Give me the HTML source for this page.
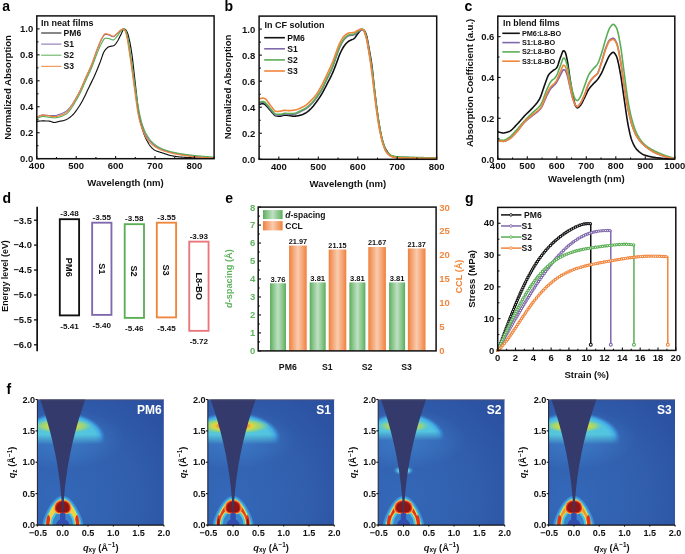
<!DOCTYPE html><html><head><meta charset="utf-8"><style>html,body{margin:0;padding:0;background:#fff;}svg{display:block;filter:blur(0.3px);}text{font-family:'Liberation Sans',sans-serif}</style></head><body>
<svg width="685" height="554" viewBox="0 0 685 554">
<rect width="685" height="554" fill="#fff"/>
<text x="2.2" y="10.8" text-anchor="start" style="font-size:14px;font-weight:bold;fill:#000;">a</text>
<text x="224.5" y="10.8" text-anchor="start" style="font-size:14px;font-weight:bold;fill:#000;">b</text>
<text x="464.6" y="10.6" text-anchor="start" style="font-size:14px;font-weight:bold;fill:#000;">c</text>
<text x="2.6" y="202.7" text-anchor="start" style="font-size:14px;font-weight:bold;fill:#000;">d</text>
<text x="225.2" y="203.3" text-anchor="start" style="font-size:14px;font-weight:bold;fill:#000;">e</text>
<text x="465" y="203.3" text-anchor="start" style="font-size:14px;font-weight:bold;fill:#000;">g</text>
<text x="6.6" y="394.3" text-anchor="start" style="font-size:14px;font-weight:bold;fill:#000;">f</text>
<path d="M36.8,121.7 L37.3,121.54 L37.8,121.39 L38.3,121.26 L38.8,121.15 L39.3,121.08 L39.81,121.04 L40.31,121 L40.81,120.98 L41.31,120.95 L41.81,120.94 L42.31,120.93 L42.81,120.92 L43.31,120.92 L43.81,120.93 L44.31,120.93 L44.81,120.94 L45.31,120.95 L45.82,120.96 L46.32,120.97 L46.82,120.99 L47.32,121 L47.82,121.02 L48.32,121.04 L48.82,121.07 L49.32,121.13 L49.82,121.24 L50.32,121.37 L50.82,121.54 L51.32,121.71 L51.83,121.88 L52.33,122.05 L52.83,122.21 L53.33,122.34 L53.83,122.43 L54.33,122.48 L54.83,122.47 L55.33,122.41 L55.83,122.31 L56.33,122.18 L56.83,122.03 L57.33,121.88 L57.84,121.72 L58.34,121.57 L58.84,121.45 L59.34,121.35 L59.84,121.25 L60.34,121.17 L60.84,121.08 L61.34,121 L61.84,120.91 L62.34,120.82 L62.84,120.72 L63.34,120.6 L63.85,120.46 L64.35,120.3 L64.85,120.12 L65.35,119.92 L65.85,119.69 L66.35,119.46 L66.85,119.21 L67.35,118.94 L67.85,118.67 L68.35,118.37 L68.85,118.05 L69.36,117.71 L69.86,117.34 L70.36,116.96 L70.86,116.55 L71.36,116.13 L71.86,115.69 L72.36,115.23 L72.86,114.75 L73.36,114.23 L73.86,113.67 L74.36,113.08 L74.86,112.46 L75.37,111.8 L75.87,111.13 L76.37,110.43 L76.87,109.72 L77.37,109 L77.87,108.28 L78.37,107.54 L78.87,106.79 L79.37,106.01 L79.87,105.21 L80.37,104.39 L80.87,103.56 L81.38,102.7 L81.88,101.82 L82.38,100.92 L82.88,100.01 L83.38,99.08 L83.88,98.11 L84.38,97.11 L84.88,96.07 L85.38,95 L85.88,93.91 L86.38,92.81 L86.88,91.71 L87.39,90.61 L87.89,89.53 L88.39,88.45 L88.89,87.41 L89.39,86.38 L89.89,85.37 L90.39,84.37 L90.89,83.37 L91.39,82.37 L91.89,81.37 L92.39,80.36 L92.89,79.33 L93.4,78.28 L93.9,77.2 L94.4,76.1 L94.9,74.97 L95.4,73.81 L95.9,72.62 L96.4,71.42 L96.9,70.19 L97.4,68.96 L97.9,67.71 L98.4,66.46 L98.91,65.2 L99.41,63.94 L99.91,62.68 L100.41,61.41 L100.91,60.05 L101.41,58.6 L101.91,57.12 L102.41,55.67 L102.91,54.28 L103.41,53.01 L103.91,51.92 L104.41,51.06 L104.92,50.38 L105.42,49.74 L105.92,49.15 L106.42,48.62 L106.92,48.13 L107.42,47.7 L107.92,47.33 L108.42,47.03 L108.92,46.79 L109.42,46.61 L109.92,46.46 L110.42,46.35 L110.93,46.25 L111.43,46.16 L111.93,46.07 L112.43,45.97 L112.93,45.84 L113.43,45.69 L113.93,45.49 L114.43,45.18 L114.93,44.73 L115.43,44.16 L115.93,43.51 L116.43,42.8 L116.94,42.05 L117.44,41.3 L117.94,40.49 L118.44,39.57 L118.94,38.56 L119.44,37.5 L119.94,36.42 L120.44,35.38 L120.94,34.39 L121.44,33.44 L121.94,32.36 L122.44,31.25 L122.95,30.26 L123.45,29.52 L123.95,29.16 L124.45,29.18 L124.95,29.32 L125.45,29.53 L125.95,29.97 L126.45,30.74 L126.95,31.73 L127.45,32.85 L127.95,34.25 L128.46,36.04 L128.96,38.1 L129.46,40.35 L129.96,42.69 L130.46,45.28 L130.96,48.15 L131.46,51.27 L131.96,54.64 L132.46,58.41 L132.96,62.65 L133.46,67.14 L133.96,71.66 L134.47,76.09 L134.97,80.59 L135.47,85.13 L135.97,89.66 L136.47,94.15 L136.97,98.8 L137.47,103.36 L137.97,107.44 L138.47,110.9 L138.97,114.03 L139.47,116.89 L139.97,119.49 L140.48,121.9 L140.98,124.14 L141.48,126.18 L141.98,128 L142.48,129.63 L142.98,131.18 L143.48,132.63 L143.98,134 L144.48,135.29 L144.98,136.49 L145.48,137.62 L145.98,138.67 L146.49,139.68 L146.99,140.66 L147.49,141.6 L147.99,142.51 L148.49,143.38 L148.99,144.2 L149.49,144.97 L149.99,145.69 L150.49,146.35 L150.99,146.94 L151.49,147.48 L151.99,147.98 L152.5,148.45 L153,148.89 L153.5,149.3 L154,149.67 L154.5,150 L155,150.29 L155.5,150.54 L156,150.77 L156.5,150.99 L157,151.19 L157.5,151.38 L158.01,151.56 L158.51,151.73 L159.01,151.89 L159.51,152.04 L160.01,152.19 L160.51,152.34 L161.01,152.49 L161.51,152.63 L162.01,152.78 L162.51,152.94 L163.01,153.1 L163.51,153.26 L164.02,153.43 L164.52,153.6 L165.02,153.78 L165.52,153.95 L166.02,154.12 L166.52,154.29 L167.02,154.46 L167.52,154.63 L168.02,154.79 L168.52,154.94 L169.02,155.09 L169.52,155.23 L170.03,155.36 L170.53,155.48 L171.03,155.59 L171.53,155.69 L172.03,155.79 L172.53,155.89 L173.03,155.99 L173.53,156.08 L174.03,156.17 L174.53,156.26 L175.03,156.34 L175.53,156.42 L176.04,156.5 L176.54,156.58 L177.04,156.65 L177.54,156.72 L178.04,156.78 L178.54,156.84 L179.04,156.9 L179.54,156.95 L180.04,157 L180.54,157.04 L181.04,157.08 L181.54,157.12 L182.05,157.16 L182.55,157.2 L183.05,157.23 L183.55,157.27 L184.05,157.3 L184.55,157.33 L185.05,157.36 L185.55,157.39 L186.05,157.42 L186.55,157.45 L187.05,157.47 L187.56,157.5 L188.06,157.53 L188.56,157.55 L189.06,157.58 L189.56,157.6 L190.06,157.63 L190.56,157.65 L191.06,157.68 L191.56,157.71 L192.06,157.73 L192.56,157.76 L193.06,157.78 L193.57,157.81 L194.07,157.84 L194.57,157.86 L195.07,157.89 L195.57,157.91 L196.07,157.93 L196.57,157.96 L197.07,157.98 L197.57,158 L198.07,158.03 L198.57,158.05 L199.07,158.07 L199.58,158.09 L200.08,158.11 L200.58,158.12 L201.08,158.14 L201.58,158.16 L202.08,158.17 L202.58,158.19 L203.08,158.2 L203.58,158.22 L204.08,158.23 L204.58,158.25 L205.08,158.26 L205.59,158.27 L206.09,158.29 L206.59,158.3 L207.09,158.31 L207.59,158.32 L208.09,158.34 L208.59,158.35 L209.09,158.36 L209.59,158.37 L210.09,158.38 L210.59,158.39 L211.09,158.4 L211.6,158.41 L212.1,158.41 L212.6,158.42 L213.1,158.43 L213.6,158.43 L214.1,158.44" fill="none" stroke="#111" stroke-width="1.15" stroke-linejoin="round"/>
<path d="M36.8,117.68 L37.3,117.26 L37.8,116.87 L38.3,116.52 L38.8,116.21 L39.3,115.96 L39.81,115.77 L40.31,115.59 L40.81,115.42 L41.31,115.28 L41.81,115.17 L42.31,115.1 L42.81,115.08 L43.31,115.09 L43.81,115.11 L44.31,115.14 L44.81,115.18 L45.31,115.22 L45.82,115.27 L46.32,115.31 L46.82,115.36 L47.32,115.4 L47.82,115.43 L48.32,115.46 L48.82,115.48 L49.32,115.49 L49.82,115.51 L50.32,115.53 L50.82,115.54 L51.32,115.55 L51.83,115.57 L52.33,115.58 L52.83,115.59 L53.33,115.59 L53.83,115.6 L54.33,115.6 L54.83,115.59 L55.33,115.55 L55.83,115.47 L56.33,115.37 L56.83,115.24 L57.33,115.09 L57.84,114.92 L58.34,114.75 L58.84,114.58 L59.34,114.41 L59.84,114.24 L60.34,114.07 L60.84,113.89 L61.34,113.69 L61.84,113.49 L62.34,113.28 L62.84,113.05 L63.34,112.81 L63.85,112.56 L64.35,112.29 L64.85,112 L65.35,111.71 L65.85,111.39 L66.35,111.06 L66.85,110.69 L67.35,110.26 L67.85,109.79 L68.35,109.28 L68.85,108.73 L69.36,108.14 L69.86,107.54 L70.36,106.91 L70.86,106.27 L71.36,105.62 L71.86,104.95 L72.36,104.24 L72.86,103.48 L73.36,102.68 L73.86,101.86 L74.36,101.02 L74.86,100.17 L75.37,99.32 L75.87,98.47 L76.37,97.61 L76.87,96.74 L77.37,95.86 L77.87,94.96 L78.37,94.04 L78.87,93.1 L79.37,92.14 L79.87,91.15 L80.37,90.14 L80.87,89.09 L81.38,88 L81.88,86.89 L82.38,85.75 L82.88,84.6 L83.38,83.44 L83.88,82.28 L84.38,81.12 L84.88,79.97 L85.38,78.83 L85.88,77.71 L86.38,76.61 L86.88,75.52 L87.39,74.44 L87.89,73.36 L88.39,72.28 L88.89,71.19 L89.39,70.09 L89.89,68.98 L90.39,67.84 L90.89,66.67 L91.39,65.46 L91.89,64.21 L92.39,62.9 L92.89,61.55 L93.4,60.16 L93.9,58.74 L94.4,57.31 L94.9,55.88 L95.4,54.46 L95.9,53.05 L96.4,51.68 L96.9,50.36 L97.4,49.08 L97.9,47.81 L98.4,46.52 L98.91,45.24 L99.41,43.99 L99.91,42.78 L100.41,41.64 L100.91,40.58 L101.41,39.62 L101.91,38.75 L102.41,37.84 L102.91,36.93 L103.41,36.08 L103.91,35.34 L104.41,34.76 L104.92,34.41 L105.42,34.34 L105.92,34.37 L106.42,34.43 L106.92,34.51 L107.42,34.62 L107.92,34.74 L108.42,34.86 L108.92,34.99 L109.42,35.15 L109.92,35.37 L110.42,35.62 L110.93,35.88 L111.43,36.14 L111.93,36.37 L112.43,36.55 L112.93,36.65 L113.43,36.66 L113.93,36.5 L114.43,36.21 L114.93,35.81 L115.43,35.35 L115.93,34.86 L116.43,34.38 L116.94,33.94 L117.44,33.46 L117.94,32.93 L118.44,32.37 L118.94,31.81 L119.44,31.28 L119.94,30.79 L120.44,30.37 L120.94,30.04 L121.44,29.71 L121.94,29.4 L122.44,29.14 L122.95,28.96 L123.45,28.88 L123.95,29.03 L124.45,29.45 L124.95,30.08 L125.45,30.83 L125.95,31.98 L126.45,33.74 L126.95,35.86 L127.45,38.12 L127.95,40.68 L128.46,43.65 L128.96,46.84 L129.46,50.08 L129.96,53.42 L130.46,56.91 L130.96,60.5 L131.46,64.14 L131.96,67.78 L132.46,71.4 L132.96,75.11 L133.46,78.85 L133.96,82.56 L134.47,86.18 L134.97,89.66 L135.47,93.04 L135.97,96.37 L136.47,99.62 L136.97,102.73 L137.47,105.68 L137.97,108.46 L138.47,111.16 L138.97,113.72 L139.47,116.1 L139.97,118.24 L140.48,120.15 L140.98,121.89 L141.48,123.51 L141.98,125.03 L142.48,126.5 L142.98,127.96 L143.48,129.39 L143.98,130.79 L144.48,132.11 L144.98,133.34 L145.48,134.45 L145.98,135.42 L146.49,136.28 L146.99,137.1 L147.49,137.87 L147.99,138.59 L148.49,139.28 L148.99,139.92 L149.49,140.53 L149.99,141.11 L150.49,141.65 L150.99,142.17 L151.49,142.66 L151.99,143.14 L152.5,143.6 L153,144.03 L153.5,144.46 L154,144.86 L154.5,145.25 L155,145.62 L155.5,145.98 L156,146.32 L156.5,146.65 L157,146.96 L157.5,147.26 L158.01,147.54 L158.51,147.82 L159.01,148.09 L159.51,148.34 L160.01,148.59 L160.51,148.83 L161.01,149.06 L161.51,149.29 L162.01,149.5 L162.51,149.71 L163.01,149.9 L163.51,150.09 L164.02,150.27 L164.52,150.44 L165.02,150.6 L165.52,150.77 L166.02,150.92 L166.52,151.08 L167.02,151.23 L167.52,151.38 L168.02,151.52 L168.52,151.66 L169.02,151.8 L169.52,151.93 L170.03,152.06 L170.53,152.19 L171.03,152.32 L171.53,152.44 L172.03,152.56 L172.53,152.68 L173.03,152.8 L173.53,152.91 L174.03,153.02 L174.53,153.13 L175.03,153.24 L175.53,153.35 L176.04,153.45 L176.54,153.55 L177.04,153.65 L177.54,153.75 L178.04,153.85 L178.54,153.95 L179.04,154.04 L179.54,154.13 L180.04,154.23 L180.54,154.32 L181.04,154.4 L181.54,154.49 L182.05,154.58 L182.55,154.66 L183.05,154.75 L183.55,154.83 L184.05,154.91 L184.55,154.99 L185.05,155.07 L185.55,155.14 L186.05,155.22 L186.55,155.29 L187.05,155.36 L187.56,155.43 L188.06,155.5 L188.56,155.57 L189.06,155.64 L189.56,155.7 L190.06,155.77 L190.56,155.83 L191.06,155.89 L191.56,155.95 L192.06,156.01 L192.56,156.07 L193.06,156.13 L193.57,156.18 L194.07,156.24 L194.57,156.3 L195.07,156.35 L195.57,156.41 L196.07,156.46 L196.57,156.51 L197.07,156.56 L197.57,156.61 L198.07,156.66 L198.57,156.71 L199.07,156.76 L199.58,156.81 L200.08,156.85 L200.58,156.89 L201.08,156.94 L201.58,156.98 L202.08,157.02 L202.58,157.05 L203.08,157.09 L203.58,157.12 L204.08,157.16 L204.58,157.19 L205.08,157.22 L205.59,157.25 L206.09,157.28 L206.59,157.31 L207.09,157.34 L207.59,157.37 L208.09,157.4 L208.59,157.43 L209.09,157.45 L209.59,157.48 L210.09,157.5 L210.59,157.53 L211.09,157.55 L211.6,157.57 L212.1,157.59 L212.6,157.61 L213.1,157.63 L213.6,157.65 L214.1,157.66" fill="none" stroke="#7f68ab" stroke-width="1.15" stroke-linejoin="round"/>
<path d="M36.8,118.59 L37.3,118.35 L37.8,118.12 L38.3,117.9 L38.8,117.7 L39.3,117.51 L39.81,117.33 L40.31,117.14 L40.81,116.95 L41.31,116.77 L41.81,116.63 L42.31,116.53 L42.81,116.51 L43.31,116.52 L43.81,116.55 L44.31,116.59 L44.81,116.64 L45.31,116.71 L45.82,116.77 L46.32,116.84 L46.82,116.92 L47.32,116.99 L47.82,117.06 L48.32,117.12 L48.82,117.18 L49.32,117.24 L49.82,117.31 L50.32,117.38 L50.82,117.46 L51.32,117.53 L51.83,117.6 L52.33,117.66 L52.83,117.72 L53.33,117.76 L53.83,117.79 L54.33,117.81 L54.83,117.8 L55.33,117.77 L55.83,117.72 L56.33,117.65 L56.83,117.56 L57.33,117.46 L57.84,117.35 L58.34,117.23 L58.84,117.1 L59.34,116.98 L59.84,116.85 L60.34,116.71 L60.84,116.56 L61.34,116.4 L61.84,116.22 L62.34,116.02 L62.84,115.81 L63.34,115.59 L63.85,115.35 L64.35,115.09 L64.85,114.82 L65.35,114.53 L65.85,114.23 L66.35,113.91 L66.85,113.55 L67.35,113.12 L67.85,112.63 L68.35,112.09 L68.85,111.51 L69.36,110.89 L69.86,110.25 L70.36,109.58 L70.86,108.91 L71.36,108.23 L71.86,107.53 L72.36,106.77 L72.86,105.97 L73.36,105.14 L73.86,104.28 L74.36,103.4 L74.86,102.53 L75.37,101.66 L75.87,100.8 L76.37,99.95 L76.87,99.09 L77.37,98.23 L77.87,97.36 L78.37,96.47 L78.87,95.56 L79.37,94.62 L79.87,93.67 L80.37,92.67 L80.87,91.64 L81.38,90.57 L81.88,89.46 L82.38,88.33 L82.88,87.19 L83.38,86.03 L83.88,84.86 L84.38,83.7 L84.88,82.55 L85.38,81.42 L85.88,80.31 L86.38,79.21 L86.88,78.13 L87.39,77.06 L87.89,75.99 L88.39,74.92 L88.89,73.85 L89.39,72.77 L89.89,71.67 L90.39,70.55 L90.89,69.41 L91.39,68.24 L91.89,67.03 L92.39,65.78 L92.89,64.48 L93.4,63.15 L93.9,61.81 L94.4,60.44 L94.9,59.08 L95.4,57.73 L95.9,56.4 L96.4,55.09 L96.9,53.82 L97.4,52.6 L97.9,51.38 L98.4,50.14 L98.91,48.92 L99.41,47.71 L99.91,46.56 L100.41,45.46 L100.91,44.43 L101.41,43.51 L101.91,42.66 L102.41,41.77 L102.91,40.88 L103.41,40.04 L103.91,39.3 L104.41,38.72 L104.92,38.34 L105.42,38.23 L105.92,38.24 L106.42,38.28 L106.92,38.33 L107.42,38.39 L107.92,38.46 L108.42,38.54 L108.92,38.62 L109.42,38.73 L109.92,38.9 L110.42,39.09 L110.93,39.29 L111.43,39.5 L111.93,39.68 L112.43,39.82 L112.93,39.9 L113.43,39.9 L113.93,39.71 L114.43,39.35 L114.93,38.86 L115.43,38.28 L115.93,37.67 L116.43,37.06 L116.94,36.5 L117.44,35.88 L117.94,35.18 L118.44,34.43 L118.94,33.67 L119.44,32.91 L119.94,32.2 L120.44,31.55 L120.94,30.99 L121.44,30.52 L121.94,30.04 L122.44,29.59 L122.95,29.21 L123.45,28.96 L123.95,28.89 L124.45,29.1 L124.95,29.57 L125.45,30.23 L125.95,31.01 L126.45,32.32 L126.95,34.17 L127.45,36.34 L127.95,38.62 L128.46,41.31 L128.96,44.37 L129.46,47.58 L129.96,50.74 L130.46,53.93 L130.96,57.19 L131.46,60.51 L131.96,63.88 L132.46,67.28 L132.96,70.74 L133.46,74.28 L133.96,77.88 L134.47,81.46 L134.97,85 L135.47,88.44 L135.97,91.88 L136.47,95.31 L136.97,98.67 L137.47,101.9 L137.97,104.97 L138.47,107.85 L138.97,110.61 L139.47,113.22 L139.97,115.62 L140.48,117.85 L140.98,119.95 L141.48,121.88 L141.98,123.59 L142.48,125.11 L142.98,126.55 L143.48,127.9 L143.98,129.17 L144.48,130.37 L144.98,131.48 L145.48,132.51 L145.98,133.47 L146.49,134.38 L146.99,135.25 L147.49,136.08 L147.99,136.87 L148.49,137.62 L148.99,138.34 L149.49,139.02 L149.99,139.67 L150.49,140.28 L150.99,140.85 L151.49,141.38 L151.99,141.9 L152.5,142.39 L153,142.86 L153.5,143.32 L154,143.75 L154.5,144.17 L155,144.57 L155.5,144.96 L156,145.33 L156.5,145.68 L157,146.02 L157.5,146.34 L158.01,146.65 L158.51,146.95 L159.01,147.24 L159.51,147.52 L160.01,147.8 L160.51,148.06 L161.01,148.31 L161.51,148.56 L162.01,148.79 L162.51,149.01 L163.01,149.22 L163.51,149.42 L164.02,149.61 L164.52,149.79 L165.02,149.96 L165.52,150.13 L166.02,150.29 L166.52,150.45 L167.02,150.6 L167.52,150.75 L168.02,150.9 L168.52,151.04 L169.02,151.18 L169.52,151.32 L170.03,151.45 L170.53,151.58 L171.03,151.7 L171.53,151.83 L172.03,151.94 L172.53,152.06 L173.03,152.18 L173.53,152.29 L174.03,152.4 L174.53,152.5 L175.03,152.61 L175.53,152.71 L176.04,152.81 L176.54,152.91 L177.04,153.01 L177.54,153.1 L178.04,153.2 L178.54,153.29 L179.04,153.38 L179.54,153.47 L180.04,153.55 L180.54,153.64 L181.04,153.72 L181.54,153.8 L182.05,153.88 L182.55,153.96 L183.05,154.04 L183.55,154.11 L184.05,154.19 L184.55,154.26 L185.05,154.33 L185.55,154.4 L186.05,154.47 L186.55,154.54 L187.05,154.61 L187.56,154.67 L188.06,154.74 L188.56,154.8 L189.06,154.87 L189.56,154.93 L190.06,154.99 L190.56,155.05 L191.06,155.11 L191.56,155.17 L192.06,155.22 L192.56,155.28 L193.06,155.34 L193.57,155.39 L194.07,155.44 L194.57,155.5 L195.07,155.55 L195.57,155.6 L196.07,155.65 L196.57,155.7 L197.07,155.75 L197.57,155.8 L198.07,155.85 L198.57,155.89 L199.07,155.94 L199.58,155.99 L200.08,156.03 L200.58,156.08 L201.08,156.12 L201.58,156.17 L202.08,156.21 L202.58,156.25 L203.08,156.3 L203.58,156.34 L204.08,156.38 L204.58,156.42 L205.08,156.47 L205.59,156.51 L206.09,156.55 L206.59,156.59 L207.09,156.63 L207.59,156.67 L208.09,156.71 L208.59,156.75 L209.09,156.79 L209.59,156.82 L210.09,156.86 L210.59,156.9 L211.09,156.93 L211.6,156.97 L212.1,157.01 L212.6,157.04 L213.1,157.07 L213.6,157.11 L214.1,157.14" fill="none" stroke="#5aae55" stroke-width="1.15" stroke-linejoin="round"/>
<path d="M36.8,117.81 L37.3,117.45 L37.8,117.11 L38.3,116.8 L38.8,116.51 L39.3,116.24 L39.81,116 L40.31,115.75 L40.81,115.5 L41.31,115.28 L41.81,115.1 L42.31,114.98 L42.81,114.95 L43.31,114.97 L43.81,115.01 L44.31,115.07 L44.81,115.15 L45.31,115.23 L45.82,115.33 L46.32,115.43 L46.82,115.53 L47.32,115.63 L47.82,115.73 L48.32,115.81 L48.82,115.89 L49.32,115.97 L49.82,116.05 L50.32,116.14 L50.82,116.23 L51.32,116.31 L51.83,116.39 L52.33,116.47 L52.83,116.53 L53.33,116.58 L53.83,116.62 L54.33,116.64 L54.83,116.63 L55.33,116.6 L55.83,116.54 L56.33,116.46 L56.83,116.36 L57.33,116.24 L57.84,116.11 L58.34,115.97 L58.84,115.83 L59.34,115.69 L59.84,115.55 L60.34,115.39 L60.84,115.23 L61.34,115.05 L61.84,114.85 L62.34,114.64 L62.84,114.42 L63.34,114.17 L63.85,113.91 L64.35,113.64 L64.85,113.34 L65.35,113.03 L65.85,112.7 L66.35,112.35 L66.85,111.95 L67.35,111.47 L67.85,110.92 L68.35,110.32 L68.85,109.66 L69.36,108.97 L69.86,108.25 L70.36,107.51 L70.86,106.77 L71.36,106.03 L71.86,105.29 L72.36,104.51 L72.86,103.69 L73.36,102.85 L73.86,101.98 L74.36,101.1 L74.86,100.21 L75.37,99.33 L75.87,98.44 L76.37,97.54 L76.87,96.64 L77.37,95.73 L77.87,94.8 L78.37,93.86 L78.87,92.89 L79.37,91.91 L79.87,90.9 L80.37,89.86 L80.87,88.78 L81.38,87.67 L81.88,86.53 L82.38,85.37 L82.88,84.19 L83.38,83.01 L83.88,81.82 L84.38,80.64 L84.88,79.47 L85.38,78.32 L85.88,77.18 L86.38,76.07 L86.88,74.98 L87.39,73.9 L87.89,72.82 L88.39,71.74 L88.89,70.66 L89.39,69.56 L89.89,68.45 L90.39,67.31 L90.89,66.15 L91.39,64.94 L91.89,63.69 L92.39,62.39 L92.89,61.03 L93.4,59.64 L93.9,58.22 L94.4,56.79 L94.9,55.36 L95.4,53.94 L95.9,52.54 L96.4,51.17 L96.9,49.84 L97.4,48.56 L97.9,47.29 L98.4,46.01 L98.91,44.73 L99.41,43.48 L99.91,42.28 L100.41,41.14 L100.91,40.07 L101.41,39.11 L101.91,38.22 L102.41,37.29 L102.91,36.36 L103.41,35.48 L103.91,34.72 L104.41,34.13 L104.92,33.77 L105.42,33.69 L105.92,33.72 L106.42,33.8 L106.92,33.91 L107.42,34.04 L107.92,34.18 L108.42,34.33 L108.92,34.47 L109.42,34.64 L109.92,34.87 L110.42,35.12 L110.93,35.38 L111.43,35.64 L111.93,35.86 L112.43,36.03 L112.93,36.13 L113.43,36.14 L113.93,35.99 L114.43,35.71 L114.93,35.33 L115.43,34.89 L115.93,34.42 L116.43,33.97 L116.94,33.56 L117.44,33.13 L117.94,32.66 L118.44,32.17 L118.94,31.68 L119.44,31.2 L119.94,30.76 L120.44,30.37 L120.94,30.04 L121.44,29.69 L121.94,29.36 L122.44,29.09 L122.95,28.92 L123.45,28.91 L123.95,29.24 L124.45,29.86 L124.95,30.65 L125.45,31.7 L125.95,33.34 L126.45,35.38 L126.95,37.63 L127.45,40.16 L127.95,43.21 L128.46,46.54 L128.96,49.91 L129.46,53.18 L129.96,56.48 L130.46,59.83 L130.96,63.24 L131.46,66.7 L131.96,70.22 L132.46,73.82 L132.96,77.51 L133.46,81.27 L133.96,85.04 L134.47,88.8 L134.97,92.52 L135.47,96.38 L135.97,100.27 L136.47,104.04 L136.97,107.5 L137.47,110.54 L137.97,113.34 L138.47,115.94 L138.97,118.32 L139.47,120.44 L139.97,122.28 L140.48,123.92 L140.98,125.41 L141.48,126.8 L141.98,128.14 L142.48,129.46 L142.98,130.77 L143.48,132.04 L143.98,133.27 L144.48,134.43 L144.98,135.51 L145.48,136.49 L145.98,137.36 L146.49,138.15 L146.99,138.9 L147.49,139.61 L147.99,140.29 L148.49,140.92 L148.99,141.52 L149.49,142.09 L149.99,142.63 L150.49,143.14 L150.99,143.62 L151.49,144.08 L151.99,144.52 L152.5,144.94 L153,145.34 L153.5,145.73 L154,146.1 L154.5,146.46 L155,146.81 L155.5,147.14 L156,147.45 L156.5,147.75 L157,148.04 L157.5,148.31 L158.01,148.57 L158.51,148.82 L159.01,149.07 L159.51,149.3 L160.01,149.53 L160.51,149.74 L161.01,149.95 L161.51,150.15 L162.01,150.35 L162.51,150.54 L163.01,150.72 L163.51,150.89 L164.02,151.05 L164.52,151.21 L165.02,151.37 L165.52,151.52 L166.02,151.67 L166.52,151.82 L167.02,151.96 L167.52,152.11 L168.02,152.24 L168.52,152.38 L169.02,152.51 L169.52,152.64 L170.03,152.77 L170.53,152.9 L171.03,153.02 L171.53,153.14 L172.03,153.26 L172.53,153.37 L173.03,153.48 L173.53,153.59 L174.03,153.7 L174.53,153.81 L175.03,153.91 L175.53,154.01 L176.04,154.11 L176.54,154.21 L177.04,154.31 L177.54,154.4 L178.04,154.49 L178.54,154.58 L179.04,154.67 L179.54,154.76 L180.04,154.85 L180.54,154.93 L181.04,155.02 L181.54,155.1 L182.05,155.18 L182.55,155.26 L183.05,155.34 L183.55,155.42 L184.05,155.49 L184.55,155.57 L185.05,155.64 L185.55,155.71 L186.05,155.78 L186.55,155.85 L187.05,155.92 L187.56,155.98 L188.06,156.05 L188.56,156.11 L189.06,156.17 L189.56,156.23 L190.06,156.29 L190.56,156.35 L191.06,156.4 L191.56,156.46 L192.06,156.51 L192.56,156.57 L193.06,156.62 L193.57,156.67 L194.07,156.72 L194.57,156.77 L195.07,156.82 L195.57,156.87 L196.07,156.92 L196.57,156.96 L197.07,157.01 L197.57,157.05 L198.07,157.1 L198.57,157.14 L199.07,157.18 L199.58,157.22 L200.08,157.26 L200.58,157.3 L201.08,157.34 L201.58,157.38 L202.08,157.41 L202.58,157.45 L203.08,157.48 L203.58,157.51 L204.08,157.55 L204.58,157.58 L205.08,157.61 L205.59,157.64 L206.09,157.67 L206.59,157.7 L207.09,157.73 L207.59,157.76 L208.09,157.78 L208.59,157.81 L209.09,157.84 L209.59,157.86 L210.09,157.89 L210.59,157.91 L211.09,157.93 L211.6,157.95 L212.1,157.98 L212.6,158 L213.1,158.01 L213.6,158.03 L214.1,158.05" fill="none" stroke="#f0853c" stroke-width="1.15" stroke-linejoin="round"/>
<rect x="36.8" y="15.9" width="177.3" height="142.8" fill="none" stroke="#111" stroke-width="1.5"/>
<line x1="36.8" y1="158.7" x2="36.8" y2="155.9" stroke="#111" stroke-width="1.1"/>
<line x1="76.2" y1="158.7" x2="76.2" y2="155.9" stroke="#111" stroke-width="1.1"/>
<line x1="115.6" y1="158.7" x2="115.6" y2="155.9" stroke="#111" stroke-width="1.1"/>
<line x1="155" y1="158.7" x2="155" y2="155.9" stroke="#111" stroke-width="1.1"/>
<line x1="194.4" y1="158.7" x2="194.4" y2="155.9" stroke="#111" stroke-width="1.1"/>
<line x1="56.5" y1="158.7" x2="56.5" y2="157" stroke="#111" stroke-width="1.1"/>
<line x1="95.9" y1="158.7" x2="95.9" y2="157" stroke="#111" stroke-width="1.1"/>
<line x1="135.3" y1="158.7" x2="135.3" y2="157" stroke="#111" stroke-width="1.1"/>
<line x1="174.7" y1="158.7" x2="174.7" y2="157" stroke="#111" stroke-width="1.1"/>
<line x1="214.1" y1="158.7" x2="214.1" y2="157" stroke="#111" stroke-width="1.1"/>
<line x1="36.8" y1="158.7" x2="39.6" y2="158.7" stroke="#111" stroke-width="1.1"/>
<line x1="36.8" y1="132.74" x2="39.6" y2="132.74" stroke="#111" stroke-width="1.1"/>
<line x1="36.8" y1="106.77" x2="39.6" y2="106.77" stroke="#111" stroke-width="1.1"/>
<line x1="36.8" y1="80.81" x2="39.6" y2="80.81" stroke="#111" stroke-width="1.1"/>
<line x1="36.8" y1="54.85" x2="39.6" y2="54.85" stroke="#111" stroke-width="1.1"/>
<line x1="36.8" y1="28.88" x2="39.6" y2="28.88" stroke="#111" stroke-width="1.1"/>
<line x1="36.8" y1="145.72" x2="38.5" y2="145.72" stroke="#111" stroke-width="1.1"/>
<line x1="36.8" y1="119.75" x2="38.5" y2="119.75" stroke="#111" stroke-width="1.1"/>
<line x1="36.8" y1="93.79" x2="38.5" y2="93.79" stroke="#111" stroke-width="1.1"/>
<line x1="36.8" y1="67.83" x2="38.5" y2="67.83" stroke="#111" stroke-width="1.1"/>
<line x1="36.8" y1="41.86" x2="38.5" y2="41.86" stroke="#111" stroke-width="1.1"/>
<text x="33.3" y="162.1" text-anchor="end" style="font-size:9.5px;font-weight:bold;fill:#111;">0.0</text>
<text x="33.3" y="136.14" text-anchor="end" style="font-size:9.5px;font-weight:bold;fill:#111;">0.2</text>
<text x="33.3" y="110.17" text-anchor="end" style="font-size:9.5px;font-weight:bold;fill:#111;">0.4</text>
<text x="33.3" y="84.21" text-anchor="end" style="font-size:9.5px;font-weight:bold;fill:#111;">0.6</text>
<text x="33.3" y="58.25" text-anchor="end" style="font-size:9.5px;font-weight:bold;fill:#111;">0.8</text>
<text x="33.3" y="32.28" text-anchor="end" style="font-size:9.5px;font-weight:bold;fill:#111;">1.0</text>
<text x="36.8" y="169.2" text-anchor="middle" style="font-size:9.5px;font-weight:bold;fill:#111;">400</text>
<text x="76.2" y="169.2" text-anchor="middle" style="font-size:9.5px;font-weight:bold;fill:#111;">500</text>
<text x="115.6" y="169.2" text-anchor="middle" style="font-size:9.5px;font-weight:bold;fill:#111;">600</text>
<text x="155" y="169.2" text-anchor="middle" style="font-size:9.5px;font-weight:bold;fill:#111;">700</text>
<text x="194.4" y="169.2" text-anchor="middle" style="font-size:9.5px;font-weight:bold;fill:#111;">800</text>
<text x="125.5" y="186" text-anchor="middle" style="font-size:9.55px;font-weight:bold;fill:#111;">Wavelength (nm)</text>
<text transform="translate(10.9,87.4) rotate(-90)" text-anchor="middle" style="font-size:9.55px;font-weight:bold;fill:#111;">Normalized Absorption</text>
<text x="41" y="25.8" text-anchor="start" style="font-size:9px;font-weight:bold;fill:#111;">In neat films</text>
<line x1="41.2" y1="33" x2="61.4" y2="33" stroke="#111" stroke-width="1"/>
<text x="63.5" y="36.1" text-anchor="start" style="font-size:8.6px;font-weight:bold;fill:#111;">PM6</text>
<line x1="41.2" y1="44.1" x2="61.4" y2="44.1" stroke="#7f68ab" stroke-width="1"/>
<text x="63.5" y="47.2" text-anchor="start" style="font-size:8.6px;font-weight:bold;fill:#111;">S1</text>
<line x1="41.2" y1="55.2" x2="61.4" y2="55.2" stroke="#5aae55" stroke-width="1"/>
<text x="63.5" y="58.3" text-anchor="start" style="font-size:8.6px;font-weight:bold;fill:#111;">S2</text>
<line x1="41.2" y1="66.3" x2="61.4" y2="66.3" stroke="#f0853c" stroke-width="1"/>
<text x="63.5" y="69.4" text-anchor="start" style="font-size:8.6px;font-weight:bold;fill:#111;">S3</text>
<path d="M259.1,104.62 L259.6,104.37 L260.1,104.15 L260.6,103.96 L261.1,103.84 L261.6,103.74 L262.1,103.66 L262.6,103.6 L263.1,103.58 L263.6,103.71 L264.1,103.98 L264.6,104.33 L265.1,104.68 L265.6,105.09 L266.1,105.56 L266.6,106.06 L267.1,106.59 L267.6,107.16 L268.11,107.76 L268.61,108.38 L269.11,109 L269.61,109.61 L270.11,110.21 L270.61,110.78 L271.11,111.31 L271.61,111.86 L272.11,112.43 L272.61,113.01 L273.11,113.58 L273.61,114.12 L274.11,114.62 L274.61,115.06 L275.11,115.42 L275.61,115.68 L276.11,115.83 L276.61,115.92 L277.11,116 L277.61,116.07 L278.11,116.13 L278.61,116.17 L279.11,116.2 L279.61,116.21 L280.11,116.18 L280.61,116.11 L281.11,116 L281.61,115.86 L282.11,115.71 L282.61,115.56 L283.11,115.42 L283.61,115.3 L284.11,115.21 L284.61,115.17 L285.11,115.17 L285.61,115.19 L286.12,115.22 L286.62,115.26 L287.12,115.31 L287.62,115.36 L288.12,115.41 L288.62,115.46 L289.12,115.53 L289.62,115.6 L290.12,115.69 L290.62,115.78 L291.12,115.87 L291.62,115.96 L292.12,116.04 L292.62,116.11 L293.12,116.16 L293.62,116.2 L294.12,116.21 L294.62,116.2 L295.12,116.17 L295.62,116.13 L296.12,116.06 L296.62,115.99 L297.12,115.91 L297.62,115.81 L298.12,115.71 L298.62,115.61 L299.12,115.49 L299.62,115.38 L300.12,115.27 L300.62,115.14 L301.12,114.99 L301.62,114.82 L302.12,114.63 L302.62,114.43 L303.12,114.22 L303.63,113.99 L304.13,113.74 L304.63,113.49 L305.13,113.23 L305.63,112.96 L306.13,112.66 L306.63,112.33 L307.13,111.97 L307.63,111.6 L308.13,111.19 L308.63,110.78 L309.13,110.34 L309.63,109.89 L310.13,109.43 L310.63,108.95 L311.13,108.47 L311.63,107.95 L312.13,107.41 L312.63,106.84 L313.13,106.25 L313.63,105.63 L314.13,105 L314.63,104.36 L315.13,103.71 L315.63,103.05 L316.13,102.38 L316.63,101.71 L317.13,101.02 L317.63,100.32 L318.13,99.61 L318.63,98.88 L319.13,98.13 L319.63,97.37 L320.13,96.6 L320.63,95.81 L321.13,95 L321.64,94.18 L322.14,93.33 L322.64,92.45 L323.14,91.55 L323.64,90.62 L324.14,89.68 L324.64,88.72 L325.14,87.75 L325.64,86.78 L326.14,85.8 L326.64,84.82 L327.14,83.85 L327.64,82.89 L328.14,81.93 L328.64,80.98 L329.14,80.01 L329.64,79.05 L330.14,78.07 L330.64,77.07 L331.14,76.05 L331.64,75 L332.14,73.93 L332.64,72.82 L333.14,71.66 L333.64,70.45 L334.14,69.2 L334.64,67.93 L335.14,66.64 L335.64,65.34 L336.14,64.05 L336.64,62.71 L337.14,61.32 L337.64,59.9 L338.14,58.47 L338.64,57.08 L339.15,55.74 L339.65,54.48 L340.15,53.33 L340.65,52.27 L341.15,51.23 L341.65,50.24 L342.15,49.28 L342.65,48.37 L343.15,47.51 L343.65,46.71 L344.15,45.98 L344.65,45.31 L345.15,44.69 L345.65,44.09 L346.15,43.53 L346.65,43 L347.15,42.5 L347.65,42.05 L348.15,41.63 L348.65,41.26 L349.15,40.93 L349.65,40.65 L350.15,40.41 L350.65,40.2 L351.15,40 L351.65,39.81 L352.15,39.61 L352.65,39.39 L353.15,39.14 L353.65,38.84 L354.15,38.48 L354.65,38 L355.15,37.39 L355.65,36.71 L356.15,35.98 L356.65,35.26 L357.16,34.58 L357.66,33.96 L358.16,33.33 L358.66,32.65 L359.16,31.95 L359.66,31.27 L360.16,30.65 L360.66,30.13 L361.16,29.75 L361.66,29.54 L362.16,29.52 L362.66,29.64 L363.16,29.85 L363.66,30.14 L364.16,30.48 L364.66,31.07 L365.16,31.98 L365.66,33.13 L366.16,34.44 L366.66,36.08 L367.16,38.28 L367.66,40.88 L368.16,43.71 L368.66,46.6 L369.16,49.41 L369.66,52.12 L370.16,54.87 L370.66,57.73 L371.16,60.78 L371.66,64.1 L372.16,67.84 L372.66,72.37 L373.16,77.44 L373.66,82.62 L374.16,87.47 L374.67,91.83 L375.17,96.04 L375.67,100.1 L376.17,104.03 L376.67,107.8 L377.17,111.43 L377.67,114.97 L378.17,118.38 L378.67,121.64 L379.17,124.72 L379.67,127.59 L380.17,130.39 L380.67,133.08 L381.17,135.58 L381.67,137.81 L382.17,139.7 L382.67,141.39 L383.17,142.97 L383.67,144.45 L384.17,145.81 L384.67,147.04 L385.17,148.15 L385.67,149.13 L386.17,149.97 L386.67,150.76 L387.17,151.52 L387.67,152.24 L388.17,152.91 L388.67,153.54 L389.17,154.1 L389.67,154.6 L390.17,155.03 L390.67,155.38 L391.17,155.65 L391.67,155.86 L392.17,156.06 L392.68,156.25 L393.18,156.43 L393.68,156.59 L394.18,156.74 L394.68,156.88 L395.18,157 L395.68,157.1 L396.18,157.19 L396.68,157.26 L397.18,157.32 L397.68,157.35 L398.18,157.38 L398.68,157.4 L399.18,157.42 L399.68,157.45 L400.18,157.47 L400.68,157.48 L401.18,157.5 L401.68,157.52 L402.18,157.53 L402.68,157.55 L403.18,157.56 L403.68,157.57 L404.18,157.58 L404.68,157.59 L405.18,157.61 L405.68,157.62 L406.18,157.62 L406.68,157.63 L407.18,157.64 L407.68,157.65 L408.18,157.66 L408.68,157.67 L409.18,157.68 L409.68,157.69 L410.19,157.7 L410.69,157.71 L411.19,157.72 L411.69,157.73 L412.19,157.74 L412.69,157.75 L413.19,157.77 L413.69,157.78 L414.19,157.79 L414.69,157.8 L415.19,157.81 L415.69,157.82 L416.19,157.84 L416.69,157.85 L417.19,157.86 L417.69,157.87 L418.19,157.88 L418.69,157.89 L419.19,157.9 L419.69,157.92 L420.19,157.93 L420.69,157.94 L421.19,157.95 L421.69,157.96 L422.19,157.97 L422.69,157.98 L423.19,157.99 L423.69,158 L424.19,158.02 L424.69,158.03 L425.19,158.04 L425.69,158.05 L426.19,158.06 L426.69,158.07 L427.19,158.08 L427.69,158.09 L428.2,158.1 L428.7,158.11 L429.2,158.12 L429.7,158.13 L430.2,158.14 L430.7,158.15 L431.2,158.16 L431.7,158.17 L432.2,158.18 L432.7,158.19 L433.2,158.2 L433.7,158.2 L434.2,158.21 L434.7,158.22 L435.2,158.23 L435.7,158.24 L436.2,158.25 L436.7,158.26" fill="none" stroke="#111" stroke-width="1.6" stroke-linejoin="round"/>
<path d="M259.1,103.45 L259.6,103.15 L260.1,102.89 L260.6,102.67 L261.1,102.54 L261.6,102.44 L262.1,102.35 L262.6,102.3 L263.1,102.28 L263.6,102.38 L264.1,102.62 L264.6,102.92 L265.1,103.25 L265.6,103.68 L266.1,104.21 L266.6,104.76 L267.1,105.32 L267.6,105.91 L268.11,106.52 L268.61,107.15 L269.11,107.79 L269.61,108.41 L270.11,109.02 L270.61,109.6 L271.11,110.14 L271.61,110.72 L272.11,111.33 L272.61,111.96 L273.11,112.59 L273.61,113.19 L274.11,113.75 L274.61,114.24 L275.11,114.65 L275.61,114.95 L276.11,115.13 L276.61,115.17 L277.11,115.16 L277.61,115.16 L278.11,115.15 L278.61,115.13 L279.11,115.12 L279.61,115.1 L280.11,115.07 L280.61,115.05 L281.11,115.01 L281.61,114.91 L282.11,114.77 L282.61,114.61 L283.11,114.45 L283.61,114.3 L284.11,114.19 L284.61,114.13 L285.11,114.13 L285.61,114.15 L286.12,114.19 L286.62,114.23 L287.12,114.27 L287.62,114.32 L288.12,114.35 L288.62,114.38 L289.12,114.39 L289.62,114.38 L290.12,114.38 L290.62,114.36 L291.12,114.35 L291.62,114.33 L292.12,114.3 L292.62,114.27 L293.12,114.24 L293.62,114.21 L294.12,114.17 L294.62,114.13 L295.12,114.05 L295.62,113.93 L296.12,113.75 L296.62,113.54 L297.12,113.31 L297.62,113.04 L298.12,112.77 L298.62,112.49 L299.12,112.22 L299.62,111.96 L300.12,111.72 L300.62,111.49 L301.12,111.26 L301.62,111.03 L302.12,110.79 L302.62,110.55 L303.12,110.31 L303.63,110.05 L304.13,109.79 L304.63,109.51 L305.13,109.22 L305.63,108.9 L306.13,108.57 L306.63,108.22 L307.13,107.84 L307.63,107.45 L308.13,107.04 L308.63,106.62 L309.13,106.18 L309.63,105.73 L310.13,105.26 L310.63,104.79 L311.13,104.3 L311.63,103.79 L312.13,103.25 L312.63,102.7 L313.13,102.12 L313.63,101.53 L314.13,100.92 L314.63,100.29 L315.13,99.65 L315.63,99 L316.13,98.35 L316.63,97.68 L317.13,96.99 L317.63,96.29 L318.13,95.58 L318.63,94.84 L319.13,94.09 L319.63,93.32 L320.13,92.53 L320.63,91.71 L321.13,90.87 L321.64,90.01 L322.14,89.1 L322.64,88.15 L323.14,87.16 L323.64,86.13 L324.14,85.08 L324.64,84.01 L325.14,82.93 L325.64,81.84 L326.14,80.76 L326.64,79.69 L327.14,78.64 L327.64,77.61 L328.14,76.61 L328.64,75.62 L329.14,74.63 L329.64,73.63 L330.14,72.62 L330.64,71.59 L331.14,70.53 L331.64,69.42 L332.14,68.27 L332.64,67.06 L333.14,65.75 L333.64,64.34 L334.14,62.88 L334.64,61.38 L335.14,59.88 L335.64,58.42 L336.14,57.01 L336.64,55.59 L337.14,54.15 L337.64,52.71 L338.14,51.29 L338.64,49.91 L339.15,48.61 L339.65,47.39 L340.15,46.29 L340.65,45.28 L341.15,44.31 L341.65,43.36 L342.15,42.47 L342.65,41.63 L343.15,40.85 L343.65,40.13 L344.15,39.5 L344.65,38.95 L345.15,38.44 L345.65,37.95 L346.15,37.49 L346.65,37.06 L347.15,36.67 L347.65,36.33 L348.15,36.05 L348.65,35.84 L349.15,35.68 L349.65,35.57 L350.15,35.48 L350.65,35.4 L351.15,35.34 L351.65,35.28 L352.15,35.21 L352.65,35.14 L353.15,35.05 L353.65,34.94 L354.15,34.79 L354.65,34.54 L355.15,34.2 L355.65,33.8 L356.15,33.37 L356.65,32.94 L357.16,32.53 L357.66,32.19 L358.16,31.84 L358.66,31.47 L359.16,31.09 L359.66,30.73 L360.16,30.41 L360.66,30.15 L361.16,29.97 L361.66,29.9 L362.16,29.94 L362.66,30.06 L363.16,30.24 L363.66,30.57 L364.16,31.32 L364.66,32.42 L365.16,33.77 L365.66,35.29 L366.16,36.89 L366.66,38.72 L367.16,41.03 L367.66,43.69 L368.16,46.56 L368.66,49.52 L369.16,52.42 L369.66,55.33 L370.16,58.34 L370.66,61.46 L371.16,64.71 L371.66,68.08 L372.16,71.61 L372.66,75.41 L373.16,79.41 L373.66,83.53 L374.16,87.7 L374.67,91.83 L375.17,95.88 L375.67,100.02 L376.17,104.19 L376.67,108.26 L377.17,112.12 L377.67,115.67 L378.17,119.05 L378.67,122.3 L379.17,125.39 L379.67,128.29 L380.17,130.96 L380.67,133.44 L381.17,135.79 L381.67,138.01 L382.17,140.06 L382.67,141.94 L383.17,143.63 L383.67,145.25 L384.17,146.8 L384.67,148.24 L385.17,149.53 L385.67,150.62 L386.17,151.47 L386.67,152.16 L387.17,152.8 L387.67,153.39 L388.17,153.93 L388.67,154.43 L389.17,154.87 L389.67,155.27 L390.17,155.61 L390.67,155.89 L391.17,156.12 L391.67,156.31 L392.17,156.48 L392.68,156.64 L393.18,156.79 L393.68,156.93 L394.18,157.06 L394.68,157.18 L395.18,157.28 L395.68,157.37 L396.18,157.45 L396.68,157.52 L397.18,157.57 L397.68,157.61 L398.18,157.64 L398.68,157.67 L399.18,157.7 L399.68,157.73 L400.18,157.76 L400.68,157.78 L401.18,157.81 L401.68,157.83 L402.18,157.85 L402.68,157.87 L403.18,157.89 L403.68,157.91 L404.18,157.93 L404.68,157.95 L405.18,157.96 L405.68,157.98 L406.18,157.99 L406.68,158.01 L407.18,158.02 L407.68,158.03 L408.18,158.05 L408.68,158.06 L409.18,158.07 L409.68,158.08 L410.19,158.09 L410.69,158.1 L411.19,158.12 L411.69,158.13 L412.19,158.14 L412.69,158.15 L413.19,158.16 L413.69,158.17 L414.19,158.18 L414.69,158.2 L415.19,158.21 L415.69,158.22 L416.19,158.24 L416.69,158.25 L417.19,158.27 L417.69,158.28 L418.19,158.29 L418.69,158.31 L419.19,158.32 L419.69,158.34 L420.19,158.35 L420.69,158.37 L421.19,158.38 L421.69,158.4 L422.19,158.41 L422.69,158.42 L423.19,158.44 L423.69,158.45 L424.19,158.46 L424.69,158.48 L425.19,158.49 L425.69,158.51 L426.19,158.52 L426.69,158.53 L427.19,158.55 L427.69,158.56 L428.2,158.57 L428.7,158.58 L429.2,158.6 L429.7,158.61 L430.2,158.62 L430.7,158.64 L431.2,158.65 L431.7,158.66 L432.2,158.67 L432.7,158.69 L433.2,158.7 L433.7,158.71 L434.2,158.72 L434.7,158.73 L435.2,158.74 L435.7,158.76 L436.2,158.77 L436.7,158.78" fill="none" stroke="#7f68ab" stroke-width="1.6" stroke-linejoin="round"/>
<path d="M259.1,102.67 L259.6,102.37 L260.1,102.1 L260.6,101.89 L261.1,101.75 L261.6,101.66 L262.1,101.57 L262.6,101.52 L263.1,101.5 L263.6,101.6 L264.1,101.84 L264.6,102.14 L265.1,102.47 L265.6,102.9 L266.1,103.43 L266.6,103.98 L267.1,104.53 L267.6,105.13 L268.11,105.74 L268.61,106.37 L269.11,107.01 L269.61,107.63 L270.11,108.24 L270.61,108.82 L271.11,109.36 L271.61,109.94 L272.11,110.55 L272.61,111.18 L273.11,111.8 L273.61,112.41 L274.11,112.96 L274.61,113.46 L275.11,113.87 L275.61,114.17 L276.11,114.35 L276.61,114.39 L277.11,114.38 L277.61,114.38 L278.11,114.37 L278.61,114.35 L279.11,114.33 L279.61,114.31 L280.11,114.29 L280.61,114.27 L281.11,114.23 L281.61,114.13 L282.11,113.99 L282.61,113.83 L283.11,113.67 L283.61,113.52 L284.11,113.41 L284.61,113.35 L285.11,113.35 L285.61,113.37 L286.12,113.41 L286.62,113.45 L287.12,113.49 L287.62,113.54 L288.12,113.57 L288.62,113.6 L289.12,113.61 L289.62,113.6 L290.12,113.6 L290.62,113.58 L291.12,113.57 L291.62,113.55 L292.12,113.52 L292.62,113.49 L293.12,113.46 L293.62,113.43 L294.12,113.39 L294.62,113.35 L295.12,113.27 L295.62,113.15 L296.12,112.97 L296.62,112.76 L297.12,112.52 L297.62,112.26 L298.12,111.99 L298.62,111.71 L299.12,111.44 L299.62,111.18 L300.12,110.94 L300.62,110.71 L301.12,110.48 L301.62,110.25 L302.12,110.01 L302.62,109.77 L303.12,109.53 L303.63,109.27 L304.13,109.01 L304.63,108.73 L305.13,108.43 L305.63,108.12 L306.13,107.79 L306.63,107.43 L307.13,107.06 L307.63,106.67 L308.13,106.26 L308.63,105.84 L309.13,105.4 L309.63,104.95 L310.13,104.48 L310.63,104.01 L311.13,103.52 L311.63,103.01 L312.13,102.47 L312.63,101.92 L313.13,101.34 L313.63,100.75 L314.13,100.14 L314.63,99.51 L315.13,98.87 L315.63,98.22 L316.13,97.56 L316.63,96.9 L317.13,96.21 L317.63,95.51 L318.13,94.8 L318.63,94.06 L319.13,93.31 L319.63,92.54 L320.13,91.74 L320.63,90.93 L321.13,90.09 L321.64,89.23 L322.14,88.32 L322.64,87.37 L323.14,86.38 L323.64,85.35 L324.14,84.3 L324.64,83.23 L325.14,82.15 L325.64,81.06 L326.14,79.98 L326.64,78.91 L327.14,77.86 L327.64,76.83 L328.14,75.83 L328.64,74.84 L329.14,73.85 L329.64,72.85 L330.14,71.84 L330.64,70.81 L331.14,69.75 L331.64,68.64 L332.14,67.49 L332.64,66.28 L333.14,64.97 L333.64,63.56 L334.14,62.1 L334.64,60.6 L335.14,59.1 L335.64,57.64 L336.14,56.23 L336.64,54.81 L337.14,53.37 L337.64,51.93 L338.14,50.51 L338.64,49.13 L339.15,47.83 L339.65,46.61 L340.15,45.51 L340.65,44.5 L341.15,43.52 L341.65,42.58 L342.15,41.69 L342.65,40.85 L343.15,40.06 L343.65,39.35 L344.15,38.72 L344.65,38.17 L345.15,37.66 L345.65,37.17 L346.15,36.71 L346.65,36.28 L347.15,35.89 L347.65,35.55 L348.15,35.27 L348.65,35.05 L349.15,34.9 L349.65,34.79 L350.15,34.7 L350.65,34.62 L351.15,34.56 L351.65,34.5 L352.15,34.43 L352.65,34.36 L353.15,34.27 L353.65,34.15 L354.15,34 L354.65,33.76 L355.15,33.42 L355.65,33.02 L356.15,32.59 L356.65,32.15 L357.16,31.75 L357.66,31.41 L358.16,31.06 L358.66,30.69 L359.16,30.31 L359.66,29.95 L360.16,29.63 L360.66,29.37 L361.16,29.19 L361.66,29.12 L362.16,29.16 L362.66,29.28 L363.16,29.45 L363.66,29.79 L364.16,30.54 L364.66,31.64 L365.16,32.99 L365.66,34.51 L366.16,36.11 L366.66,37.94 L367.16,40.25 L367.66,42.91 L368.16,45.78 L368.66,48.74 L369.16,51.64 L369.66,54.55 L370.16,57.56 L370.66,60.68 L371.16,63.93 L371.66,67.3 L372.16,70.83 L372.66,74.62 L373.16,78.63 L373.66,82.75 L374.16,86.92 L374.67,91.05 L375.17,95.1 L375.67,99.24 L376.17,103.41 L376.67,107.48 L377.17,111.34 L377.67,114.89 L378.17,118.27 L378.67,121.52 L379.17,124.61 L379.67,127.51 L380.17,130.18 L380.67,132.66 L381.17,135.01 L381.67,137.23 L382.17,139.28 L382.67,141.16 L383.17,142.85 L383.67,144.46 L384.17,146.02 L384.67,147.46 L385.17,148.75 L385.67,149.84 L386.17,150.69 L386.67,151.38 L387.17,152.02 L387.67,152.61 L388.17,153.15 L388.67,153.65 L389.17,154.09 L389.67,154.49 L390.17,154.83 L390.67,155.11 L391.17,155.34 L391.67,155.53 L392.17,155.7 L392.68,155.86 L393.18,156.01 L393.68,156.15 L394.18,156.28 L394.68,156.4 L395.18,156.5 L395.68,156.59 L396.18,156.67 L396.68,156.74 L397.18,156.79 L397.68,156.83 L398.18,156.86 L398.68,156.89 L399.18,156.92 L399.68,156.95 L400.18,156.98 L400.68,157 L401.18,157.03 L401.68,157.05 L402.18,157.07 L402.68,157.09 L403.18,157.11 L403.68,157.13 L404.18,157.15 L404.68,157.17 L405.18,157.18 L405.68,157.2 L406.18,157.21 L406.68,157.23 L407.18,157.24 L407.68,157.25 L408.18,157.27 L408.68,157.28 L409.18,157.29 L409.68,157.3 L410.19,157.31 L410.69,157.32 L411.19,157.33 L411.69,157.35 L412.19,157.36 L412.69,157.37 L413.19,157.38 L413.69,157.39 L414.19,157.4 L414.69,157.42 L415.19,157.43 L415.69,157.44 L416.19,157.46 L416.69,157.47 L417.19,157.48 L417.69,157.5 L418.19,157.51 L418.69,157.53 L419.19,157.54 L419.69,157.56 L420.19,157.57 L420.69,157.59 L421.19,157.6 L421.69,157.61 L422.19,157.63 L422.69,157.64 L423.19,157.66 L423.69,157.67 L424.19,157.68 L424.69,157.7 L425.19,157.71 L425.69,157.72 L426.19,157.74 L426.69,157.75 L427.19,157.76 L427.69,157.78 L428.2,157.79 L428.7,157.8 L429.2,157.82 L429.7,157.83 L430.2,157.84 L430.7,157.85 L431.2,157.87 L431.7,157.88 L432.2,157.89 L432.7,157.9 L433.2,157.92 L433.7,157.93 L434.2,157.94 L434.7,157.95 L435.2,157.96 L435.7,157.98 L436.2,157.99 L436.7,158" fill="none" stroke="#5aae55" stroke-width="1.6" stroke-linejoin="round"/>
<path d="M259.1,99.55 L259.6,99.15 L260.1,98.8 L260.6,98.53 L261.1,98.37 L261.6,98.27 L262.1,98.19 L262.6,98.13 L263.1,98.12 L263.6,98.19 L264.1,98.34 L264.6,98.56 L265.1,98.81 L265.6,99.18 L266.1,99.67 L266.6,100.2 L267.1,100.77 L267.6,101.41 L268.11,102.11 L268.61,102.83 L269.11,103.57 L269.61,104.3 L270.11,105 L270.61,105.66 L271.11,106.25 L271.61,106.87 L272.11,107.52 L272.61,108.18 L273.11,108.84 L273.61,109.47 L274.11,110.05 L274.61,110.56 L275.11,110.99 L275.61,111.3 L276.11,111.48 L276.61,111.52 L277.11,111.51 L277.61,111.49 L278.11,111.45 L278.61,111.4 L279.11,111.35 L279.61,111.29 L280.11,111.23 L280.61,111.16 L281.11,111.08 L281.61,110.95 L282.11,110.78 L282.61,110.61 L283.11,110.47 L283.61,110.37 L284.11,110.35 L284.61,110.36 L285.11,110.39 L285.61,110.42 L286.12,110.45 L286.62,110.49 L287.12,110.53 L287.62,110.56 L288.12,110.59 L288.62,110.61 L289.12,110.61 L289.62,110.61 L290.12,110.59 L290.62,110.56 L291.12,110.52 L291.62,110.47 L292.12,110.41 L292.62,110.34 L293.12,110.27 L293.62,110.18 L294.12,110.1 L294.62,110.01 L295.12,109.91 L295.62,109.82 L296.12,109.72 L296.62,109.6 L297.12,109.45 L297.62,109.28 L298.12,109.08 L298.62,108.87 L299.12,108.65 L299.62,108.43 L300.12,108.21 L300.62,107.99 L301.12,107.77 L301.62,107.55 L302.12,107.32 L302.62,107.08 L303.12,106.83 L303.63,106.57 L304.13,106.3 L304.63,106.01 L305.13,105.71 L305.63,105.38 L306.13,105.03 L306.63,104.64 L307.13,104.23 L307.63,103.79 L308.13,103.34 L308.63,102.87 L309.13,102.38 L309.63,101.89 L310.13,101.39 L310.63,100.89 L311.13,100.39 L311.63,99.88 L312.13,99.37 L312.63,98.85 L313.13,98.31 L313.63,97.76 L314.13,97.19 L314.63,96.6 L315.13,95.99 L315.63,95.36 L316.13,94.7 L316.63,94.01 L317.13,93.27 L317.63,92.5 L318.13,91.69 L318.63,90.86 L319.13,90 L319.63,89.11 L320.13,88.21 L320.63,87.3 L321.13,86.38 L321.64,85.45 L322.14,84.5 L322.64,83.53 L323.14,82.53 L323.64,81.51 L324.14,80.47 L324.64,79.42 L325.14,78.36 L325.64,77.29 L326.14,76.22 L326.64,75.15 L327.14,74.08 L327.64,73.02 L328.14,71.97 L328.64,70.93 L329.14,69.87 L329.64,68.81 L330.14,67.74 L330.64,66.65 L331.14,65.53 L331.64,64.39 L332.14,63.2 L332.64,61.98 L333.14,60.69 L333.64,59.32 L334.14,57.91 L334.64,56.48 L335.14,55.06 L335.64,53.67 L336.14,52.33 L336.64,50.99 L337.14,49.62 L337.64,48.26 L338.14,46.92 L338.64,45.62 L339.15,44.4 L339.65,43.26 L340.15,42.25 L340.65,41.32 L341.15,40.41 L341.65,39.54 L342.15,38.72 L342.65,37.94 L343.15,37.23 L343.65,36.6 L344.15,36.04 L344.65,35.57 L345.15,35.15 L345.65,34.75 L346.15,34.38 L346.65,34.03 L347.15,33.73 L347.65,33.46 L348.15,33.25 L348.65,33.08 L349.15,32.97 L349.65,32.89 L350.15,32.82 L350.65,32.77 L351.15,32.72 L351.65,32.68 L352.15,32.63 L352.65,32.58 L353.15,32.52 L353.65,32.44 L354.15,32.33 L354.65,32.14 L355.15,31.88 L355.65,31.57 L356.15,31.24 L356.65,30.92 L357.16,30.62 L357.66,30.38 L358.16,30.15 L358.66,29.91 L359.16,29.67 L359.66,29.46 L360.16,29.29 L360.66,29.17 L361.16,29.12 L361.66,29.16 L362.16,29.28 L362.66,29.46 L363.16,29.7 L363.66,30.11 L364.16,30.98 L364.66,32.24 L365.16,33.77 L365.66,35.48 L366.16,37.26 L366.66,39.26 L367.16,41.7 L367.66,44.49 L368.16,47.51 L368.66,50.63 L369.16,53.76 L369.66,56.97 L370.16,60.35 L370.66,63.88 L371.16,67.52 L371.66,71.27 L372.16,75.11 L372.66,79.18 L373.16,83.44 L373.66,87.78 L374.16,92.09 L374.67,96.27 L375.17,100.25 L375.67,104.21 L376.17,108.11 L376.67,111.87 L377.17,115.42 L377.67,118.71 L378.17,121.84 L378.67,124.83 L379.17,127.67 L379.67,130.33 L380.17,132.82 L380.67,135.14 L381.17,137.38 L381.67,139.49 L382.17,141.44 L382.67,143.21 L383.17,144.76 L383.67,146.2 L384.17,147.57 L384.67,148.84 L385.17,149.97 L385.67,150.95 L386.17,151.73 L386.67,152.4 L387.17,153.03 L387.67,153.62 L388.17,154.17 L388.67,154.68 L389.17,155.13 L389.67,155.53 L390.17,155.88 L390.67,156.16 L391.17,156.39 L391.67,156.56 L392.17,156.72 L392.68,156.87 L393.18,157.01 L393.68,157.15 L394.18,157.27 L394.68,157.38 L395.18,157.47 L395.68,157.56 L396.18,157.62 L396.68,157.68 L397.18,157.72 L397.68,157.74 L398.18,157.76 L398.68,157.77 L399.18,157.79 L399.68,157.8 L400.18,157.81 L400.68,157.83 L401.18,157.84 L401.68,157.86 L402.18,157.87 L402.68,157.88 L403.18,157.9 L403.68,157.91 L404.18,157.92 L404.68,157.93 L405.18,157.94 L405.68,157.96 L406.18,157.97 L406.68,157.98 L407.18,157.99 L407.68,158 L408.18,158.01 L408.68,158.02 L409.18,158.03 L409.68,158.04 L410.19,158.05 L410.69,158.06 L411.19,158.07 L411.69,158.07 L412.19,158.08 L412.69,158.09 L413.19,158.1 L413.69,158.11 L414.19,158.11 L414.69,158.12 L415.19,158.13 L415.69,158.13 L416.19,158.14 L416.69,158.15 L417.19,158.15 L417.69,158.16 L418.19,158.17 L418.69,158.17 L419.19,158.18 L419.69,158.18 L420.19,158.19 L420.69,158.19 L421.19,158.2 L421.69,158.2 L422.19,158.2 L422.69,158.21 L423.19,158.21 L423.69,158.22 L424.19,158.22 L424.69,158.22 L425.19,158.23 L425.69,158.23 L426.19,158.23 L426.69,158.23 L427.19,158.24 L427.69,158.24 L428.2,158.24 L428.7,158.24 L429.2,158.25 L429.7,158.25 L430.2,158.25 L430.7,158.25 L431.2,158.25 L431.7,158.25 L432.2,158.25 L432.7,158.25 L433.2,158.26 L433.7,158.26 L434.2,158.26 L434.7,158.26 L435.2,158.26 L435.7,158.26 L436.2,158.26 L436.7,158.26" fill="none" stroke="#f0853c" stroke-width="1.6" stroke-linejoin="round"/>
<rect x="259.1" y="16.1" width="177.6" height="143.2" fill="none" stroke="#111" stroke-width="1.5"/>
<line x1="278.83" y1="159.3" x2="278.83" y2="156.5" stroke="#111" stroke-width="1.1"/>
<line x1="318.3" y1="159.3" x2="318.3" y2="156.5" stroke="#111" stroke-width="1.1"/>
<line x1="357.77" y1="159.3" x2="357.77" y2="156.5" stroke="#111" stroke-width="1.1"/>
<line x1="397.23" y1="159.3" x2="397.23" y2="156.5" stroke="#111" stroke-width="1.1"/>
<line x1="436.7" y1="159.3" x2="436.7" y2="156.5" stroke="#111" stroke-width="1.1"/>
<line x1="259.1" y1="159.3" x2="259.1" y2="157.6" stroke="#111" stroke-width="1.1"/>
<line x1="298.57" y1="159.3" x2="298.57" y2="157.6" stroke="#111" stroke-width="1.1"/>
<line x1="338.03" y1="159.3" x2="338.03" y2="157.6" stroke="#111" stroke-width="1.1"/>
<line x1="377.5" y1="159.3" x2="377.5" y2="157.6" stroke="#111" stroke-width="1.1"/>
<line x1="416.97" y1="159.3" x2="416.97" y2="157.6" stroke="#111" stroke-width="1.1"/>
<line x1="259.1" y1="159.3" x2="261.9" y2="159.3" stroke="#111" stroke-width="1.1"/>
<line x1="259.1" y1="133.26" x2="261.9" y2="133.26" stroke="#111" stroke-width="1.1"/>
<line x1="259.1" y1="107.23" x2="261.9" y2="107.23" stroke="#111" stroke-width="1.1"/>
<line x1="259.1" y1="81.19" x2="261.9" y2="81.19" stroke="#111" stroke-width="1.1"/>
<line x1="259.1" y1="55.15" x2="261.9" y2="55.15" stroke="#111" stroke-width="1.1"/>
<line x1="259.1" y1="29.12" x2="261.9" y2="29.12" stroke="#111" stroke-width="1.1"/>
<line x1="259.1" y1="146.28" x2="260.8" y2="146.28" stroke="#111" stroke-width="1.1"/>
<line x1="259.1" y1="120.25" x2="260.8" y2="120.25" stroke="#111" stroke-width="1.1"/>
<line x1="259.1" y1="94.21" x2="260.8" y2="94.21" stroke="#111" stroke-width="1.1"/>
<line x1="259.1" y1="68.17" x2="260.8" y2="68.17" stroke="#111" stroke-width="1.1"/>
<line x1="259.1" y1="42.14" x2="260.8" y2="42.14" stroke="#111" stroke-width="1.1"/>
<text x="255.2" y="162.7" text-anchor="end" style="font-size:9.5px;font-weight:bold;fill:#111;">0.0</text>
<text x="255.2" y="136.66" text-anchor="end" style="font-size:9.5px;font-weight:bold;fill:#111;">0.2</text>
<text x="255.2" y="110.63" text-anchor="end" style="font-size:9.5px;font-weight:bold;fill:#111;">0.4</text>
<text x="255.2" y="84.59" text-anchor="end" style="font-size:9.5px;font-weight:bold;fill:#111;">0.6</text>
<text x="255.2" y="58.55" text-anchor="end" style="font-size:9.5px;font-weight:bold;fill:#111;">0.8</text>
<text x="255.2" y="32.52" text-anchor="end" style="font-size:9.5px;font-weight:bold;fill:#111;">1.0</text>
<text x="278.83" y="169.6" text-anchor="middle" style="font-size:9.5px;font-weight:bold;fill:#111;">400</text>
<text x="318.3" y="169.6" text-anchor="middle" style="font-size:9.5px;font-weight:bold;fill:#111;">500</text>
<text x="357.77" y="169.6" text-anchor="middle" style="font-size:9.5px;font-weight:bold;fill:#111;">600</text>
<text x="397.23" y="169.6" text-anchor="middle" style="font-size:9.5px;font-weight:bold;fill:#111;">700</text>
<text x="436.7" y="169.6" text-anchor="middle" style="font-size:9.5px;font-weight:bold;fill:#111;">800</text>
<text x="347.9" y="187.2" text-anchor="middle" style="font-size:9.55px;font-weight:bold;fill:#111;">Wavelength (nm)</text>
<text transform="translate(230.9,86.9) rotate(-90)" text-anchor="middle" style="font-size:9.55px;font-weight:bold;fill:#111;">Normalized Absorption</text>
<text x="264.6" y="27.6" text-anchor="start" style="font-size:9px;font-weight:bold;fill:#111;">In CF solution</text>
<line x1="264.2" y1="37.7" x2="284.9" y2="37.7" stroke="#111" stroke-width="1.6"/>
<text x="287.2" y="40.6" text-anchor="start" style="font-size:8.6px;font-weight:bold;fill:#111;">PM6</text>
<line x1="264.2" y1="48.8" x2="284.9" y2="48.8" stroke="#7f68ab" stroke-width="1.6"/>
<text x="287.2" y="51.7" text-anchor="start" style="font-size:8.6px;font-weight:bold;fill:#111;">S1</text>
<line x1="264.2" y1="59.9" x2="284.9" y2="59.9" stroke="#5aae55" stroke-width="1.6"/>
<text x="287.2" y="62.8" text-anchor="start" style="font-size:8.6px;font-weight:bold;fill:#111;">S2</text>
<line x1="264.2" y1="71" x2="284.9" y2="71" stroke="#f0853c" stroke-width="1.6"/>
<text x="287.2" y="73.9" text-anchor="start" style="font-size:8.6px;font-weight:bold;fill:#111;">S3</text>
<path d="M497.8,131.54 L498.3,131.76 L498.8,131.96 L499.3,132.14 L499.81,132.31 L500.31,132.45 L500.81,132.57 L501.31,132.69 L501.81,132.81 L502.31,132.9 L502.81,132.96 L503.32,132.97 L503.82,132.94 L504.32,132.89 L504.82,132.81 L505.32,132.71 L505.82,132.59 L506.32,132.46 L506.83,132.3 L507.33,132.14 L507.83,131.97 L508.33,131.79 L508.83,131.61 L509.33,131.41 L509.83,131.16 L510.34,130.85 L510.84,130.51 L511.34,130.11 L511.84,129.69 L512.34,129.23 L512.84,128.74 L513.34,128.24 L513.85,127.71 L514.35,127.18 L514.85,126.64 L515.35,126.1 L515.85,125.56 L516.35,125.03 L516.85,124.52 L517.36,124.01 L517.86,123.49 L518.36,122.95 L518.86,122.39 L519.36,121.83 L519.86,121.25 L520.36,120.67 L520.87,120.09 L521.37,119.5 L521.87,118.91 L522.37,118.33 L522.87,117.75 L523.37,117.18 L523.87,116.61 L524.38,116.06 L524.88,115.53 L525.38,115.01 L525.88,114.5 L526.38,114.01 L526.88,113.52 L527.38,113.04 L527.88,112.57 L528.39,112.09 L528.89,111.62 L529.39,111.14 L529.89,110.66 L530.39,110.17 L530.89,109.67 L531.39,109.16 L531.9,108.63 L532.4,108.09 L532.9,107.53 L533.4,106.97 L533.9,106.41 L534.4,105.86 L534.9,105.3 L535.41,104.73 L535.91,104.14 L536.41,103.54 L536.91,102.9 L537.41,102.24 L537.91,101.54 L538.41,100.79 L538.92,100 L539.42,99.16 L539.92,98.24 L540.42,97.15 L540.92,95.91 L541.42,94.54 L541.92,93.07 L542.43,91.55 L542.93,90 L543.43,88.46 L543.93,86.96 L544.43,85.53 L544.93,84.18 L545.43,82.78 L545.94,81.34 L546.44,79.91 L546.94,78.53 L547.44,77.25 L547.94,76.11 L548.44,75.17 L548.94,74.44 L549.45,73.81 L549.95,73.26 L550.45,72.76 L550.95,72.31 L551.45,71.88 L551.95,71.47 L552.45,71.04 L552.96,70.63 L553.46,70.27 L553.96,69.95 L554.46,69.63 L554.96,69.31 L555.46,68.94 L555.96,68.51 L556.47,68 L556.97,67.29 L557.47,66.24 L557.97,64.92 L558.47,63.43 L558.97,61.83 L559.47,60.23 L559.98,58.7 L560.48,57.34 L560.98,56.08 L561.48,54.68 L561.98,53.29 L562.48,52.05 L562.98,51.14 L563.49,50.71 L563.99,50.82 L564.49,51.23 L564.99,51.83 L565.49,52.81 L565.99,54.49 L566.49,56.66 L567,59.04 L567.5,61.55 L568,64.59 L568.5,68.03 L569,71.66 L569.5,75.27 L570,78.63 L570.51,81.77 L571.01,84.94 L571.51,88.05 L572.01,91.02 L572.51,93.75 L573.01,96.17 L573.51,98.4 L574.02,100.58 L574.52,102.61 L575.02,104.37 L575.52,105.74 L576.02,106.63 L576.52,107.32 L577.02,107.78 L577.53,107.84 L578.03,107.65 L578.53,107.31 L579.03,106.85 L579.53,106.33 L580.03,105.79 L580.53,105.22 L581.04,104.52 L581.54,103.7 L582.04,102.78 L582.54,101.8 L583.04,100.79 L583.54,99.76 L584.04,98.75 L584.55,97.77 L585.05,96.78 L585.55,95.73 L586.05,94.65 L586.55,93.56 L587.05,92.49 L587.55,91.46 L588.05,90.49 L588.56,89.61 L589.06,88.84 L589.56,88.14 L590.06,87.49 L590.56,86.89 L591.06,86.31 L591.56,85.75 L592.07,85.21 L592.57,84.67 L593.07,84.12 L593.57,83.58 L594.07,83.06 L594.57,82.57 L595.07,82.09 L595.58,81.6 L596.08,81.1 L596.58,80.57 L597.08,80.01 L597.58,79.39 L598.08,78.73 L598.58,78.01 L599.09,77.25 L599.59,76.45 L600.09,75.61 L600.59,74.74 L601.09,73.83 L601.59,72.88 L602.09,71.85 L602.6,70.75 L603.1,69.58 L603.6,68.39 L604.1,67.17 L604.6,65.96 L605.1,64.77 L605.6,63.62 L606.11,62.53 L606.61,61.42 L607.11,60.28 L607.61,59.14 L608.11,58.03 L608.61,57.01 L609.11,56.1 L609.62,55.34 L610.12,54.74 L610.62,54.18 L611.12,53.65 L611.62,53.17 L612.12,52.77 L612.62,52.48 L613.13,52.34 L613.63,52.4 L614.13,52.72 L614.63,53.25 L615.13,53.97 L615.63,54.81 L616.13,55.73 L616.64,56.74 L617.14,58.15 L617.64,59.95 L618.14,62.06 L618.64,64.43 L619.14,66.97 L619.64,69.6 L620.15,72.27 L620.65,74.99 L621.15,78.02 L621.65,81.3 L622.15,84.77 L622.65,88.34 L623.15,91.94 L623.66,95.51 L624.16,98.95 L624.66,102.36 L625.16,105.89 L625.66,109.46 L626.16,113.01 L626.66,116.45 L627.17,119.72 L627.67,122.72 L628.17,125.4 L628.67,127.88 L629.17,130.27 L629.67,132.56 L630.17,134.7 L630.68,136.68 L631.18,138.46 L631.68,140.01 L632.18,141.31 L632.68,142.49 L633.18,143.61 L633.68,144.65 L634.19,145.61 L634.69,146.51 L635.19,147.34 L635.69,148.09 L636.19,148.77 L636.69,149.38 L637.19,149.92 L637.7,150.41 L638.2,150.89 L638.7,151.34 L639.2,151.78 L639.7,152.19 L640.2,152.58 L640.7,152.95 L641.21,153.3 L641.71,153.63 L642.21,153.94 L642.71,154.22 L643.21,154.48 L643.71,154.72 L644.21,154.93 L644.72,155.12 L645.22,155.29 L645.72,155.45 L646.22,155.6 L646.72,155.75 L647.22,155.89 L647.72,156.03 L648.22,156.16 L648.73,156.29 L649.23,156.41 L649.73,156.53 L650.23,156.64 L650.73,156.75 L651.23,156.85 L651.73,156.95 L652.24,157.05 L652.74,157.14 L653.24,157.22 L653.74,157.31 L654.24,157.39 L654.74,157.46 L655.24,157.53 L655.75,157.6 L656.25,157.67 L656.75,157.73 L657.25,157.79 L657.75,157.85 L658.25,157.9 L658.75,157.96 L659.26,158.01 L659.76,158.07 L660.26,158.12 L660.76,158.18 L661.26,158.23 L661.76,158.28 L662.26,158.33 L662.77,158.38 L663.27,158.43 L663.77,158.48 L664.27,158.53 L664.77,158.58 L665.27,158.62 L665.77,158.67 L666.28,158.71 L666.78,158.75 L667.28,158.79 L667.78,158.83 L668.28,158.86 L668.78,158.89 L669.28,158.92 L669.79,158.95 L670.29,158.98 L670.79,159 L671.29,159.03 L671.79,159.04 L672.29,159.06 L672.79,159.07 L673.3,159.09 L673.8,159.09 L674.3,159.1 L674.8,159.1" fill="none" stroke="#111" stroke-width="1.6" stroke-linejoin="round"/>
<path d="M497.8,140.32 L498.3,140.5 L498.8,140.68 L499.3,140.83 L499.81,140.96 L500.31,141.07 L500.81,141.14 L501.31,141.21 L501.81,141.26 L502.31,141.31 L502.81,141.33 L503.32,141.34 L503.82,141.29 L504.32,141.2 L504.82,141.07 L505.32,140.91 L505.82,140.71 L506.32,140.49 L506.83,140.25 L507.33,140 L507.83,139.73 L508.33,139.46 L508.83,139.19 L509.33,138.91 L509.83,138.6 L510.34,138.24 L510.84,137.85 L511.34,137.43 L511.84,136.98 L512.34,136.5 L512.84,136.01 L513.34,135.49 L513.85,134.96 L514.35,134.42 L514.85,133.87 L515.35,133.32 L515.85,132.76 L516.35,132.21 L516.85,131.67 L517.36,131.12 L517.86,130.55 L518.36,129.94 L518.86,129.31 L519.36,128.67 L519.86,128.01 L520.36,127.35 L520.87,126.68 L521.37,126.02 L521.87,125.36 L522.37,124.72 L522.87,124.09 L523.37,123.49 L523.87,122.91 L524.38,122.37 L524.88,121.86 L525.38,121.39 L525.88,120.93 L526.38,120.49 L526.88,120.06 L527.38,119.65 L527.88,119.25 L528.39,118.85 L528.89,118.46 L529.39,118.08 L529.89,117.7 L530.39,117.32 L530.89,116.93 L531.39,116.54 L531.9,116.14 L532.4,115.74 L532.9,115.32 L533.4,114.91 L533.9,114.52 L534.4,114.14 L534.9,113.76 L535.41,113.39 L535.91,113.02 L536.41,112.65 L536.91,112.26 L537.41,111.86 L537.91,111.44 L538.41,111 L538.92,110.53 L539.42,110.03 L539.92,109.49 L540.42,108.91 L540.92,108.29 L541.42,107.54 L541.92,106.67 L542.43,105.68 L542.93,104.6 L543.43,103.46 L543.93,102.28 L544.43,101.08 L544.93,99.87 L545.43,98.69 L545.94,97.55 L546.44,96.48 L546.94,95.49 L547.44,94.5 L547.94,93.52 L548.44,92.54 L548.94,91.59 L549.45,90.69 L549.95,89.85 L550.45,89.09 L550.95,88.42 L551.45,87.83 L551.95,87.31 L552.45,86.83 L552.96,86.38 L553.46,85.95 L553.96,85.5 L554.46,85.03 L554.96,84.52 L555.46,83.95 L555.96,83.3 L556.47,82.55 L556.97,81.7 L557.47,80.78 L557.97,79.82 L558.47,78.81 L558.97,77.8 L559.47,76.79 L559.98,75.81 L560.48,74.87 L560.98,73.96 L561.48,72.91 L561.98,71.81 L562.48,70.81 L562.98,70.06 L563.49,69.7 L563.99,69.74 L564.49,69.95 L564.99,70.25 L565.49,70.81 L565.99,71.85 L566.49,73.22 L567,74.74 L567.5,76.33 L568,78.26 L568.5,80.46 L569,82.79 L569.5,85.13 L570,87.35 L570.51,89.48 L571.01,91.69 L571.51,93.89 L572.01,95.98 L572.51,97.87 L573.01,99.46 L573.51,100.83 L574.02,102.13 L574.52,103.32 L575.02,104.35 L575.52,105.17 L576.02,105.75 L576.52,106.24 L577.02,106.58 L577.53,106.61 L578.03,106.34 L578.53,105.86 L579.03,105.23 L579.53,104.52 L580.03,103.8 L580.53,103.09 L581.04,102.28 L581.54,101.38 L582.04,100.41 L582.54,99.38 L583.04,98.29 L583.54,97.17 L584.04,96.04 L584.55,94.9 L585.05,93.66 L585.55,92.3 L586.05,90.85 L586.55,89.36 L587.05,87.89 L587.55,86.48 L588.05,85.18 L588.56,84.03 L589.06,83.07 L589.56,82.22 L590.06,81.44 L590.56,80.7 L591.06,80.02 L591.56,79.37 L592.07,78.75 L592.57,78.16 L593.07,77.59 L593.57,77.05 L594.07,76.59 L594.57,76.17 L595.07,75.78 L595.58,75.39 L596.08,74.97 L596.58,74.49 L597.08,73.93 L597.58,73.25 L598.08,72.35 L598.58,71.19 L599.09,69.82 L599.59,68.32 L600.09,66.73 L600.59,65.11 L601.09,63.52 L601.59,61.98 L602.09,60.32 L602.6,58.57 L603.1,56.76 L603.6,54.93 L604.1,53.12 L604.6,51.38 L605.1,49.75 L605.6,48.28 L606.11,46.99 L606.61,45.75 L607.11,44.53 L607.61,43.36 L608.11,42.27 L608.61,41.31 L609.11,40.51 L609.62,39.91 L610.12,39.53 L610.62,39.21 L611.12,38.91 L611.62,38.66 L612.12,38.46 L612.62,38.32 L613.13,38.25 L613.63,38.32 L614.13,38.65 L614.63,39.22 L615.13,39.98 L615.63,40.86 L616.13,41.82 L616.64,42.87 L617.14,44.31 L617.64,46.14 L618.14,48.28 L618.64,50.66 L619.14,53.22 L619.64,55.88 L620.15,58.58 L620.65,61.36 L621.15,64.5 L621.65,67.93 L622.15,71.55 L622.65,75.26 L623.15,78.95 L623.66,82.53 L624.16,85.9 L624.66,89.1 L625.16,92.3 L625.66,95.48 L626.16,98.58 L626.66,101.59 L627.17,104.46 L627.67,107.17 L628.17,109.67 L628.67,112.04 L629.17,114.34 L629.67,116.54 L630.17,118.64 L630.68,120.62 L631.18,122.46 L631.68,124.14 L632.18,125.67 L632.68,127.1 L633.18,128.48 L633.68,129.79 L634.19,131.04 L634.69,132.22 L635.19,133.33 L635.69,134.37 L636.19,135.34 L636.69,136.24 L637.19,137.06 L637.7,137.83 L638.2,138.57 L638.7,139.28 L639.2,139.95 L639.7,140.6 L640.2,141.23 L640.7,141.82 L641.21,142.39 L641.71,142.94 L642.21,143.47 L642.71,143.97 L643.21,144.46 L643.71,144.92 L644.21,145.37 L644.72,145.79 L645.22,146.21 L645.72,146.61 L646.22,147.01 L646.72,147.4 L647.22,147.78 L647.72,148.16 L648.22,148.53 L648.73,148.89 L649.23,149.24 L649.73,149.59 L650.23,149.92 L650.73,150.25 L651.23,150.57 L651.73,150.88 L652.24,151.18 L652.74,151.48 L653.24,151.76 L653.74,152.04 L654.24,152.3 L654.74,152.56 L655.24,152.81 L655.75,153.05 L656.25,153.28 L656.75,153.5 L657.25,153.71 L657.75,153.91 L658.25,154.1 L658.75,154.29 L659.26,154.47 L659.76,154.66 L660.26,154.85 L660.76,155.03 L661.26,155.21 L661.76,155.39 L662.26,155.56 L662.77,155.74 L663.27,155.91 L663.77,156.07 L664.27,156.24 L664.77,156.4 L665.27,156.55 L665.77,156.71 L666.28,156.85 L666.78,157 L667.28,157.13 L667.78,157.27 L668.28,157.4 L668.78,157.52 L669.28,157.64 L669.79,157.75 L670.29,157.85 L670.79,157.95 L671.29,158.04 L671.79,158.13 L672.29,158.21 L672.79,158.28 L673.3,158.34 L673.8,158.4 L674.3,158.45 L674.8,158.49" fill="none" stroke="#7f68ab" stroke-width="1.6" stroke-linejoin="round"/>
<path d="M497.8,139.09 L498.3,139.33 L498.8,139.55 L499.3,139.75 L499.81,139.91 L500.31,140.04 L500.81,140.12 L501.31,140.19 L501.81,140.24 L502.31,140.29 L502.81,140.31 L503.32,140.31 L503.82,140.25 L504.32,140.13 L504.82,139.96 L505.32,139.75 L505.82,139.49 L506.32,139.21 L506.83,138.9 L507.33,138.58 L507.83,138.24 L508.33,137.91 L508.83,137.58 L509.33,137.25 L509.83,136.88 L510.34,136.48 L510.84,136.05 L511.34,135.58 L511.84,135.1 L512.34,134.59 L512.84,134.07 L513.34,133.53 L513.85,132.98 L514.35,132.42 L514.85,131.85 L515.35,131.29 L515.85,130.73 L516.35,130.17 L516.85,129.63 L517.36,129.09 L517.86,128.53 L518.36,127.97 L518.86,127.39 L519.36,126.81 L519.86,126.22 L520.36,125.62 L520.87,125.03 L521.37,124.43 L521.87,123.84 L522.37,123.25 L522.87,122.66 L523.37,122.09 L523.87,121.52 L524.38,120.97 L524.88,120.43 L525.38,119.9 L525.88,119.38 L526.38,118.86 L526.88,118.35 L527.38,117.85 L527.88,117.35 L528.39,116.86 L528.89,116.37 L529.39,115.88 L529.89,115.39 L530.39,114.9 L530.89,114.42 L531.39,113.93 L531.9,113.44 L532.4,112.94 L532.9,112.44 L533.4,111.96 L533.9,111.51 L534.4,111.06 L534.9,110.63 L535.41,110.21 L535.91,109.79 L536.41,109.36 L536.91,108.92 L537.41,108.46 L537.91,107.99 L538.41,107.49 L538.92,106.95 L539.42,106.38 L539.92,105.77 L540.42,105.1 L540.92,104.38 L541.42,103.51 L541.92,102.47 L542.43,101.3 L542.93,100.03 L543.43,98.67 L543.93,97.27 L544.43,95.84 L544.93,94.41 L545.43,93.02 L545.94,91.69 L546.44,90.45 L546.94,89.32 L547.44,88.2 L547.94,87.07 L548.44,85.96 L548.94,84.89 L549.45,83.89 L549.95,82.97 L550.45,82.16 L550.95,81.48 L551.45,80.9 L551.95,80.4 L552.45,79.96 L552.96,79.56 L553.46,79.16 L553.96,78.76 L554.46,78.32 L554.96,77.82 L555.46,77.23 L555.96,76.54 L556.47,75.67 L556.97,74.64 L557.47,73.47 L557.97,72.2 L558.47,70.86 L558.97,69.49 L559.47,68.11 L559.98,66.76 L560.48,65.46 L560.98,64.21 L561.48,62.72 L561.98,61.14 L562.48,59.69 L562.98,58.59 L563.49,58.07 L563.99,58.15 L564.49,58.5 L564.99,58.99 L565.49,59.81 L565.99,61.22 L566.49,63.01 L567,64.96 L567.5,66.96 L568,69.28 L568.5,71.86 L569,74.56 L569.5,77.24 L570,79.76 L570.51,82.16 L571.01,84.61 L571.51,87.03 L572.01,89.32 L572.51,91.38 L573.01,93.12 L573.51,94.67 L574.02,96.17 L574.52,97.54 L575.02,98.69 L575.52,99.53 L576.02,99.99 L576.52,100.29 L577.02,100.48 L577.53,100.48 L578.03,100.18 L578.53,99.65 L579.03,98.94 L579.53,98.13 L580.03,97.3 L580.53,96.45 L581.04,95.41 L581.54,94.22 L582.04,92.91 L582.54,91.52 L583.04,90.08 L583.54,88.64 L584.04,87.24 L584.55,85.9 L585.05,84.56 L585.55,83.14 L586.05,81.7 L586.55,80.27 L587.05,78.86 L587.55,77.53 L588.05,76.31 L588.56,75.22 L589.06,74.31 L589.56,73.49 L590.06,72.75 L590.56,72.07 L591.06,71.42 L591.56,70.81 L592.07,70.22 L592.57,69.63 L593.07,69.03 L593.57,68.44 L594.07,67.9 L594.57,67.39 L595.07,66.9 L595.58,66.4 L596.08,65.86 L596.58,65.28 L597.08,64.61 L597.58,63.85 L598.08,62.92 L598.58,61.8 L599.09,60.54 L599.59,59.17 L600.09,57.71 L600.59,56.22 L601.09,54.72 L601.59,53.22 L602.09,51.61 L602.6,49.9 L603.1,48.13 L603.6,46.31 L604.1,44.49 L604.6,42.69 L605.1,40.94 L605.6,39.29 L606.11,37.74 L606.61,36.2 L607.11,34.63 L607.61,33.08 L608.11,31.61 L608.61,30.25 L609.11,29.06 L609.62,28.07 L610.12,27.33 L610.62,26.63 L611.12,25.97 L611.62,25.38 L612.12,24.89 L612.62,24.55 L613.13,24.38 L613.63,24.42 L614.13,24.68 L614.63,25.12 L615.13,25.72 L615.63,26.43 L616.13,27.21 L616.64,28.1 L617.14,29.43 L617.64,31.17 L618.14,33.27 L618.64,35.65 L619.14,38.22 L619.64,40.92 L620.15,43.66 L620.65,46.49 L621.15,49.73 L621.65,53.3 L622.15,57.1 L622.65,61.05 L623.15,65.05 L623.66,68.99 L624.16,72.78 L624.66,76.52 L625.16,80.39 L625.66,84.3 L626.16,88.19 L626.66,91.98 L627.17,95.58 L627.67,98.93 L628.17,101.95 L628.67,104.73 L629.17,107.39 L629.67,109.92 L630.17,112.31 L630.68,114.56 L631.18,116.68 L631.68,118.64 L632.18,120.45 L632.68,122.19 L633.18,123.86 L633.68,125.47 L634.19,127.01 L634.69,128.47 L635.19,129.85 L635.69,131.14 L636.19,132.34 L636.69,133.43 L637.19,134.41 L637.7,135.32 L638.2,136.19 L638.7,137.03 L639.2,137.84 L639.7,138.61 L640.2,139.35 L640.7,140.05 L641.21,140.72 L641.71,141.36 L642.21,141.97 L642.71,142.55 L643.21,143.1 L643.71,143.61 L644.21,144.1 L644.72,144.56 L645.22,144.99 L645.72,145.4 L646.22,145.81 L646.72,146.2 L647.22,146.57 L647.72,146.94 L648.22,147.29 L648.73,147.64 L649.23,147.97 L649.73,148.29 L650.23,148.61 L650.73,148.91 L651.23,149.21 L651.73,149.5 L652.24,149.78 L652.74,150.05 L653.24,150.31 L653.74,150.57 L654.24,150.83 L654.74,151.07 L655.24,151.32 L655.75,151.55 L656.25,151.79 L656.75,152.02 L657.25,152.24 L657.75,152.46 L658.25,152.68 L658.75,152.9 L659.26,153.12 L659.76,153.33 L660.26,153.55 L660.76,153.76 L661.26,153.97 L661.76,154.17 L662.26,154.37 L662.77,154.58 L663.27,154.77 L663.77,154.97 L664.27,155.16 L664.77,155.35 L665.27,155.54 L665.77,155.72 L666.28,155.9 L666.78,156.07 L667.28,156.24 L667.78,156.41 L668.28,156.58 L668.78,156.74 L669.28,156.89 L669.79,157.04 L670.29,157.19 L670.79,157.33 L671.29,157.47 L671.79,157.6 L672.29,157.73 L672.79,157.85 L673.3,157.97 L673.8,158.08 L674.3,158.18 L674.8,158.28" fill="none" stroke="#5aae55" stroke-width="1.6" stroke-linejoin="round"/>
<path d="M497.8,140.32 L498.3,140.5 L498.8,140.68 L499.3,140.83 L499.81,140.96 L500.31,141.07 L500.81,141.14 L501.31,141.21 L501.81,141.26 L502.31,141.31 L502.81,141.33 L503.32,141.34 L503.82,141.29 L504.32,141.2 L504.82,141.07 L505.32,140.91 L505.82,140.71 L506.32,140.49 L506.83,140.25 L507.33,140 L507.83,139.73 L508.33,139.46 L508.83,139.19 L509.33,138.91 L509.83,138.6 L510.34,138.25 L510.84,137.86 L511.34,137.44 L511.84,136.99 L512.34,136.52 L512.84,136.02 L513.34,135.51 L513.85,134.98 L514.35,134.44 L514.85,133.89 L515.35,133.34 L515.85,132.78 L516.35,132.22 L516.85,131.67 L517.36,131.12 L517.86,130.52 L518.36,129.9 L518.86,129.25 L519.36,128.58 L519.86,127.9 L520.36,127.21 L520.87,126.51 L521.37,125.82 L521.87,125.13 L522.37,124.45 L522.87,123.8 L523.37,123.16 L523.87,122.56 L524.38,121.98 L524.88,121.45 L525.38,120.95 L525.88,120.46 L526.38,119.99 L526.88,119.53 L527.38,119.09 L527.88,118.66 L528.39,118.24 L528.89,117.82 L529.39,117.41 L529.89,117 L530.39,116.59 L530.89,116.18 L531.39,115.77 L531.9,115.36 L532.4,114.93 L532.9,114.5 L533.4,114.08 L533.9,113.69 L534.4,113.3 L534.9,112.93 L535.41,112.57 L535.91,112.2 L536.41,111.83 L536.91,111.45 L537.41,111.06 L537.91,110.65 L538.41,110.21 L538.92,109.74 L539.42,109.24 L539.92,108.7 L540.42,108.11 L540.92,107.47 L541.42,106.67 L541.92,105.71 L542.43,104.62 L542.93,103.42 L543.43,102.14 L543.93,100.81 L544.43,99.46 L544.93,98.13 L545.43,96.83 L545.94,95.6 L546.44,94.46 L546.94,93.44 L547.44,92.46 L547.94,91.49 L548.44,90.55 L548.94,89.64 L549.45,88.78 L549.95,87.98 L550.45,87.24 L550.95,86.58 L551.45,86.01 L551.95,85.5 L552.45,85.03 L552.96,84.6 L553.46,84.17 L553.96,83.73 L554.46,83.25 L554.96,82.73 L555.46,82.13 L555.96,81.44 L556.47,80.61 L556.97,79.65 L557.47,78.58 L557.97,77.44 L558.47,76.25 L558.97,75.03 L559.47,73.82 L559.98,72.63 L560.48,71.5 L560.98,70.41 L561.48,69.14 L561.98,67.8 L562.48,66.57 L562.98,65.65 L563.49,65.21 L563.99,65.29 L564.49,65.64 L564.99,66.14 L565.49,66.9 L565.99,68.18 L566.49,69.79 L567,71.56 L567.5,73.42 L568,75.65 L568.5,78.15 L569,80.79 L569.5,83.42 L570,85.89 L570.51,88.24 L571.01,90.66 L571.51,93.05 L572.01,95.31 L572.51,97.34 L573.01,99.04 L573.51,100.52 L574.02,101.92 L574.52,103.19 L575.02,104.29 L575.52,105.15 L576.02,105.75 L576.52,106.25 L577.02,106.58 L577.53,106.61 L578.03,106.34 L578.53,105.86 L579.03,105.23 L579.53,104.52 L580.03,103.8 L580.53,103.09 L581.04,102.28 L581.54,101.38 L582.04,100.41 L582.54,99.38 L583.04,98.29 L583.54,97.17 L584.04,96.04 L584.55,94.9 L585.05,93.66 L585.55,92.3 L586.05,90.85 L586.55,89.36 L587.05,87.89 L587.55,86.48 L588.05,85.18 L588.56,84.03 L589.06,83.07 L589.56,82.22 L590.06,81.44 L590.56,80.7 L591.06,80.02 L591.56,79.37 L592.07,78.75 L592.57,78.16 L593.07,77.59 L593.57,77.05 L594.07,76.59 L594.57,76.17 L595.07,75.78 L595.58,75.38 L596.08,74.96 L596.58,74.48 L597.08,73.92 L597.58,73.26 L598.08,72.37 L598.58,71.24 L599.09,69.93 L599.59,68.49 L600.09,66.97 L600.59,65.42 L601.09,63.89 L601.59,62.42 L602.09,60.86 L602.6,59.21 L603.1,57.51 L603.6,55.8 L604.1,54.11 L604.6,52.47 L605.1,50.91 L605.6,49.49 L606.11,48.21 L606.61,46.96 L607.11,45.7 L607.61,44.48 L608.11,43.34 L608.61,42.34 L609.11,41.51 L609.62,40.92 L610.12,40.57 L610.62,40.29 L611.12,40.03 L611.62,39.82 L612.12,39.65 L612.62,39.53 L613.13,39.48 L613.63,39.54 L614.13,39.86 L614.63,40.4 L615.13,41.11 L615.63,41.95 L616.13,42.87 L616.64,43.87 L617.14,45.27 L617.64,47.04 L618.14,49.13 L618.64,51.46 L619.14,53.97 L619.64,56.57 L620.15,59.21 L620.65,61.92 L621.15,64.98 L621.65,68.32 L622.15,71.85 L622.65,75.46 L623.15,79.07 L623.66,82.58 L624.16,85.9 L624.66,89.08 L625.16,92.27 L625.66,95.44 L626.16,98.55 L626.66,101.57 L627.17,104.45 L627.67,107.17 L628.17,109.67 L628.67,112.04 L629.17,114.34 L629.67,116.54 L630.17,118.64 L630.68,120.62 L631.18,122.46 L631.68,124.14 L632.18,125.67 L632.68,127.1 L633.18,128.48 L633.68,129.79 L634.19,131.04 L634.69,132.22 L635.19,133.33 L635.69,134.37 L636.19,135.34 L636.69,136.24 L637.19,137.06 L637.7,137.83 L638.2,138.57 L638.7,139.28 L639.2,139.95 L639.7,140.6 L640.2,141.23 L640.7,141.82 L641.21,142.39 L641.71,142.94 L642.21,143.47 L642.71,143.97 L643.21,144.46 L643.71,144.92 L644.21,145.37 L644.72,145.79 L645.22,146.21 L645.72,146.61 L646.22,147.01 L646.72,147.4 L647.22,147.78 L647.72,148.16 L648.22,148.53 L648.73,148.89 L649.23,149.24 L649.73,149.59 L650.23,149.92 L650.73,150.25 L651.23,150.57 L651.73,150.88 L652.24,151.18 L652.74,151.48 L653.24,151.76 L653.74,152.04 L654.24,152.3 L654.74,152.56 L655.24,152.81 L655.75,153.05 L656.25,153.28 L656.75,153.5 L657.25,153.71 L657.75,153.91 L658.25,154.1 L658.75,154.29 L659.26,154.47 L659.76,154.66 L660.26,154.85 L660.76,155.03 L661.26,155.21 L661.76,155.39 L662.26,155.56 L662.77,155.74 L663.27,155.91 L663.77,156.07 L664.27,156.24 L664.77,156.4 L665.27,156.55 L665.77,156.71 L666.28,156.85 L666.78,157 L667.28,157.13 L667.78,157.27 L668.28,157.4 L668.78,157.52 L669.28,157.64 L669.79,157.75 L670.29,157.85 L670.79,157.95 L671.29,158.04 L671.79,158.13 L672.29,158.21 L672.79,158.28 L673.3,158.34 L673.8,158.4 L674.3,158.45 L674.8,158.49" fill="none" stroke="#f0853c" stroke-width="1.6" stroke-linejoin="round"/>
<rect x="497.8" y="16.2" width="177" height="142.9" fill="none" stroke="#111" stroke-width="1.5"/>
<line x1="497.8" y1="159.1" x2="497.8" y2="156.3" stroke="#111" stroke-width="1.1"/>
<line x1="527.3" y1="159.1" x2="527.3" y2="156.3" stroke="#111" stroke-width="1.1"/>
<line x1="556.8" y1="159.1" x2="556.8" y2="156.3" stroke="#111" stroke-width="1.1"/>
<line x1="586.3" y1="159.1" x2="586.3" y2="156.3" stroke="#111" stroke-width="1.1"/>
<line x1="615.8" y1="159.1" x2="615.8" y2="156.3" stroke="#111" stroke-width="1.1"/>
<line x1="645.3" y1="159.1" x2="645.3" y2="156.3" stroke="#111" stroke-width="1.1"/>
<line x1="674.8" y1="159.1" x2="674.8" y2="156.3" stroke="#111" stroke-width="1.1"/>
<line x1="512.55" y1="159.1" x2="512.55" y2="157.4" stroke="#111" stroke-width="1.1"/>
<line x1="542.05" y1="159.1" x2="542.05" y2="157.4" stroke="#111" stroke-width="1.1"/>
<line x1="571.55" y1="159.1" x2="571.55" y2="157.4" stroke="#111" stroke-width="1.1"/>
<line x1="601.05" y1="159.1" x2="601.05" y2="157.4" stroke="#111" stroke-width="1.1"/>
<line x1="630.55" y1="159.1" x2="630.55" y2="157.4" stroke="#111" stroke-width="1.1"/>
<line x1="660.05" y1="159.1" x2="660.05" y2="157.4" stroke="#111" stroke-width="1.1"/>
<line x1="497.8" y1="159.1" x2="500.6" y2="159.1" stroke="#111" stroke-width="1.1"/>
<line x1="497.8" y1="118.27" x2="500.6" y2="118.27" stroke="#111" stroke-width="1.1"/>
<line x1="497.8" y1="77.44" x2="500.6" y2="77.44" stroke="#111" stroke-width="1.1"/>
<line x1="497.8" y1="36.61" x2="500.6" y2="36.61" stroke="#111" stroke-width="1.1"/>
<line x1="497.8" y1="138.69" x2="499.5" y2="138.69" stroke="#111" stroke-width="1.1"/>
<line x1="497.8" y1="97.86" x2="499.5" y2="97.86" stroke="#111" stroke-width="1.1"/>
<line x1="497.8" y1="57.03" x2="499.5" y2="57.03" stroke="#111" stroke-width="1.1"/>
<line x1="497.8" y1="16.2" x2="499.5" y2="16.2" stroke="#111" stroke-width="1.1"/>
<text x="494.4" y="162.5" text-anchor="end" style="font-size:9.5px;font-weight:bold;fill:#111;">0.0</text>
<text x="494.4" y="121.67" text-anchor="end" style="font-size:9.5px;font-weight:bold;fill:#111;">0.2</text>
<text x="494.4" y="80.84" text-anchor="end" style="font-size:9.5px;font-weight:bold;fill:#111;">0.4</text>
<text x="494.4" y="40.01" text-anchor="end" style="font-size:9.5px;font-weight:bold;fill:#111;">0.6</text>
<text x="497.8" y="169.4" text-anchor="middle" style="font-size:9.5px;font-weight:bold;fill:#111;">400</text>
<text x="527.3" y="169.4" text-anchor="middle" style="font-size:9.5px;font-weight:bold;fill:#111;">500</text>
<text x="556.8" y="169.4" text-anchor="middle" style="font-size:9.5px;font-weight:bold;fill:#111;">600</text>
<text x="586.3" y="169.4" text-anchor="middle" style="font-size:9.5px;font-weight:bold;fill:#111;">700</text>
<text x="615.8" y="169.4" text-anchor="middle" style="font-size:9.5px;font-weight:bold;fill:#111;">800</text>
<text x="645.3" y="169.4" text-anchor="middle" style="font-size:9.5px;font-weight:bold;fill:#111;">900</text>
<text x="674.8" y="169.4" text-anchor="middle" style="font-size:9.5px;font-weight:bold;fill:#111;">1000</text>
<text x="586.3" y="182.2" text-anchor="middle" style="font-size:9.55px;font-weight:bold;fill:#111;">Wavelength (nm)</text>
<text transform="translate(472.8,82.9) rotate(-90)" text-anchor="middle" style="font-size:9.55px;font-weight:bold;fill:#111;">Absorption Coefficient (a.u.)</text>
<text x="503" y="25.7" text-anchor="start" style="font-size:8.8px;font-weight:bold;fill:#111;">In blend films</text>
<line x1="502.3" y1="33.3" x2="519.8" y2="33.3" stroke="#111" stroke-width="1.6"/>
<text x="521.9" y="35.8" text-anchor="start" style="font-size:7.3px;font-weight:bold;fill:#111;">PM6:L8-BO</text>
<line x1="502.3" y1="42.6" x2="519.8" y2="42.6" stroke="#7f68ab" stroke-width="1.6"/>
<text x="521.9" y="45.1" text-anchor="start" style="font-size:7.3px;font-weight:bold;fill:#111;">S1:L8-BO</text>
<line x1="502.3" y1="51.9" x2="519.8" y2="51.9" stroke="#5aae55" stroke-width="1.6"/>
<text x="521.9" y="54.4" text-anchor="start" style="font-size:7.3px;font-weight:bold;fill:#111;">S2:L8-BO</text>
<line x1="502.3" y1="61.2" x2="519.8" y2="61.2" stroke="#f0853c" stroke-width="1.6"/>
<text x="521.9" y="63.7" text-anchor="start" style="font-size:7.3px;font-weight:bold;fill:#111;">S3:L8-BO</text>
<line x1="37.15" y1="206.8" x2="37.15" y2="351.2" stroke="#111" stroke-width="1.7"/>
<line x1="34" y1="220.2" x2="37.15" y2="220.2" stroke="#111" stroke-width="1.3"/>
<text x="31.9" y="223.5" text-anchor="end" style="font-size:9.4px;font-weight:bold;fill:#111;">−3.5</text>
<line x1="34" y1="245.12" x2="37.15" y2="245.12" stroke="#111" stroke-width="1.3"/>
<text x="31.9" y="248.42" text-anchor="end" style="font-size:9.4px;font-weight:bold;fill:#111;">−4.0</text>
<line x1="34" y1="270.04" x2="37.15" y2="270.04" stroke="#111" stroke-width="1.3"/>
<text x="31.9" y="273.34" text-anchor="end" style="font-size:9.4px;font-weight:bold;fill:#111;">−4.5</text>
<line x1="34" y1="294.96" x2="37.15" y2="294.96" stroke="#111" stroke-width="1.3"/>
<text x="31.9" y="298.26" text-anchor="end" style="font-size:9.4px;font-weight:bold;fill:#111;">−5.0</text>
<line x1="34" y1="319.88" x2="37.15" y2="319.88" stroke="#111" stroke-width="1.3"/>
<text x="31.9" y="323.18" text-anchor="end" style="font-size:9.4px;font-weight:bold;fill:#111;">−5.5</text>
<line x1="34" y1="344.8" x2="37.15" y2="344.8" stroke="#111" stroke-width="1.3"/>
<text x="31.9" y="348.1" text-anchor="end" style="font-size:9.4px;font-weight:bold;fill:#111;">−6.0</text>
<text transform="translate(7.6,276) rotate(-90)" text-anchor="middle" style="font-size:8.9px;font-weight:bold;fill:#111;">Energy level (eV)</text>
<rect x="59.8" y="219.2" width="19.3" height="96.19" fill="none" stroke="#111" stroke-width="1.85"/>
<text x="69.45" y="216.4" text-anchor="middle" style="font-size:8.1px;font-weight:bold;fill:#111;">-3.48</text>
<text x="69.45" y="328.79" text-anchor="middle" style="font-size:8.1px;font-weight:bold;fill:#111;">-5.41</text>
<text transform="translate(69.45,267.3) rotate(90)" text-anchor="middle" style="font-size:9.2px;font-weight:bold;fill:#111;" dy="0" dominant-baseline="central">PM6</text>
<rect x="92.15" y="222.69" width="19.3" height="92.2" fill="none" stroke="#7f68ab" stroke-width="1.85"/>
<text x="101.8" y="219.89" text-anchor="middle" style="font-size:8.1px;font-weight:bold;fill:#111;">-3.55</text>
<text x="101.8" y="328.3" text-anchor="middle" style="font-size:8.1px;font-weight:bold;fill:#111;">-5.40</text>
<text transform="translate(101.8,268.79) rotate(90)" text-anchor="middle" style="font-size:9.2px;font-weight:bold;fill:#111;" dy="0" dominant-baseline="central">S1</text>
<rect x="124.7" y="224.19" width="19.3" height="93.7" fill="none" stroke="#5aae55" stroke-width="1.85"/>
<text x="134.35" y="221.39" text-anchor="middle" style="font-size:8.1px;font-weight:bold;fill:#111;">-3.58</text>
<text x="134.35" y="331.29" text-anchor="middle" style="font-size:8.1px;font-weight:bold;fill:#111;">-5.46</text>
<text transform="translate(134.35,271.04) rotate(90)" text-anchor="middle" style="font-size:9.2px;font-weight:bold;fill:#111;" dy="0" dominant-baseline="central">S2</text>
<rect x="156.8" y="222.69" width="19.3" height="94.7" fill="none" stroke="#f0853c" stroke-width="1.85"/>
<text x="166.45" y="219.89" text-anchor="middle" style="font-size:8.1px;font-weight:bold;fill:#111;">-3.55</text>
<text x="166.45" y="330.79" text-anchor="middle" style="font-size:8.1px;font-weight:bold;fill:#111;">-5.45</text>
<text transform="translate(166.45,270.04) rotate(90)" text-anchor="middle" style="font-size:9.2px;font-weight:bold;fill:#111;" dy="0" dominant-baseline="central">S3</text>
<rect x="189.25" y="241.63" width="19.3" height="89.21" fill="none" stroke="#e8767b" stroke-width="1.85"/>
<text x="198.9" y="238.83" text-anchor="middle" style="font-size:8.1px;font-weight:bold;fill:#111;">-3.93</text>
<text x="198.9" y="344.24" text-anchor="middle" style="font-size:8.1px;font-weight:bold;fill:#111;">-5.72</text>
<text transform="translate(198.9,286.24) rotate(90)" text-anchor="middle" style="font-size:9.2px;font-weight:bold;fill:#111;" dy="0" dominant-baseline="central">L8-BO</text>
<defs><linearGradient id="gG" x1="0" x2="1" y1="0" y2="0"><stop offset="0" stop-color="#5aac5c"/><stop offset="0.18" stop-color="#82c284"/><stop offset="0.5" stop-color="#bfe0c2"/><stop offset="0.82" stop-color="#82c284"/><stop offset="1" stop-color="#5aac5c"/></linearGradient><linearGradient id="gO" x1="0" x2="1" y1="0" y2="0"><stop offset="0" stop-color="#f0803a"/><stop offset="0.2" stop-color="#f4a06e"/><stop offset="0.5" stop-color="#f9ccae"/><stop offset="0.8" stop-color="#f4a06e"/><stop offset="1" stop-color="#f0803a"/></linearGradient></defs>
<rect x="270" y="283.31" width="16" height="67.59" fill="url(#gG)"/>
<rect x="289.1" y="245.59" width="17.6" height="105.31" fill="url(#gO)"/>
<text x="278" y="281.61" text-anchor="middle" style="font-size:7.6px;font-weight:bold;fill:#111;">3.76</text>
<text x="297.9" y="243.79" text-anchor="middle" style="font-size:7.3px;font-weight:bold;fill:#111;">21.97</text>
<rect x="309.7" y="282.42" width="16" height="68.48" fill="url(#gG)"/>
<rect x="328.7" y="249.52" width="17.6" height="101.38" fill="url(#gO)"/>
<text x="317.7" y="280.72" text-anchor="middle" style="font-size:7.6px;font-weight:bold;fill:#111;">3.81</text>
<text x="337.5" y="247.72" text-anchor="middle" style="font-size:7.3px;font-weight:bold;fill:#111;">21.15</text>
<rect x="349.4" y="282.42" width="16" height="68.48" fill="url(#gG)"/>
<rect x="368.3" y="247.03" width="17.6" height="103.87" fill="url(#gO)"/>
<text x="357.4" y="280.72" text-anchor="middle" style="font-size:7.6px;font-weight:bold;fill:#111;">3.81</text>
<text x="377.1" y="245.23" text-anchor="middle" style="font-size:7.3px;font-weight:bold;fill:#111;">21.67</text>
<rect x="389.1" y="282.42" width="16" height="68.48" fill="url(#gG)"/>
<rect x="407.9" y="248.47" width="17.6" height="102.43" fill="url(#gO)"/>
<text x="397.1" y="280.72" text-anchor="middle" style="font-size:7.6px;font-weight:bold;fill:#111;">3.81</text>
<text x="416.7" y="246.67" text-anchor="middle" style="font-size:7.3px;font-weight:bold;fill:#111;">21.37</text>
<rect x="258.2" y="207.1" width="177.9" height="143.8" fill="none" stroke="#111" stroke-width="1.5"/>
<line x1="258.2" y1="350.9" x2="261" y2="350.9" stroke="#111" stroke-width="1.1"/>
<text x="255.3" y="354.3" text-anchor="end" style="font-size:9.5px;font-weight:bold;fill:#5fb35f;">0</text>
<line x1="258.2" y1="332.92" x2="261" y2="332.92" stroke="#111" stroke-width="1.1"/>
<text x="255.3" y="336.32" text-anchor="end" style="font-size:9.5px;font-weight:bold;fill:#5fb35f;">1</text>
<line x1="258.2" y1="314.95" x2="261" y2="314.95" stroke="#111" stroke-width="1.1"/>
<text x="255.3" y="318.35" text-anchor="end" style="font-size:9.5px;font-weight:bold;fill:#5fb35f;">2</text>
<line x1="258.2" y1="296.97" x2="261" y2="296.97" stroke="#111" stroke-width="1.1"/>
<text x="255.3" y="300.37" text-anchor="end" style="font-size:9.5px;font-weight:bold;fill:#5fb35f;">3</text>
<line x1="258.2" y1="279" x2="261" y2="279" stroke="#111" stroke-width="1.1"/>
<text x="255.3" y="282.4" text-anchor="end" style="font-size:9.5px;font-weight:bold;fill:#5fb35f;">4</text>
<line x1="258.2" y1="261.02" x2="261" y2="261.02" stroke="#111" stroke-width="1.1"/>
<text x="255.3" y="264.42" text-anchor="end" style="font-size:9.5px;font-weight:bold;fill:#5fb35f;">5</text>
<line x1="258.2" y1="243.05" x2="261" y2="243.05" stroke="#111" stroke-width="1.1"/>
<text x="255.3" y="246.45" text-anchor="end" style="font-size:9.5px;font-weight:bold;fill:#5fb35f;">6</text>
<line x1="258.2" y1="225.07" x2="261" y2="225.07" stroke="#111" stroke-width="1.1"/>
<text x="255.3" y="228.47" text-anchor="end" style="font-size:9.5px;font-weight:bold;fill:#5fb35f;">7</text>
<line x1="258.2" y1="207.1" x2="261" y2="207.1" stroke="#111" stroke-width="1.1"/>
<text x="255.3" y="210.5" text-anchor="end" style="font-size:9.5px;font-weight:bold;fill:#5fb35f;">8</text>
<line x1="258.2" y1="341.91" x2="259.9" y2="341.91" stroke="#111" stroke-width="1.1"/>
<line x1="258.2" y1="323.94" x2="259.9" y2="323.94" stroke="#111" stroke-width="1.1"/>
<line x1="258.2" y1="305.96" x2="259.9" y2="305.96" stroke="#111" stroke-width="1.1"/>
<line x1="258.2" y1="287.99" x2="259.9" y2="287.99" stroke="#111" stroke-width="1.1"/>
<line x1="258.2" y1="270.01" x2="259.9" y2="270.01" stroke="#111" stroke-width="1.1"/>
<line x1="258.2" y1="252.04" x2="259.9" y2="252.04" stroke="#111" stroke-width="1.1"/>
<line x1="258.2" y1="234.06" x2="259.9" y2="234.06" stroke="#111" stroke-width="1.1"/>
<line x1="258.2" y1="216.09" x2="259.9" y2="216.09" stroke="#111" stroke-width="1.1"/>
<text x="439.3" y="354.3" text-anchor="start" style="font-size:9.5px;font-weight:bold;fill:#f0873f;">0</text>
<text x="439.3" y="330.33" text-anchor="start" style="font-size:9.5px;font-weight:bold;fill:#f0873f;">5</text>
<text x="439.3" y="306.37" text-anchor="start" style="font-size:9.5px;font-weight:bold;fill:#f0873f;">10</text>
<text x="439.3" y="282.4" text-anchor="start" style="font-size:9.5px;font-weight:bold;fill:#f0873f;">15</text>
<text x="439.3" y="258.43" text-anchor="start" style="font-size:9.5px;font-weight:bold;fill:#f0873f;">20</text>
<text x="439.3" y="234.47" text-anchor="start" style="font-size:9.5px;font-weight:bold;fill:#f0873f;">25</text>
<text x="439.3" y="210.5" text-anchor="start" style="font-size:9.5px;font-weight:bold;fill:#f0873f;">30</text>
<text x="287.8" y="370" text-anchor="middle" style="font-size:8.7px;font-weight:bold;fill:#111;">PM6</text>
<text x="327.4" y="370" text-anchor="middle" style="font-size:8.7px;font-weight:bold;fill:#111;">S1</text>
<text x="367" y="370" text-anchor="middle" style="font-size:8.7px;font-weight:bold;fill:#111;">S2</text>
<text x="406.6" y="370" text-anchor="middle" style="font-size:8.7px;font-weight:bold;fill:#111;">S3</text>
<text transform="translate(231.6,278.6) rotate(-90)" text-anchor="middle" style="font-size:9.2px;font-weight:bold;fill:#5fb35f;"><tspan style="font-style:italic">d</tspan>-spacing (Å)</text>
<text transform="translate(461.6,276.6) rotate(-90)" text-anchor="middle" style="font-size:9.2px;font-weight:bold;fill:#f0873f;">CCL (Å)</text>
<rect x="263" y="210.1" width="19.6" height="9" fill="url(#gG)"/>
<rect x="263" y="221.1" width="19.6" height="9.3" fill="url(#gO)"/>
<text x="285.3" y="217.9" text-anchor="start" style="font-size:8.5px;font-weight:bold;fill:#111;"><tspan style="font-style:italic">d</tspan>-spacing</text>
<text x="285.3" y="228.9" text-anchor="start" style="font-size:8.5px;font-weight:bold;fill:#111;">CCL</text>
<path d="M497.7,350.4 L497.93,349.81 L498.17,349.23 L498.4,348.64 L498.63,348.04 L498.87,347.45 L499.1,346.85 L499.33,346.26 L499.57,345.66 L499.8,345.06 L500.03,344.46 L500.27,343.86 L500.5,343.25 L500.73,342.65 L500.97,342.04 L501.2,341.43 L501.43,340.83 L501.66,340.22 L501.9,339.61 L502.13,339 L502.36,338.38 L502.6,337.77 L502.83,337.16 L503.06,336.55 L503.3,335.93 L503.53,335.32 L503.76,334.71 L504,334.09 L504.23,333.48 L504.46,332.86 L504.7,332.25 L504.93,331.63 L505.16,331.02 L505.4,330.4 L505.63,329.79 L505.86,329.17 L506.1,328.56 L506.33,327.95 L506.56,327.33 L506.8,326.72 L507.03,326.11 L507.26,325.49 L507.5,324.88 L507.73,324.27 L507.96,323.66 L508.2,323.05 L508.43,322.44 L508.66,321.84 L508.89,321.23 L509.13,320.62 L509.36,320.02 L509.59,319.41 L509.83,318.81 L510.06,318.21 L510.29,317.61 L510.53,317.01 L510.76,316.41 L510.99,315.81 L511.23,315.21 L511.46,314.62 L511.69,314.02 L511.93,313.43 L512.16,312.84 L512.39,312.25 L512.63,311.66 L512.86,311.08 L513.09,310.49 L513.33,309.91 L513.56,309.33 L513.79,308.75 L514.03,308.17 L514.26,307.59 L514.49,307.01 L514.73,306.44 L514.96,305.87 L515.19,305.3 L515.43,304.73 L515.66,304.16 L515.89,303.6 L516.12,303.04 L516.36,302.48 L516.59,301.92 L516.82,301.36 L517.06,300.81 L517.29,300.25 L517.52,299.7 L517.76,299.15 L517.99,298.61 L518.22,298.06 L518.46,297.52 L518.69,296.98 L518.92,296.44 L519.16,295.91 L519.39,295.37 L519.62,294.84 L519.86,294.31 L520.09,293.79 L520.32,293.26 L520.56,292.74 L520.79,292.22 L521.02,291.7 L521.26,291.18 L521.49,290.67 L521.72,290.16 L521.96,289.65 L522.19,289.15 L522.42,288.64 L522.66,288.14 L522.89,287.64 L523.12,287.14 L523.35,286.65 L523.59,286.16 L523.82,285.67 L524.05,285.18 L524.29,284.7 L524.52,284.21 L524.75,283.73 L524.99,283.26 L525.22,282.78 L525.45,282.31 L525.69,281.84 L525.92,281.37 L526.15,280.91 L526.39,280.45 L526.62,279.99 L526.85,279.53 L527.09,279.07 L527.32,278.62 L527.55,278.17 L527.79,277.73 L528.02,277.28 L528.25,276.84 L528.49,276.4 L528.72,275.96 L528.95,275.53 L529.19,275.09 L529.42,274.66 L529.65,274.24 L529.89,273.81 L530.12,273.39 L530.35,272.97 L530.58,272.55 L530.82,272.14 L531.05,271.73 L531.28,271.32 L531.52,270.91 L531.75,270.5 L531.98,270.1 L532.22,269.7 L532.45,269.3 L532.68,268.91 L532.92,268.52 L533.15,268.13 L533.38,267.74 L533.62,267.35 L533.85,266.97 L534.08,266.59 L534.32,266.21 L534.55,265.84 L534.78,265.46 L535.02,265.09 L535.25,264.73 L535.48,264.36 L535.72,264 L535.95,263.64 L536.18,263.28 L536.42,262.92 L536.65,262.57 L536.88,262.21 L537.12,261.87 L537.35,261.52 L537.58,261.17 L537.81,260.83 L538.05,260.49 L538.28,260.15 L538.51,259.82 L538.75,259.48 L538.98,259.15 L539.21,258.82 L539.45,258.5 L539.68,258.17 L539.91,257.85 L540.15,257.53 L540.38,257.21 L540.61,256.9 L540.85,256.58 L541.08,256.27 L541.31,255.96 L541.55,255.65 L541.78,255.35 L542.01,255.04 L542.25,254.74 L542.48,254.44 L542.71,254.15 L542.95,253.85 L543.18,253.56 L543.41,253.27 L543.65,252.98 L543.88,252.69 L544.11,252.41 L544.35,252.12 L544.58,251.84 L544.81,251.56 L545.04,251.29 L545.28,251.01 L545.51,250.74 L545.74,250.47 L545.98,250.2 L546.21,249.93 L546.44,249.66 L546.68,249.4 L546.91,249.13 L547.14,248.87 L547.38,248.61 L547.61,248.36 L547.84,248.1 L548.08,247.85 L548.31,247.6 L548.54,247.35 L548.78,247.1 L549.01,246.85 L549.24,246.61 L549.48,246.36 L549.71,246.12 L549.94,245.88 L550.18,245.64 L550.41,245.4 L550.64,245.17 L550.88,244.93 L551.11,244.7 L551.34,244.47 L551.58,244.24 L551.81,244.01 L552.04,243.79 L552.27,243.56 L552.51,243.34 L552.74,243.12 L552.97,242.89 L553.21,242.68 L553.44,242.46 L553.67,242.24 L553.91,242.03 L554.14,241.81 L554.37,241.6 L554.61,241.39 L554.84,241.18 L555.07,240.97 L555.31,240.77 L555.54,240.56 L555.77,240.36 L556.01,240.15 L556.24,239.95 L556.47,239.75 L556.71,239.55 L556.94,239.35 L557.17,239.16 L557.41,238.96 L557.64,238.77 L557.87,238.57 L558.11,238.38 L558.34,238.19 L558.57,238 L558.81,237.81 L559.04,237.63 L559.27,237.44 L559.5,237.26 L559.74,237.07 L559.97,236.89 L560.2,236.71 L560.44,236.53 L560.67,236.35 L560.9,236.17 L561.14,235.99 L561.37,235.82 L561.6,235.64 L561.84,235.47 L562.07,235.3 L562.3,235.12 L562.54,234.95 L562.77,234.78 L563,234.62 L563.24,234.45 L563.47,234.28 L563.7,234.12 L563.94,233.95 L564.17,233.79 L564.4,233.62 L564.64,233.46 L564.87,233.3 L565.1,233.14 L565.34,232.98 L565.57,232.83 L565.8,232.67 L566.04,232.51 L566.27,232.36 L566.5,232.21 L566.73,232.05 L566.97,231.9 L567.2,231.75 L567.43,231.6 L567.67,231.45 L567.9,231.31 L568.13,231.16 L568.37,231.01 L568.6,230.87 L568.83,230.73 L569.07,230.58 L569.3,230.44 L569.53,230.3 L569.77,230.16 L570,230.02 L570.23,229.89 L570.47,229.75 L570.7,229.61 L570.93,229.48 L571.17,229.35 L571.4,229.21 L571.63,229.08 L571.87,228.95 L572.1,228.83 L572.33,228.7 L572.57,228.57 L572.8,228.45 L573.03,228.32 L573.27,228.2 L573.5,228.08 L573.73,227.95 L573.96,227.83 L574.2,227.72 L574.43,227.6 L574.66,227.48 L574.9,227.37 L575.13,227.25 L575.36,227.14 L575.6,227.03 L575.83,226.92 L576.06,226.81 L576.3,226.71 L576.53,226.6 L576.76,226.5 L577,226.39 L577.23,226.29 L577.46,226.19 L577.7,226.09 L577.93,226 L578.16,225.9 L578.4,225.81 L578.63,225.71 L578.86,225.62 L579.1,225.53 L579.33,225.44 L579.56,225.36 L579.8,225.27 L580.03,225.19 L580.26,225.11 L580.5,225.03 L580.73,224.95 L580.96,224.88 L581.19,224.8 L581.43,224.73 L581.66,224.66 L581.89,224.59 L582.13,224.52 L582.36,224.46 L582.59,224.4 L582.83,224.34 L583.06,224.28 L583.29,224.22 L583.53,224.17 L583.76,224.12 L583.99,224.07 L584.23,224.02 L584.46,223.97 L584.69,223.93 L584.93,223.89 L585.16,223.85 L585.39,223.82 L585.63,223.78 L585.86,223.75 L586.09,223.73 L586.33,223.7 L586.56,223.68 L586.79,223.66 L587.03,223.64 L587.26,223.63 L587.49,223.61 L587.73,223.61 L587.96,223.6 L588.19,223.6 L588.42,223.6 L588.66,223.6 L588.89,223.61 L589.12,223.62 L589.36,223.63 L589.59,223.65 L589.82,223.67 L590.06,223.69 L590.29,223.72 L590.52,223.75 L590.76,223.78 L590.76,344.68" fill="none" stroke="#111" stroke-width="1.5"/>
<g fill="#fff" stroke="#111" stroke-width="1.1"><circle cx="497.7" cy="350.4" r="1.15"/><circle cx="498.63" cy="348.04" r="1.15"/><circle cx="499.57" cy="345.66" r="1.15"/><circle cx="500.5" cy="343.25" r="1.15"/><circle cx="501.43" cy="340.83" r="1.15"/><circle cx="502.36" cy="338.38" r="1.15"/><circle cx="503.3" cy="335.93" r="1.15"/><circle cx="504.23" cy="333.48" r="1.15"/><circle cx="505.16" cy="331.02" r="1.15"/><circle cx="506.1" cy="328.56" r="1.15"/><circle cx="507.03" cy="326.11" r="1.15"/><circle cx="507.96" cy="323.66" r="1.15"/><circle cx="508.89" cy="321.23" r="1.15"/><circle cx="509.83" cy="318.81" r="1.15"/><circle cx="510.76" cy="316.41" r="1.15"/><circle cx="511.69" cy="314.02" r="1.15"/><circle cx="512.63" cy="311.66" r="1.15"/><circle cx="513.56" cy="309.33" r="1.15"/><circle cx="514.49" cy="307.01" r="1.15"/><circle cx="515.43" cy="304.73" r="1.15"/><circle cx="516.36" cy="302.48" r="1.15"/><circle cx="517.29" cy="300.25" r="1.15"/><circle cx="518.22" cy="298.06" r="1.15"/><circle cx="519.16" cy="295.91" r="1.15"/><circle cx="520.09" cy="293.79" r="1.15"/><circle cx="521.02" cy="291.7" r="1.15"/><circle cx="521.96" cy="289.65" r="1.15"/><circle cx="522.89" cy="287.64" r="1.15"/><circle cx="523.82" cy="285.67" r="1.15"/><circle cx="524.75" cy="283.73" r="1.15"/><circle cx="525.69" cy="281.84" r="1.15"/><circle cx="526.85" cy="279.53" r="1.15"/><circle cx="528.02" cy="277.28" r="1.15"/><circle cx="529.19" cy="275.09" r="1.15"/><circle cx="530.35" cy="272.97" r="1.15"/><circle cx="531.52" cy="270.91" r="1.15"/><circle cx="532.68" cy="268.91" r="1.15"/><circle cx="533.85" cy="266.97" r="1.15"/><circle cx="535.02" cy="265.09" r="1.15"/><circle cx="536.18" cy="263.28" r="1.15"/><circle cx="537.35" cy="261.52" r="1.15"/><circle cx="538.75" cy="259.48" r="1.15"/><circle cx="540.15" cy="257.53" r="1.15"/><circle cx="541.55" cy="255.65" r="1.15"/><circle cx="542.95" cy="253.85" r="1.15"/><circle cx="544.35" cy="252.12" r="1.15"/><circle cx="545.74" cy="250.47" r="1.15"/><circle cx="547.14" cy="248.87" r="1.15"/><circle cx="548.78" cy="247.1" r="1.15"/><circle cx="550.41" cy="245.4" r="1.15"/><circle cx="552.04" cy="243.79" r="1.15"/><circle cx="553.67" cy="242.24" r="1.15"/><circle cx="555.31" cy="240.77" r="1.15"/><circle cx="556.94" cy="239.35" r="1.15"/><circle cx="558.57" cy="238" r="1.15"/><circle cx="560.44" cy="236.53" r="1.15"/><circle cx="562.3" cy="235.12" r="1.15"/><circle cx="564.17" cy="233.79" r="1.15"/><circle cx="566.04" cy="232.51" r="1.15"/><circle cx="567.9" cy="231.31" r="1.15"/><circle cx="569.77" cy="230.16" r="1.15"/><circle cx="571.63" cy="229.08" r="1.15"/><circle cx="573.5" cy="228.08" r="1.15"/><circle cx="575.6" cy="227.03" r="1.15"/><circle cx="577.7" cy="226.09" r="1.15"/><circle cx="579.8" cy="225.27" r="1.15"/><circle cx="581.89" cy="224.59" r="1.15"/><circle cx="583.99" cy="224.07" r="1.15"/><circle cx="586.09" cy="223.73" r="1.15"/><circle cx="588.19" cy="223.6" r="1.15"/><circle cx="590.29" cy="223.72" r="1.15"/><circle cx="590.76" cy="344.68" r="1.45"/></g>
<path d="M497.7,350.4 L497.98,349.88 L498.27,349.37 L498.55,348.85 L498.83,348.34 L499.12,347.82 L499.4,347.31 L499.68,346.79 L499.97,346.28 L500.25,345.77 L500.53,345.25 L500.82,344.74 L501.1,344.23 L501.38,343.72 L501.67,343.2 L501.95,342.69 L502.24,342.18 L502.52,341.67 L502.8,341.16 L503.09,340.65 L503.37,340.14 L503.65,339.63 L503.94,339.12 L504.22,338.61 L504.5,338.11 L504.79,337.6 L505.07,337.09 L505.35,336.58 L505.64,336.08 L505.92,335.57 L506.2,335.06 L506.49,334.56 L506.77,334.05 L507.05,333.55 L507.34,333.05 L507.62,332.54 L507.9,332.04 L508.19,331.54 L508.47,331.03 L508.75,330.53 L509.04,330.03 L509.32,329.53 L509.6,329.03 L509.89,328.53 L510.17,328.03 L510.45,327.53 L510.74,327.03 L511.02,326.53 L511.31,326.03 L511.59,325.53 L511.87,325.04 L512.16,324.54 L512.44,324.04 L512.72,323.55 L513.01,323.05 L513.29,322.56 L513.57,322.07 L513.86,321.57 L514.14,321.08 L514.42,320.59 L514.71,320.1 L514.99,319.6 L515.27,319.11 L515.56,318.62 L515.84,318.13 L516.12,317.64 L516.41,317.16 L516.69,316.67 L516.97,316.18 L517.26,315.69 L517.54,315.21 L517.82,314.72 L518.11,314.24 L518.39,313.75 L518.67,313.27 L518.96,312.79 L519.24,312.31 L519.53,311.83 L519.81,311.34 L520.09,310.86 L520.38,310.38 L520.66,309.91 L520.94,309.43 L521.23,308.95 L521.51,308.47 L521.79,308 L522.08,307.52 L522.36,307.05 L522.64,306.58 L522.93,306.1 L523.21,305.63 L523.49,305.16 L523.78,304.69 L524.06,304.22 L524.34,303.75 L524.63,303.28 L524.91,302.81 L525.19,302.35 L525.48,301.88 L525.76,301.42 L526.04,300.95 L526.33,300.49 L526.61,300.03 L526.89,299.57 L527.18,299.1 L527.46,298.65 L527.74,298.19 L528.03,297.73 L528.31,297.27 L528.6,296.82 L528.88,296.36 L529.16,295.91 L529.45,295.45 L529.73,295 L530.01,294.55 L530.3,294.1 L530.58,293.65 L530.86,293.2 L531.15,292.75 L531.43,292.31 L531.71,291.86 L532,291.42 L532.28,290.97 L532.56,290.53 L532.85,290.09 L533.13,289.65 L533.41,289.21 L533.7,288.77 L533.98,288.34 L534.26,287.9 L534.55,287.47 L534.83,287.03 L535.11,286.6 L535.4,286.17 L535.68,285.74 L535.96,285.31 L536.25,284.88 L536.53,284.45 L536.82,284.03 L537.1,283.6 L537.38,283.18 L537.67,282.76 L537.95,282.34 L538.23,281.92 L538.52,281.5 L538.8,281.08 L539.08,280.67 L539.37,280.25 L539.65,279.84 L539.93,279.43 L540.22,279.02 L540.5,278.61 L540.78,278.2 L541.07,277.79 L541.35,277.38 L541.63,276.98 L541.92,276.58 L542.2,276.18 L542.48,275.78 L542.77,275.38 L543.05,274.98 L543.33,274.58 L543.62,274.19 L543.9,273.79 L544.18,273.4 L544.47,273.01 L544.75,272.62 L545.03,272.24 L545.32,271.85 L545.6,271.46 L545.89,271.08 L546.17,270.7 L546.45,270.32 L546.74,269.94 L547.02,269.56 L547.3,269.19 L547.59,268.81 L547.87,268.44 L548.15,268.07 L548.44,267.7 L548.72,267.33 L549,266.96 L549.29,266.6 L549.57,266.23 L549.85,265.87 L550.14,265.51 L550.42,265.15 L550.7,264.79 L550.99,264.44 L551.27,264.08 L551.55,263.73 L551.84,263.38 L552.12,263.03 L552.4,262.68 L552.69,262.34 L552.97,261.99 L553.25,261.65 L553.54,261.31 L553.82,260.97 L554.11,260.63 L554.39,260.29 L554.67,259.96 L554.96,259.63 L555.24,259.3 L555.52,258.97 L555.81,258.64 L556.09,258.31 L556.37,257.99 L556.66,257.67 L556.94,257.35 L557.22,257.03 L557.51,256.71 L557.79,256.4 L558.07,256.08 L558.36,255.77 L558.64,255.46 L558.92,255.15 L559.21,254.85 L559.49,254.54 L559.77,254.24 L560.06,253.94 L560.34,253.64 L560.62,253.34 L560.91,253.05 L561.19,252.75 L561.47,252.46 L561.76,252.17 L562.04,251.88 L562.32,251.6 L562.61,251.31 L562.89,251.03 L563.18,250.75 L563.46,250.47 L563.74,250.2 L564.03,249.92 L564.31,249.65 L564.59,249.38 L564.88,249.11 L565.16,248.84 L565.44,248.58 L565.73,248.31 L566.01,248.05 L566.29,247.79 L566.58,247.53 L566.86,247.28 L567.14,247.03 L567.43,246.77 L567.71,246.52 L567.99,246.28 L568.28,246.03 L568.56,245.79 L568.84,245.55 L569.13,245.31 L569.41,245.07 L569.69,244.83 L569.98,244.6 L570.26,244.37 L570.54,244.14 L570.83,243.91 L571.11,243.68 L571.4,243.46 L571.68,243.24 L571.96,243.02 L572.25,242.8 L572.53,242.58 L572.81,242.37 L573.1,242.16 L573.38,241.95 L573.66,241.74 L573.95,241.53 L574.23,241.33 L574.51,241.13 L574.8,240.93 L575.08,240.73 L575.36,240.53 L575.65,240.34 L575.93,240.15 L576.21,239.96 L576.5,239.77 L576.78,239.58 L577.06,239.4 L577.35,239.22 L577.63,239.04 L577.91,238.86 L578.2,238.68 L578.48,238.51 L578.76,238.34 L579.05,238.17 L579.33,238 L579.61,237.83 L579.9,237.67 L580.18,237.51 L580.47,237.35 L580.75,237.19 L581.03,237.04 L581.32,236.88 L581.6,236.73 L581.88,236.58 L582.17,236.43 L582.45,236.29 L582.73,236.14 L583.02,236 L583.3,235.86 L583.58,235.72 L583.87,235.59 L584.15,235.45 L584.43,235.32 L584.72,235.19 L585,235.06 L585.28,234.94 L585.57,234.81 L585.85,234.69 L586.13,234.57 L586.42,234.45 L586.7,234.34 L586.98,234.22 L587.27,234.11 L587.55,234 L587.83,233.89 L588.12,233.79 L588.4,233.68 L588.68,233.58 L588.97,233.48 L589.25,233.38 L589.54,233.28 L589.82,233.19 L590.1,233.09 L590.39,233 L590.67,232.91 L590.95,232.82 L591.24,232.74 L591.52,232.65 L591.8,232.57 L592.09,232.49 L592.37,232.41 L592.65,232.34 L592.94,232.26 L593.22,232.19 L593.5,232.12 L593.79,232.05 L594.07,231.98 L594.35,231.91 L594.64,231.85 L594.92,231.79 L595.2,231.72 L595.49,231.67 L595.77,231.61 L596.05,231.55 L596.34,231.5 L596.62,231.45 L596.9,231.39 L597.19,231.34 L597.47,231.3 L597.76,231.25 L598.04,231.21 L598.32,231.16 L598.61,231.12 L598.89,231.08 L599.17,231.05 L599.46,231.01 L599.74,230.97 L600.02,230.94 L600.31,230.91 L600.59,230.88 L600.87,230.85 L601.16,230.82 L601.44,230.8 L601.72,230.77 L602.01,230.75 L602.29,230.73 L602.57,230.71 L602.86,230.69 L603.14,230.67 L603.42,230.66 L603.71,230.64 L603.99,230.63 L604.27,230.62 L604.56,230.61 L604.84,230.6 L605.12,230.59 L605.41,230.58 L605.69,230.58 L605.97,230.57 L606.26,230.57 L606.54,230.57 L606.83,230.57 L607.11,230.57 L607.39,230.57 L607.68,230.57 L607.96,230.57 L608.24,230.58 L608.53,230.58 L608.81,230.59 L609.09,230.6 L609.38,230.61 L609.66,230.62 L609.94,230.63 L610.23,230.64 L610.51,230.65 L610.79,230.66 L610.79,344.68" fill="none" stroke="#7f68ab" stroke-width="1.5"/>
<g fill="#fff" stroke="#7f68ab" stroke-width="1.1"><circle cx="497.7" cy="350.4" r="1.15"/><circle cx="498.83" cy="348.34" r="1.15"/><circle cx="499.97" cy="346.28" r="1.15"/><circle cx="501.1" cy="344.23" r="1.15"/><circle cx="502.24" cy="342.18" r="1.15"/><circle cx="503.37" cy="340.14" r="1.15"/><circle cx="504.5" cy="338.11" r="1.15"/><circle cx="505.64" cy="336.08" r="1.15"/><circle cx="506.77" cy="334.05" r="1.15"/><circle cx="507.9" cy="332.04" r="1.15"/><circle cx="509.04" cy="330.03" r="1.15"/><circle cx="510.17" cy="328.03" r="1.15"/><circle cx="511.31" cy="326.03" r="1.15"/><circle cx="512.44" cy="324.04" r="1.15"/><circle cx="513.57" cy="322.07" r="1.15"/><circle cx="514.71" cy="320.1" r="1.15"/><circle cx="515.84" cy="318.13" r="1.15"/><circle cx="516.97" cy="316.18" r="1.15"/><circle cx="518.11" cy="314.24" r="1.15"/><circle cx="519.24" cy="312.31" r="1.15"/><circle cx="520.38" cy="310.38" r="1.15"/><circle cx="521.51" cy="308.47" r="1.15"/><circle cx="522.64" cy="306.58" r="1.15"/><circle cx="523.78" cy="304.69" r="1.15"/><circle cx="524.91" cy="302.81" r="1.15"/><circle cx="526.04" cy="300.95" r="1.15"/><circle cx="527.18" cy="299.1" r="1.15"/><circle cx="528.31" cy="297.27" r="1.15"/><circle cx="529.45" cy="295.45" r="1.15"/><circle cx="530.58" cy="293.65" r="1.15"/><circle cx="531.71" cy="291.86" r="1.15"/><circle cx="532.85" cy="290.09" r="1.15"/><circle cx="534.26" cy="287.9" r="1.15"/><circle cx="535.68" cy="285.74" r="1.15"/><circle cx="537.1" cy="283.6" r="1.15"/><circle cx="538.52" cy="281.5" r="1.15"/><circle cx="539.93" cy="279.43" r="1.15"/><circle cx="541.35" cy="277.38" r="1.15"/><circle cx="542.77" cy="275.38" r="1.15"/><circle cx="544.18" cy="273.4" r="1.15"/><circle cx="545.6" cy="271.46" r="1.15"/><circle cx="547.02" cy="269.56" r="1.15"/><circle cx="548.44" cy="267.7" r="1.15"/><circle cx="549.85" cy="265.87" r="1.15"/><circle cx="551.27" cy="264.08" r="1.15"/><circle cx="552.69" cy="262.34" r="1.15"/><circle cx="554.11" cy="260.63" r="1.15"/><circle cx="555.52" cy="258.97" r="1.15"/><circle cx="556.94" cy="257.35" r="1.15"/><circle cx="558.36" cy="255.77" r="1.15"/><circle cx="560.06" cy="253.94" r="1.15"/><circle cx="561.76" cy="252.17" r="1.15"/><circle cx="563.46" cy="250.47" r="1.15"/><circle cx="565.16" cy="248.84" r="1.15"/><circle cx="566.86" cy="247.28" r="1.15"/><circle cx="568.56" cy="245.79" r="1.15"/><circle cx="570.26" cy="244.37" r="1.15"/><circle cx="571.96" cy="243.02" r="1.15"/><circle cx="573.66" cy="241.74" r="1.15"/><circle cx="575.65" cy="240.34" r="1.15"/><circle cx="577.63" cy="239.04" r="1.15"/><circle cx="579.61" cy="237.83" r="1.15"/><circle cx="581.6" cy="236.73" r="1.15"/><circle cx="583.58" cy="235.72" r="1.15"/><circle cx="585.57" cy="234.81" r="1.15"/><circle cx="587.55" cy="234" r="1.15"/><circle cx="589.54" cy="233.28" r="1.15"/><circle cx="591.8" cy="232.57" r="1.15"/><circle cx="594.07" cy="231.98" r="1.15"/><circle cx="596.34" cy="231.5" r="1.15"/><circle cx="598.61" cy="231.12" r="1.15"/><circle cx="600.87" cy="230.85" r="1.15"/><circle cx="603.14" cy="230.67" r="1.15"/><circle cx="605.41" cy="230.58" r="1.15"/><circle cx="607.68" cy="230.57" r="1.15"/><circle cx="609.94" cy="230.63" r="1.15"/><circle cx="610.79" cy="344.68" r="1.45"/></g>
<path d="M497.7,350.4 L498.04,349.65 L498.38,348.9 L498.72,348.15 L499.07,347.39 L499.41,346.64 L499.75,345.89 L500.09,345.14 L500.43,344.39 L500.77,343.64 L501.11,342.89 L501.46,342.14 L501.8,341.39 L502.14,340.64 L502.48,339.89 L502.82,339.14 L503.16,338.4 L503.5,337.65 L503.85,336.91 L504.19,336.17 L504.53,335.43 L504.87,334.69 L505.21,333.95 L505.55,333.21 L505.9,332.48 L506.24,331.74 L506.58,331.01 L506.92,330.28 L507.26,329.55 L507.6,328.83 L507.94,328.1 L508.29,327.38 L508.63,326.66 L508.97,325.94 L509.31,325.22 L509.65,324.51 L509.99,323.79 L510.33,323.09 L510.68,322.38 L511.02,321.67 L511.36,320.97 L511.7,320.27 L512.04,319.57 L512.38,318.88 L512.72,318.19 L513.07,317.5 L513.41,316.81 L513.75,316.13 L514.09,315.45 L514.43,314.77 L514.77,314.09 L515.11,313.42 L515.46,312.75 L515.8,312.09 L516.14,311.42 L516.48,310.76 L516.82,310.11 L517.16,309.45 L517.51,308.8 L517.85,308.16 L518.19,307.51 L518.53,306.87 L518.87,306.24 L519.21,305.6 L519.55,304.97 L519.9,304.35 L520.24,303.72 L520.58,303.1 L520.92,302.49 L521.26,301.88 L521.6,301.27 L521.94,300.66 L522.29,300.06 L522.63,299.46 L522.97,298.87 L523.31,298.28 L523.65,297.69 L523.99,297.11 L524.33,296.53 L524.68,295.96 L525.02,295.38 L525.36,294.82 L525.7,294.25 L526.04,293.69 L526.38,293.14 L526.72,292.59 L527.07,292.04 L527.41,291.49 L527.75,290.95 L528.09,290.42 L528.43,289.89 L528.77,289.36 L529.12,288.83 L529.46,288.31 L529.8,287.8 L530.14,287.29 L530.48,286.78 L530.82,286.27 L531.16,285.77 L531.51,285.28 L531.85,284.78 L532.19,284.3 L532.53,283.81 L532.87,283.33 L533.21,282.86 L533.55,282.38 L533.9,281.92 L534.24,281.45 L534.58,280.99 L534.92,280.54 L535.26,280.09 L535.6,279.64 L535.94,279.2 L536.29,278.76 L536.63,278.32 L536.97,277.89 L537.31,277.46 L537.65,277.04 L537.99,276.62 L538.33,276.2 L538.68,275.79 L539.02,275.38 L539.36,274.98 L539.7,274.58 L540.04,274.19 L540.38,273.79 L540.73,273.41 L541.07,273.02 L541.41,272.64 L541.75,272.27 L542.09,271.9 L542.43,271.53 L542.77,271.16 L543.12,270.8 L543.46,270.45 L543.8,270.09 L544.14,269.75 L544.48,269.4 L544.82,269.06 L545.16,268.72 L545.51,268.39 L545.85,268.06 L546.19,267.73 L546.53,267.41 L546.87,267.09 L547.21,266.78 L547.55,266.46 L547.9,266.16 L548.24,265.85 L548.58,265.55 L548.92,265.26 L549.26,264.96 L549.6,264.67 L549.94,264.39 L550.29,264.1 L550.63,263.82 L550.97,263.55 L551.31,263.28 L551.65,263.01 L551.99,262.74 L552.34,262.48 L552.68,262.22 L553.02,261.96 L553.36,261.71 L553.7,261.46 L554.04,261.22 L554.38,260.97 L554.73,260.73 L555.07,260.5 L555.41,260.27 L555.75,260.04 L556.09,259.81 L556.43,259.58 L556.77,259.36 L557.12,259.15 L557.46,258.93 L557.8,258.72 L558.14,258.51 L558.48,258.31 L558.82,258.1 L559.16,257.9 L559.51,257.71 L559.85,257.51 L560.19,257.32 L560.53,257.13 L560.87,256.94 L561.21,256.76 L561.55,256.58 L561.9,256.4 L562.24,256.23 L562.58,256.05 L562.92,255.88 L563.26,255.72 L563.6,255.55 L563.95,255.39 L564.29,255.23 L564.63,255.07 L564.97,254.91 L565.31,254.76 L565.65,254.61 L565.99,254.46 L566.34,254.32 L566.68,254.17 L567.02,254.03 L567.36,253.89 L567.7,253.75 L568.04,253.62 L568.38,253.48 L568.73,253.35 L569.07,253.22 L569.41,253.1 L569.75,252.97 L570.09,252.85 L570.43,252.73 L570.77,252.61 L571.12,252.49 L571.46,252.38 L571.8,252.26 L572.14,252.15 L572.48,252.04 L572.82,251.93 L573.16,251.83 L573.51,251.72 L573.85,251.62 L574.19,251.51 L574.53,251.41 L574.87,251.32 L575.21,251.22 L575.56,251.12 L575.9,251.03 L576.24,250.94 L576.58,250.84 L576.92,250.75 L577.26,250.67 L577.6,250.58 L577.95,250.49 L578.29,250.41 L578.63,250.33 L578.97,250.24 L579.31,250.16 L579.65,250.08 L579.99,250 L580.34,249.93 L580.68,249.85 L581.02,249.78 L581.36,249.7 L581.7,249.63 L582.04,249.56 L582.38,249.48 L582.73,249.41 L583.07,249.34 L583.41,249.28 L583.75,249.21 L584.09,249.14 L584.43,249.08 L584.77,249.01 L585.12,248.95 L585.46,248.88 L585.8,248.82 L586.14,248.76 L586.48,248.7 L586.82,248.64 L587.17,248.58 L587.51,248.52 L587.85,248.46 L588.19,248.4 L588.53,248.34 L588.87,248.29 L589.21,248.23 L589.56,248.18 L589.9,248.12 L590.24,248.07 L590.58,248.01 L590.92,247.96 L591.26,247.9 L591.6,247.85 L591.95,247.8 L592.29,247.75 L592.63,247.7 L592.97,247.64 L593.31,247.59 L593.65,247.54 L593.99,247.49 L594.34,247.44 L594.68,247.39 L595.02,247.34 L595.36,247.29 L595.7,247.25 L596.04,247.2 L596.38,247.15 L596.73,247.1 L597.07,247.05 L597.41,247.01 L597.75,246.96 L598.09,246.91 L598.43,246.86 L598.78,246.82 L599.12,246.77 L599.46,246.72 L599.8,246.68 L600.14,246.63 L600.48,246.59 L600.82,246.54 L601.17,246.5 L601.51,246.45 L601.85,246.41 L602.19,246.36 L602.53,246.32 L602.87,246.27 L603.21,246.23 L603.56,246.18 L603.9,246.14 L604.24,246.09 L604.58,246.05 L604.92,246.01 L605.26,245.96 L605.6,245.92 L605.95,245.88 L606.29,245.83 L606.63,245.79 L606.97,245.75 L607.31,245.71 L607.65,245.67 L607.99,245.62 L608.34,245.58 L608.68,245.54 L609.02,245.5 L609.36,245.46 L609.7,245.42 L610.04,245.38 L610.39,245.34 L610.73,245.3 L611.07,245.26 L611.41,245.22 L611.75,245.18 L612.09,245.15 L612.43,245.11 L612.78,245.07 L613.12,245.04 L613.46,245 L613.8,244.96 L614.14,244.93 L614.48,244.9 L614.82,244.86 L615.17,244.83 L615.51,244.8 L615.85,244.76 L616.19,244.73 L616.53,244.7 L616.87,244.67 L617.21,244.64 L617.56,244.62 L617.9,244.59 L618.24,244.56 L618.58,244.54 L618.92,244.51 L619.26,244.49 L619.6,244.47 L619.95,244.44 L620.29,244.42 L620.63,244.4 L620.97,244.39 L621.31,244.37 L621.65,244.35 L622,244.34 L622.34,244.33 L622.68,244.31 L623.02,244.3 L623.36,244.29 L623.7,244.29 L624.04,244.28 L624.39,244.28 L624.73,244.27 L625.07,244.27 L625.41,244.27 L625.75,244.28 L626.09,244.28 L626.43,244.29 L626.78,244.29 L627.12,244.3 L627.46,244.32 L627.8,244.33 L628.14,244.35 L628.48,244.37 L628.82,244.39 L629.17,244.41 L629.51,244.44 L629.85,244.47 L630.19,244.5 L630.53,244.53 L630.87,244.57 L631.21,244.61 L631.56,244.65 L631.9,244.69 L632.24,244.74 L632.58,244.79 L632.92,244.85 L633.26,244.9 L633.61,244.96 L633.95,245.03 L633.95,344.68" fill="none" stroke="#5aae55" stroke-width="1.5"/>
<g fill="#fff" stroke="#5aae55" stroke-width="1.1"><circle cx="497.7" cy="350.4" r="1.15"/><circle cx="498.72" cy="348.15" r="1.15"/><circle cx="499.75" cy="345.89" r="1.15"/><circle cx="500.77" cy="343.64" r="1.15"/><circle cx="501.8" cy="341.39" r="1.15"/><circle cx="502.82" cy="339.14" r="1.15"/><circle cx="503.85" cy="336.91" r="1.15"/><circle cx="504.87" cy="334.69" r="1.15"/><circle cx="505.9" cy="332.48" r="1.15"/><circle cx="506.92" cy="330.28" r="1.15"/><circle cx="507.94" cy="328.1" r="1.15"/><circle cx="508.97" cy="325.94" r="1.15"/><circle cx="509.99" cy="323.79" r="1.15"/><circle cx="511.02" cy="321.67" r="1.15"/><circle cx="512.04" cy="319.57" r="1.15"/><circle cx="513.07" cy="317.5" r="1.15"/><circle cx="514.09" cy="315.45" r="1.15"/><circle cx="515.11" cy="313.42" r="1.15"/><circle cx="516.14" cy="311.42" r="1.15"/><circle cx="517.16" cy="309.45" r="1.15"/><circle cx="518.19" cy="307.51" r="1.15"/><circle cx="519.21" cy="305.6" r="1.15"/><circle cx="520.24" cy="303.72" r="1.15"/><circle cx="521.26" cy="301.88" r="1.15"/><circle cx="522.63" cy="299.46" r="1.15"/><circle cx="523.99" cy="297.11" r="1.15"/><circle cx="525.36" cy="294.82" r="1.15"/><circle cx="526.72" cy="292.59" r="1.15"/><circle cx="528.09" cy="290.42" r="1.15"/><circle cx="529.46" cy="288.31" r="1.15"/><circle cx="530.82" cy="286.27" r="1.15"/><circle cx="532.19" cy="284.3" r="1.15"/><circle cx="533.55" cy="282.38" r="1.15"/><circle cx="534.92" cy="280.54" r="1.15"/><circle cx="536.29" cy="278.76" r="1.15"/><circle cx="537.65" cy="277.04" r="1.15"/><circle cx="539.02" cy="275.38" r="1.15"/><circle cx="540.73" cy="273.41" r="1.15"/><circle cx="542.43" cy="271.53" r="1.15"/><circle cx="544.14" cy="269.75" r="1.15"/><circle cx="545.85" cy="268.06" r="1.15"/><circle cx="547.55" cy="266.46" r="1.15"/><circle cx="549.26" cy="264.96" r="1.15"/><circle cx="550.97" cy="263.55" r="1.15"/><circle cx="552.68" cy="262.22" r="1.15"/><circle cx="554.38" cy="260.97" r="1.15"/><circle cx="556.43" cy="259.58" r="1.15"/><circle cx="558.48" cy="258.31" r="1.15"/><circle cx="560.53" cy="257.13" r="1.15"/><circle cx="562.58" cy="256.05" r="1.15"/><circle cx="564.63" cy="255.07" r="1.15"/><circle cx="566.68" cy="254.17" r="1.15"/><circle cx="568.73" cy="253.35" r="1.15"/><circle cx="570.77" cy="252.61" r="1.15"/><circle cx="572.82" cy="251.93" r="1.15"/><circle cx="574.87" cy="251.32" r="1.15"/><circle cx="576.92" cy="250.75" r="1.15"/><circle cx="578.97" cy="250.24" r="1.15"/><circle cx="581.02" cy="249.78" r="1.15"/><circle cx="583.41" cy="249.28" r="1.15"/><circle cx="585.8" cy="248.82" r="1.15"/><circle cx="588.19" cy="248.4" r="1.15"/><circle cx="590.58" cy="248.01" r="1.15"/><circle cx="592.97" cy="247.64" r="1.15"/><circle cx="595.36" cy="247.29" r="1.15"/><circle cx="597.75" cy="246.96" r="1.15"/><circle cx="600.14" cy="246.63" r="1.15"/><circle cx="602.53" cy="246.32" r="1.15"/><circle cx="604.92" cy="246.01" r="1.15"/><circle cx="607.31" cy="245.71" r="1.15"/><circle cx="609.7" cy="245.42" r="1.15"/><circle cx="612.09" cy="245.15" r="1.15"/><circle cx="614.48" cy="244.9" r="1.15"/><circle cx="616.87" cy="244.67" r="1.15"/><circle cx="619.26" cy="244.49" r="1.15"/><circle cx="621.65" cy="244.35" r="1.15"/><circle cx="624.04" cy="244.28" r="1.15"/><circle cx="626.43" cy="244.29" r="1.15"/><circle cx="628.82" cy="244.39" r="1.15"/><circle cx="631.21" cy="244.61" r="1.15"/><circle cx="633.61" cy="244.96" r="1.15"/><circle cx="633.95" cy="344.68" r="1.45"/></g>
<path d="M497.7,350.4 L498.13,350.05 L498.55,349.69 L498.98,349.32 L499.41,348.93 L499.83,348.52 L500.26,348.11 L500.68,347.68 L501.11,347.24 L501.54,346.79 L501.96,346.32 L502.39,345.85 L502.82,345.36 L503.24,344.87 L503.67,344.36 L504.09,343.85 L504.52,343.33 L504.95,342.8 L505.37,342.26 L505.8,341.71 L506.23,341.16 L506.65,340.6 L507.08,340.03 L507.5,339.45 L507.93,338.87 L508.36,338.29 L508.78,337.69 L509.21,337.1 L509.64,336.49 L510.06,335.89 L510.49,335.27 L510.91,334.66 L511.34,334.04 L511.77,333.42 L512.19,332.79 L512.62,332.16 L513.05,331.53 L513.47,330.89 L513.9,330.26 L514.32,329.62 L514.75,328.98 L515.18,328.34 L515.6,327.69 L516.03,327.05 L516.46,326.4 L516.88,325.76 L517.31,325.11 L517.74,324.46 L518.16,323.81 L518.59,323.17 L519.01,322.52 L519.44,321.87 L519.87,321.23 L520.29,320.58 L520.72,319.94 L521.15,319.3 L521.57,318.65 L522,318.01 L522.42,317.38 L522.85,316.74 L523.28,316.1 L523.7,315.47 L524.13,314.84 L524.56,314.21 L524.98,313.58 L525.41,312.96 L525.83,312.34 L526.26,311.72 L526.69,311.11 L527.11,310.49 L527.54,309.88 L527.97,309.28 L528.39,308.67 L528.82,308.07 L529.24,307.48 L529.67,306.89 L530.1,306.3 L530.52,305.71 L530.95,305.13 L531.38,304.55 L531.8,303.98 L532.23,303.41 L532.65,302.84 L533.08,302.28 L533.51,301.72 L533.93,301.17 L534.36,300.62 L534.79,300.08 L535.21,299.54 L535.64,299 L536.07,298.47 L536.49,297.95 L536.92,297.42 L537.34,296.91 L537.77,296.39 L538.2,295.89 L538.62,295.38 L539.05,294.88 L539.48,294.39 L539.9,293.9 L540.33,293.42 L540.75,292.94 L541.18,292.47 L541.61,292 L542.03,291.53 L542.46,291.07 L542.89,290.62 L543.31,290.17 L543.74,289.72 L544.16,289.28 L544.59,288.85 L545.02,288.42 L545.44,287.99 L545.87,287.57 L546.3,287.16 L546.72,286.75 L547.15,286.34 L547.57,285.94 L548,285.54 L548.43,285.15 L548.85,284.77 L549.28,284.39 L549.71,284.01 L550.13,283.64 L550.56,283.27 L550.98,282.91 L551.41,282.55 L551.84,282.2 L552.26,281.85 L552.69,281.51 L553.12,281.17 L553.54,280.84 L553.97,280.51 L554.4,280.18 L554.82,279.86 L555.25,279.54 L555.67,279.23 L556.1,278.93 L556.53,278.62 L556.95,278.33 L557.38,278.03 L557.81,277.74 L558.23,277.46 L558.66,277.17 L559.08,276.9 L559.51,276.62 L559.94,276.35 L560.36,276.09 L560.79,275.83 L561.22,275.57 L561.64,275.32 L562.07,275.07 L562.49,274.82 L562.92,274.58 L563.35,274.34 L563.77,274.11 L564.2,273.88 L564.63,273.65 L565.05,273.43 L565.48,273.21 L565.9,272.99 L566.33,272.78 L566.76,272.57 L567.18,272.36 L567.61,272.16 L568.04,271.96 L568.46,271.76 L568.89,271.57 L569.31,271.38 L569.74,271.19 L570.17,271 L570.59,270.82 L571.02,270.64 L571.45,270.47 L571.87,270.29 L572.3,270.12 L572.73,269.95 L573.15,269.79 L573.58,269.63 L574,269.47 L574.43,269.31 L574.86,269.15 L575.28,269 L575.71,268.85 L576.14,268.7 L576.56,268.56 L576.99,268.41 L577.41,268.27 L577.84,268.13 L578.27,267.99 L578.69,267.86 L579.12,267.72 L579.55,267.59 L579.97,267.46 L580.4,267.34 L580.82,267.21 L581.25,267.09 L581.68,266.96 L582.1,266.84 L582.53,266.72 L582.96,266.61 L583.38,266.49 L583.81,266.38 L584.23,266.26 L584.66,266.15 L585.09,266.04 L585.51,265.93 L585.94,265.83 L586.37,265.72 L586.79,265.61 L587.22,265.51 L587.64,265.41 L588.07,265.31 L588.5,265.21 L588.92,265.11 L589.35,265.01 L589.78,264.91 L590.2,264.81 L590.63,264.72 L591.06,264.62 L591.48,264.53 L591.91,264.44 L592.33,264.35 L592.76,264.26 L593.19,264.16 L593.61,264.08 L594.04,263.99 L594.47,263.9 L594.89,263.81 L595.32,263.72 L595.74,263.64 L596.17,263.55 L596.6,263.47 L597.02,263.38 L597.45,263.3 L597.88,263.21 L598.3,263.13 L598.73,263.05 L599.15,262.96 L599.58,262.88 L600.01,262.8 L600.43,262.72 L600.86,262.64 L601.29,262.56 L601.71,262.48 L602.14,262.4 L602.56,262.32 L602.99,262.24 L603.42,262.16 L603.84,262.08 L604.27,262 L604.7,261.92 L605.12,261.84 L605.55,261.77 L605.97,261.69 L606.4,261.61 L606.83,261.53 L607.25,261.46 L607.68,261.38 L608.11,261.3 L608.53,261.23 L608.96,261.15 L609.39,261.08 L609.81,261 L610.24,260.92 L610.66,260.85 L611.09,260.77 L611.52,260.7 L611.94,260.62 L612.37,260.55 L612.8,260.47 L613.22,260.4 L613.65,260.33 L614.07,260.25 L614.5,260.18 L614.93,260.11 L615.35,260.03 L615.78,259.96 L616.21,259.89 L616.63,259.81 L617.06,259.74 L617.48,259.67 L617.91,259.6 L618.34,259.53 L618.76,259.46 L619.19,259.39 L619.62,259.32 L620.04,259.25 L620.47,259.18 L620.89,259.11 L621.32,259.04 L621.75,258.97 L622.17,258.9 L622.6,258.83 L623.03,258.77 L623.45,258.7 L623.88,258.63 L624.3,258.57 L624.73,258.5 L625.16,258.44 L625.58,258.37 L626.01,258.31 L626.44,258.24 L626.86,258.18 L627.29,258.12 L627.72,258.06 L628.14,258 L628.57,257.94 L628.99,257.88 L629.42,257.82 L629.85,257.76 L630.27,257.7 L630.7,257.65 L631.13,257.59 L631.55,257.53 L631.98,257.48 L632.4,257.43 L632.83,257.37 L633.26,257.32 L633.68,257.27 L634.11,257.22 L634.54,257.17 L634.96,257.12 L635.39,257.08 L635.81,257.03 L636.24,256.98 L636.67,256.94 L637.09,256.9 L637.52,256.85 L637.95,256.81 L638.37,256.77 L638.8,256.73 L639.22,256.7 L639.65,256.66 L640.08,256.62 L640.5,256.59 L640.93,256.55 L641.36,256.52 L641.78,256.49 L642.21,256.46 L642.64,256.43 L643.06,256.41 L643.49,256.38 L643.91,256.35 L644.34,256.33 L644.77,256.31 L645.19,256.29 L645.62,256.27 L646.05,256.25 L646.47,256.23 L646.9,256.21 L647.32,256.2 L647.75,256.19 L648.18,256.17 L648.6,256.16 L649.03,256.15 L649.46,256.14 L649.88,256.14 L650.31,256.13 L650.73,256.13 L651.16,256.12 L651.59,256.12 L652.01,256.12 L652.44,256.12 L652.87,256.12 L653.29,256.13 L653.72,256.13 L654.14,256.13 L654.57,256.14 L655,256.15 L655.42,256.16 L655.85,256.17 L656.28,256.18 L656.7,256.19 L657.13,256.2 L657.55,256.22 L657.98,256.23 L658.41,256.25 L658.83,256.27 L659.26,256.28 L659.69,256.3 L660.11,256.32 L660.54,256.34 L660.97,256.36 L661.39,256.39 L661.82,256.41 L662.24,256.43 L662.67,256.46 L663.1,256.48 L663.52,256.5 L663.95,256.53 L664.38,256.55 L664.8,256.58 L665.23,256.61 L665.65,256.63 L666.08,256.66 L666.51,256.68 L666.93,256.71 L667.36,256.74 L667.79,256.76 L667.79,344.68" fill="none" stroke="#f0853c" stroke-width="1.5"/>
<g fill="#fff" stroke="#f0853c" stroke-width="1.1"><circle cx="497.7" cy="350.4" r="1.15"/><circle cx="499.41" cy="348.93" r="1.15"/><circle cx="501.11" cy="347.24" r="1.15"/><circle cx="502.82" cy="345.36" r="1.15"/><circle cx="504.52" cy="343.33" r="1.15"/><circle cx="506.23" cy="341.16" r="1.15"/><circle cx="507.5" cy="339.45" r="1.15"/><circle cx="508.78" cy="337.69" r="1.15"/><circle cx="510.06" cy="335.89" r="1.15"/><circle cx="511.34" cy="334.04" r="1.15"/><circle cx="512.62" cy="332.16" r="1.15"/><circle cx="513.9" cy="330.26" r="1.15"/><circle cx="515.18" cy="328.34" r="1.15"/><circle cx="516.46" cy="326.4" r="1.15"/><circle cx="517.74" cy="324.46" r="1.15"/><circle cx="519.01" cy="322.52" r="1.15"/><circle cx="520.29" cy="320.58" r="1.15"/><circle cx="521.57" cy="318.65" r="1.15"/><circle cx="522.85" cy="316.74" r="1.15"/><circle cx="524.13" cy="314.84" r="1.15"/><circle cx="525.41" cy="312.96" r="1.15"/><circle cx="526.69" cy="311.11" r="1.15"/><circle cx="527.97" cy="309.28" r="1.15"/><circle cx="529.24" cy="307.48" r="1.15"/><circle cx="530.52" cy="305.71" r="1.15"/><circle cx="531.8" cy="303.98" r="1.15"/><circle cx="533.08" cy="302.28" r="1.15"/><circle cx="534.79" cy="300.08" r="1.15"/><circle cx="536.49" cy="297.95" r="1.15"/><circle cx="538.2" cy="295.89" r="1.15"/><circle cx="539.9" cy="293.9" r="1.15"/><circle cx="541.61" cy="292" r="1.15"/><circle cx="543.31" cy="290.17" r="1.15"/><circle cx="545.02" cy="288.42" r="1.15"/><circle cx="546.72" cy="286.75" r="1.15"/><circle cx="548.43" cy="285.15" r="1.15"/><circle cx="550.13" cy="283.64" r="1.15"/><circle cx="551.84" cy="282.2" r="1.15"/><circle cx="553.54" cy="280.84" r="1.15"/><circle cx="555.25" cy="279.54" r="1.15"/><circle cx="557.38" cy="278.03" r="1.15"/><circle cx="559.51" cy="276.62" r="1.15"/><circle cx="561.64" cy="275.32" r="1.15"/><circle cx="563.77" cy="274.11" r="1.15"/><circle cx="565.9" cy="272.99" r="1.15"/><circle cx="568.04" cy="271.96" r="1.15"/><circle cx="570.17" cy="271" r="1.15"/><circle cx="572.3" cy="270.12" r="1.15"/><circle cx="574.43" cy="269.31" r="1.15"/><circle cx="576.56" cy="268.56" r="1.15"/><circle cx="578.69" cy="267.86" r="1.15"/><circle cx="580.82" cy="267.21" r="1.15"/><circle cx="582.96" cy="266.61" r="1.15"/><circle cx="585.09" cy="266.04" r="1.15"/><circle cx="587.22" cy="265.51" r="1.15"/><circle cx="589.35" cy="265.01" r="1.15"/><circle cx="591.48" cy="264.53" r="1.15"/><circle cx="593.61" cy="264.08" r="1.15"/><circle cx="595.74" cy="263.64" r="1.15"/><circle cx="597.88" cy="263.21" r="1.15"/><circle cx="600.01" cy="262.8" r="1.15"/><circle cx="602.14" cy="262.4" r="1.15"/><circle cx="604.27" cy="262" r="1.15"/><circle cx="606.4" cy="261.61" r="1.15"/><circle cx="608.53" cy="261.23" r="1.15"/><circle cx="610.66" cy="260.85" r="1.15"/><circle cx="612.8" cy="260.47" r="1.15"/><circle cx="614.93" cy="260.11" r="1.15"/><circle cx="617.06" cy="259.74" r="1.15"/><circle cx="619.19" cy="259.39" r="1.15"/><circle cx="621.32" cy="259.04" r="1.15"/><circle cx="623.45" cy="258.7" r="1.15"/><circle cx="625.58" cy="258.37" r="1.15"/><circle cx="627.72" cy="258.06" r="1.15"/><circle cx="629.85" cy="257.76" r="1.15"/><circle cx="631.98" cy="257.48" r="1.15"/><circle cx="634.11" cy="257.22" r="1.15"/><circle cx="636.24" cy="256.98" r="1.15"/><circle cx="638.37" cy="256.77" r="1.15"/><circle cx="640.5" cy="256.59" r="1.15"/><circle cx="642.64" cy="256.43" r="1.15"/><circle cx="644.77" cy="256.31" r="1.15"/><circle cx="646.9" cy="256.21" r="1.15"/><circle cx="649.03" cy="256.15" r="1.15"/><circle cx="651.16" cy="256.12" r="1.15"/><circle cx="653.29" cy="256.13" r="1.15"/><circle cx="655.42" cy="256.16" r="1.15"/><circle cx="657.55" cy="256.22" r="1.15"/><circle cx="659.69" cy="256.3" r="1.15"/><circle cx="661.82" cy="256.41" r="1.15"/><circle cx="663.95" cy="256.53" r="1.15"/><circle cx="666.08" cy="256.66" r="1.15"/><circle cx="667.79" cy="344.68" r="1.45"/></g>
<rect x="497.7" y="207.4" width="178.1" height="143" fill="none" stroke="#111" stroke-width="1.5"/>
<line x1="497.7" y1="350.4" x2="497.7" y2="347.6" stroke="#111" stroke-width="1.1"/>
<line x1="515.51" y1="350.4" x2="515.51" y2="347.6" stroke="#111" stroke-width="1.1"/>
<line x1="533.32" y1="350.4" x2="533.32" y2="347.6" stroke="#111" stroke-width="1.1"/>
<line x1="551.13" y1="350.4" x2="551.13" y2="347.6" stroke="#111" stroke-width="1.1"/>
<line x1="568.94" y1="350.4" x2="568.94" y2="347.6" stroke="#111" stroke-width="1.1"/>
<line x1="586.75" y1="350.4" x2="586.75" y2="347.6" stroke="#111" stroke-width="1.1"/>
<line x1="604.56" y1="350.4" x2="604.56" y2="347.6" stroke="#111" stroke-width="1.1"/>
<line x1="622.37" y1="350.4" x2="622.37" y2="347.6" stroke="#111" stroke-width="1.1"/>
<line x1="640.18" y1="350.4" x2="640.18" y2="347.6" stroke="#111" stroke-width="1.1"/>
<line x1="657.99" y1="350.4" x2="657.99" y2="347.6" stroke="#111" stroke-width="1.1"/>
<line x1="675.8" y1="350.4" x2="675.8" y2="347.6" stroke="#111" stroke-width="1.1"/>
<line x1="506.6" y1="350.4" x2="506.6" y2="348.7" stroke="#111" stroke-width="1.1"/>
<line x1="524.41" y1="350.4" x2="524.41" y2="348.7" stroke="#111" stroke-width="1.1"/>
<line x1="542.23" y1="350.4" x2="542.23" y2="348.7" stroke="#111" stroke-width="1.1"/>
<line x1="560.03" y1="350.4" x2="560.03" y2="348.7" stroke="#111" stroke-width="1.1"/>
<line x1="577.85" y1="350.4" x2="577.85" y2="348.7" stroke="#111" stroke-width="1.1"/>
<line x1="595.65" y1="350.4" x2="595.65" y2="348.7" stroke="#111" stroke-width="1.1"/>
<line x1="613.46" y1="350.4" x2="613.46" y2="348.7" stroke="#111" stroke-width="1.1"/>
<line x1="631.27" y1="350.4" x2="631.27" y2="348.7" stroke="#111" stroke-width="1.1"/>
<line x1="649.08" y1="350.4" x2="649.08" y2="348.7" stroke="#111" stroke-width="1.1"/>
<line x1="666.89" y1="350.4" x2="666.89" y2="348.7" stroke="#111" stroke-width="1.1"/>
<line x1="497.7" y1="350.4" x2="500.5" y2="350.4" stroke="#111" stroke-width="1.1"/>
<line x1="497.7" y1="318.62" x2="500.5" y2="318.62" stroke="#111" stroke-width="1.1"/>
<line x1="497.7" y1="286.84" x2="500.5" y2="286.84" stroke="#111" stroke-width="1.1"/>
<line x1="497.7" y1="255.07" x2="500.5" y2="255.07" stroke="#111" stroke-width="1.1"/>
<line x1="497.7" y1="223.29" x2="500.5" y2="223.29" stroke="#111" stroke-width="1.1"/>
<line x1="497.7" y1="334.51" x2="499.4" y2="334.51" stroke="#111" stroke-width="1.1"/>
<line x1="497.7" y1="302.73" x2="499.4" y2="302.73" stroke="#111" stroke-width="1.1"/>
<line x1="497.7" y1="270.96" x2="499.4" y2="270.96" stroke="#111" stroke-width="1.1"/>
<line x1="497.7" y1="239.18" x2="499.4" y2="239.18" stroke="#111" stroke-width="1.1"/>
<text x="494.4" y="353.6" text-anchor="end" style="font-size:9.5px;font-weight:bold;fill:#111;">0</text>
<text x="494.4" y="321.82" text-anchor="end" style="font-size:9.5px;font-weight:bold;fill:#111;">10</text>
<text x="494.4" y="290.04" text-anchor="end" style="font-size:9.5px;font-weight:bold;fill:#111;">20</text>
<text x="494.4" y="258.27" text-anchor="end" style="font-size:9.5px;font-weight:bold;fill:#111;">30</text>
<text x="494.4" y="226.49" text-anchor="end" style="font-size:9.5px;font-weight:bold;fill:#111;">40</text>
<text x="497.7" y="361.2" text-anchor="middle" style="font-size:9.5px;font-weight:bold;fill:#111;">0</text>
<text x="515.51" y="361.2" text-anchor="middle" style="font-size:9.5px;font-weight:bold;fill:#111;">2</text>
<text x="533.32" y="361.2" text-anchor="middle" style="font-size:9.5px;font-weight:bold;fill:#111;">4</text>
<text x="551.13" y="361.2" text-anchor="middle" style="font-size:9.5px;font-weight:bold;fill:#111;">6</text>
<text x="568.94" y="361.2" text-anchor="middle" style="font-size:9.5px;font-weight:bold;fill:#111;">8</text>
<text x="586.75" y="361.2" text-anchor="middle" style="font-size:9.5px;font-weight:bold;fill:#111;">10</text>
<text x="604.56" y="361.2" text-anchor="middle" style="font-size:9.5px;font-weight:bold;fill:#111;">12</text>
<text x="622.37" y="361.2" text-anchor="middle" style="font-size:9.5px;font-weight:bold;fill:#111;">14</text>
<text x="640.18" y="361.2" text-anchor="middle" style="font-size:9.5px;font-weight:bold;fill:#111;">16</text>
<text x="657.99" y="361.2" text-anchor="middle" style="font-size:9.5px;font-weight:bold;fill:#111;">18</text>
<text x="675.8" y="361.2" text-anchor="middle" style="font-size:9.5px;font-weight:bold;fill:#111;">20</text>
<text x="586.7" y="378.2" text-anchor="middle" style="font-size:9.55px;font-weight:bold;fill:#111;">Strain (%)</text>
<text transform="translate(475.2,278.9) rotate(-90)" text-anchor="middle" style="font-size:9.55px;font-weight:bold;fill:#111;">Stress (MPa)</text>
<line x1="501" y1="214.9" x2="521.4" y2="214.9" stroke="#111" stroke-width="1.5"/>
<circle cx="510.9" cy="214.9" r="1.3" fill="#fff" stroke="#111" stroke-width="0.9"/>
<text x="524" y="217.9" text-anchor="start" style="font-size:8.6px;font-weight:bold;fill:#111;">PM6</text>
<line x1="501" y1="225.97" x2="521.4" y2="225.97" stroke="#7f68ab" stroke-width="1.5"/>
<circle cx="510.9" cy="225.97" r="1.3" fill="#fff" stroke="#7f68ab" stroke-width="0.9"/>
<text x="521.6" y="228.97" text-anchor="start" style="font-size:8.6px;font-weight:bold;fill:#111;">S1</text>
<line x1="501" y1="237.04" x2="521.4" y2="237.04" stroke="#5aae55" stroke-width="1.5"/>
<circle cx="510.9" cy="237.04" r="1.3" fill="#fff" stroke="#5aae55" stroke-width="0.9"/>
<text x="521.6" y="240.04" text-anchor="start" style="font-size:8.6px;font-weight:bold;fill:#111;">S2</text>
<line x1="501" y1="248.11" x2="521.4" y2="248.11" stroke="#f0853c" stroke-width="1.5"/>
<circle cx="510.9" cy="248.11" r="1.3" fill="#fff" stroke="#f0853c" stroke-width="0.9"/>
<text x="521.6" y="251.11" text-anchor="start" style="font-size:8.6px;font-weight:bold;fill:#111;">S3</text>
<defs><radialGradient id="fbg" gradientUnits="userSpaceOnUse" cx="20" cy="100" r="150"><stop offset="0" stop-color="#3468b8"/><stop offset="0.5" stop-color="#315fae"/><stop offset="1" stop-color="#2a4d9d"/></radialGradient><radialGradient id="dome" cx="0.5" cy="0.5" r="0.5"><stop offset="0" stop-color="#5ac8d8"/><stop offset="0.78" stop-color="#52c4e0"/><stop offset="0.88" stop-color="#44ade4"/><stop offset="0.95" stop-color="#3a8ad4" stop-opacity="0.6"/><stop offset="1" stop-color="#3a80cc" stop-opacity="0"/></radialGradient><radialGradient id="ycore" cx="0.5" cy="0.5" r="0.5"><stop offset="0" stop-color="#d8dc40"/><stop offset="0.5" stop-color="#cedc46"/><stop offset="0.75" stop-color="#a0d670" stop-opacity="0.85"/><stop offset="1" stop-color="#70cca8" stop-opacity="0"/></radialGradient><radialGradient id="hcore" cx="0.5" cy="0.5" r="0.5"><stop offset="0" stop-color="#f07020"/><stop offset="0.62" stop-color="#f28a28"/><stop offset="0.82" stop-color="#eccc40" stop-opacity="0.8"/><stop offset="1" stop-color="#d8dc40" stop-opacity="0"/></radialGradient><radialGradient id="fspot" cx="0.5" cy="0.5" r="0.5"><stop offset="0" stop-color="#a0e6f0"/><stop offset="0.5" stop-color="#60ccec"/><stop offset="1" stop-color="#3a8ad0" stop-opacity="0"/></radialGradient><radialGradient id="fhalo" cx="0.5" cy="0.5" r="0.5"><stop offset="0" stop-color="#4a9ae0" stop-opacity="0.45"/><stop offset="0.6" stop-color="#4a9ae0" stop-opacity="0.2"/><stop offset="1" stop-color="#4a9ae0" stop-opacity="0"/></radialGradient><linearGradient id="vfadeg" gradientUnits="userSpaceOnUse" x1="0" x2="0" y1="35" y2="45"><stop offset="0" stop-color="#fff"/><stop offset="1" stop-color="#fff" stop-opacity="0"/></linearGradient><mask id="vfade" maskUnits="userSpaceOnUse" x="-10" y="-10" width="150" height="150"><rect x="-10" y="-10" width="150" height="150" fill="url(#vfadeg)"/></mask><linearGradient id="vfadeg2" gradientUnits="userSpaceOnUse" x1="0" x2="0" y1="32" y2="41"><stop offset="0" stop-color="#fff"/><stop offset="1" stop-color="#fff" stop-opacity="0"/></linearGradient><mask id="vfade2" maskUnits="userSpaceOnUse" x="-10" y="-10" width="150" height="150"><rect x="-10" y="-10" width="150" height="150" fill="url(#vfadeg2)"/></mask><filter id="fb1" x="-20%" y="-20%" width="140%" height="140%"><feGaussianBlur stdDeviation="0.6"/></filter><filter id="fb05"><feGaussianBlur stdDeviation="0.4"/></filter></defs>
<clipPath id="fc0"><rect x="0" y="0" width="126.5" height="125.5"/></clipPath>
<g transform="translate(37.4,399.5)">
<g clip-path="url(#fc0)">
<rect x="0" y="0" width="126.5" height="125.5" fill="url(#fbg)"/>
<ellipse cx="25.3" cy="40" rx="62" ry="30" fill="url(#fhalo)"/>
<ellipse cx="25.3" cy="39.5" rx="43" ry="27" fill="url(#dome)" mask="url(#vfade)"/>
<ellipse cx="25.3" cy="26.5" rx="30" ry="7.5" fill="url(#ycore)" opacity="0.9"/>
<g filter="url(#fb1)">
<path d="M4.7,126 C4.7,119.66 14.48,96.3 25.3,96.3 C36.12,96.3 45.9,119.66 45.9,126 Z" fill="#4a9ce0" opacity="0.7"/>
<path d="M6.5,126 C6.5,120.02 15.43,98.1 25.3,98.1 C35.17,98.1 44.1,120.02 44.1,126 Z" fill="#3cc2e6"/>
<path d="M7.9,126 C7.9,120.3 16.16,99.5 25.3,99.5 C34.44,99.5 42.7,120.3 42.7,126 Z" fill="#ece24c"/>
<path d="M9,126 C9,120.52 16.74,100.6 25.3,100.6 C33.86,100.6 41.6,120.52 41.6,126 Z" fill="#f2d040"/>
<ellipse cx="11" cy="125.5" rx="2.3" ry="10" fill="#e2301e"/>
<ellipse cx="39.6" cy="125.5" rx="2.3" ry="10" fill="#e2301e"/>
<ellipse cx="25.3" cy="125.5" rx="13.3" ry="17" fill="#f0d448"/>
<ellipse cx="25.3" cy="125.5" rx="12.2" ry="15.6" fill="#44c6e6"/>
<ellipse cx="25.3" cy="125.5" rx="10.2" ry="13.5" fill="#3a84cc"/>
</g>
<g filter="url(#fb05)">
<path d="M17.5,109 C17.5,103.8 20.62,101.1 25.3,101.1 C29.98,101.1 33.1,103.8 33.1,109 C33.1,111.6 30.92,113.6 28.3,113.6 L22.3,113.6 C19.68,113.6 17.5,111.6 17.5,109 Z" fill="none" stroke="#f4b040" stroke-width="2.2"/>
<path d="M17.5,109 C17.5,103.8 20.62,101.1 25.3,101.1 C29.98,101.1 33.1,103.8 33.1,109 C33.1,111.6 30.92,113.6 28.3,113.6 L22.3,113.6 C19.68,113.6 17.5,111.6 17.5,109 Z" fill="#e4321e"/>
<path d="M17.5,109 C17.5,103.8 20.62,101.1 25.3,101.1 C29.98,101.1 33.1,103.8 33.1,109 C33.1,111.6 30.92,113.6 28.3,113.6 L22.3,113.6 C19.68,113.6 17.5,111.6 17.5,109 Z" fill="#8a1616" transform="translate(25.3,108.4) scale(0.85) translate(-25.3,-108.4)"/>
</g>
<g fill="#3050b0" filter="url(#fb05)">
<rect x="22.6" y="113.6" width="5.4" height="7.2" />
<ellipse cx="25.3" cy="125.5" rx="6.6" ry="5.9"/>
</g>
<path d="M24.82,114.2 L24.71,111.27 L24.58,108.34 L24.43,105.4 L24.25,102.47 L24.05,99.54 L23.82,96.6 L23.57,93.67 L23.29,90.74 L22.99,87.8 L22.66,84.87 L22.32,81.94 L21.94,79 L21.54,76.07 L21.12,73.14 L20.67,70.2 L20.2,67.27 L19.71,64.33 L19.19,61.4 L18.64,58.47 L18.08,55.53 L17.48,52.6 L16.87,49.67 L16.22,46.73 L15.56,43.8 L14.87,40.87 L14.15,37.93 L13.41,35 L12.65,32.07 L11.86,29.13 L11.05,26.2 L10.21,23.26 L9.35,20.33 L8.47,17.4 L7.56,14.46 L6.63,11.53 L5.67,8.6 L4.69,5.66 L3.68,2.73 L2.65,-0.2 L1.59,-3.14 L49.01,-3.14 L47.95,-0.2 L46.92,2.73 L45.91,5.66 L44.93,8.6 L43.97,11.53 L43.04,14.46 L42.13,17.4 L41.25,20.33 L40.39,23.26 L39.55,26.2 L38.74,29.13 L37.95,32.07 L37.19,35 L36.45,37.93 L35.73,40.87 L35.04,43.8 L34.38,46.73 L33.73,49.67 L33.12,52.6 L32.52,55.53 L31.96,58.47 L31.41,61.4 L30.89,64.33 L30.4,67.27 L29.93,70.2 L29.48,73.14 L29.06,76.07 L28.66,79 L28.28,81.94 L27.94,84.87 L27.61,87.8 L27.31,90.74 L27.03,93.67 L26.78,96.6 L26.55,99.54 L26.35,102.47 L26.17,105.4 L26.02,108.34 L25.89,111.27 L25.78,114.2Z" fill="#343a6c"/>
</g>
<text x="124.4" y="14.0" text-anchor="end" style="font-size:12px;font-weight:bold;fill:#fff">PM6</text>
</g>
<line x1="37.4" y1="399.5" x2="37.4" y2="525" stroke="#1a1a2a" stroke-width="1"/>
<line x1="36.9" y1="525.2" x2="163.9" y2="525.2" stroke="#111" stroke-width="1.3"/>
<line x1="37" y1="399.8" x2="163.9" y2="399.8" stroke="#55506a" stroke-width="0.8"/>
<line x1="35.5" y1="525" x2="37.4" y2="525" stroke="#111" stroke-width="1.1"/>
<text x="35.2" y="528.2" text-anchor="end" style="font-size:9.1px;font-weight:bold;fill:#111;">0.0</text>
<line x1="35.5" y1="493.62" x2="37.4" y2="493.62" stroke="#111" stroke-width="1.1"/>
<text x="35.2" y="496.82" text-anchor="end" style="font-size:9.1px;font-weight:bold;fill:#111;">0.5</text>
<line x1="35.5" y1="462.25" x2="37.4" y2="462.25" stroke="#111" stroke-width="1.1"/>
<text x="35.2" y="465.45" text-anchor="end" style="font-size:9.1px;font-weight:bold;fill:#111;">1.0</text>
<line x1="35.5" y1="430.88" x2="37.4" y2="430.88" stroke="#111" stroke-width="1.1"/>
<text x="35.2" y="434.07" text-anchor="end" style="font-size:9.1px;font-weight:bold;fill:#111;">1.5</text>
<line x1="35.5" y1="399.5" x2="37.4" y2="399.5" stroke="#111" stroke-width="1.1"/>
<text x="35.2" y="402.7" text-anchor="end" style="font-size:9.1px;font-weight:bold;fill:#111;">2.0</text>
<line x1="37.4" y1="525" x2="37.4" y2="526.6" stroke="#111" stroke-width="1.1"/>
<text x="38" y="535.6" text-anchor="middle" style="font-size:9.1px;font-weight:bold;fill:#111;">−0.5</text>
<line x1="62.7" y1="525" x2="62.7" y2="526.6" stroke="#111" stroke-width="1.1"/>
<text x="62.7" y="535.6" text-anchor="middle" style="font-size:9.1px;font-weight:bold;fill:#111;">0.0</text>
<line x1="88" y1="525" x2="88" y2="526.6" stroke="#111" stroke-width="1.1"/>
<text x="88" y="535.6" text-anchor="middle" style="font-size:9.1px;font-weight:bold;fill:#111;">0.5</text>
<line x1="113.3" y1="525" x2="113.3" y2="526.6" stroke="#111" stroke-width="1.1"/>
<text x="113.3" y="535.6" text-anchor="middle" style="font-size:9.1px;font-weight:bold;fill:#111;">1.0</text>
<line x1="138.6" y1="525" x2="138.6" y2="526.6" stroke="#111" stroke-width="1.1"/>
<text x="138.6" y="535.6" text-anchor="middle" style="font-size:9.1px;font-weight:bold;fill:#111;">1.5</text>
<line x1="163.9" y1="525" x2="163.9" y2="526.6" stroke="#111" stroke-width="1.1"/>
<text x="163.9" y="535.6" text-anchor="middle" style="font-size:9.1px;font-weight:bold;fill:#111;">2.0</text>
<text x="100.7" y="550.6" text-anchor="middle" style="font-size:9.3px;font-weight:bold;fill:#111;"><tspan style="font-style:italic">q</tspan><tspan dy="1.8" style="font-size:6.4px">xy</tspan><tspan dy="-1.8"> (Å</tspan><tspan dy="-3.4" style="font-size:6.4px">−1</tspan><tspan dy="3.4">)</tspan></text>
<text transform="translate(15.1,462.5) rotate(-90)" text-anchor="middle" style="font-size:9.3px;font-weight:bold;fill:#111;"><tspan style="font-style:italic">q</tspan><tspan dy="1.8" style="font-size:6.4px">z</tspan><tspan dy="-1.8"> (Å</tspan><tspan dy="-3.4" style="font-size:6.4px">−1</tspan><tspan dy="3.4">)</tspan></text>
<clipPath id="fc1"><rect x="0" y="0" width="126.5" height="125.5"/></clipPath>
<g transform="translate(207.8,399.5)">
<g clip-path="url(#fc1)">
<rect x="0" y="0" width="126.5" height="125.5" fill="url(#fbg)"/>
<ellipse cx="25.3" cy="40" rx="62" ry="30" fill="url(#fhalo)"/>
<ellipse cx="25.3" cy="39.5" rx="48" ry="27" fill="url(#dome)" mask="url(#vfade)"/>
<ellipse cx="25.3" cy="26.5" rx="37" ry="8.2" fill="url(#ycore)" opacity="1"/>
<ellipse cx="25.3" cy="26.4" rx="23" ry="5.5" fill="url(#hcore)"/>
<g filter="url(#fb1)">
<path d="M4.7,126 C4.7,119.66 14.48,96.3 25.3,96.3 C36.12,96.3 45.9,119.66 45.9,126 Z" fill="#4a9ce0" opacity="0.7"/>
<path d="M6.5,126 C6.5,120.02 15.43,98.1 25.3,98.1 C35.17,98.1 44.1,120.02 44.1,126 Z" fill="#3cc2e6"/>
<path d="M7.9,126 C7.9,120.3 16.16,99.5 25.3,99.5 C34.44,99.5 42.7,120.3 42.7,126 Z" fill="#ece24c"/>
<path d="M9,126 C9,120.52 16.74,100.6 25.3,100.6 C33.86,100.6 41.6,120.52 41.6,126 Z" fill="#f2d040"/>
<path d="M9.2,126 C9.2,120.58 16.85,100.9 25.3,100.9 C33.75,100.9 41.4,120.58 41.4,126 Z" fill="#e2301e" opacity="0.9"/>
<ellipse cx="11" cy="125.5" rx="2.3" ry="10" fill="#e2301e"/>
<ellipse cx="39.6" cy="125.5" rx="2.3" ry="10" fill="#e2301e"/>
<ellipse cx="10.7" cy="125.5" rx="1.3" ry="6.5" fill="#8a1616"/>
<ellipse cx="39.9" cy="125.5" rx="1.3" ry="6.5" fill="#8a1616"/>
<ellipse cx="25.3" cy="125.5" rx="13.3" ry="17" fill="#f0d448"/>
<ellipse cx="25.3" cy="125.5" rx="12.2" ry="15.6" fill="#44c6e6"/>
<ellipse cx="25.3" cy="125.5" rx="10.2" ry="13.5" fill="#3a84cc"/>
</g>
<g filter="url(#fb05)">
<path d="M17.7,109 C17.7,103.8 20.74,101.1 25.3,101.1 C29.86,101.1 32.9,103.8 32.9,109 C32.9,111.6 30.77,113.6 28.3,113.6 L22.3,113.6 C19.83,113.6 17.7,111.6 17.7,109 Z" fill="none" stroke="#f4b040" stroke-width="2.2"/>
<path d="M17.7,109 C17.7,103.8 20.74,101.1 25.3,101.1 C29.86,101.1 32.9,103.8 32.9,109 C32.9,111.6 30.77,113.6 28.3,113.6 L22.3,113.6 C19.83,113.6 17.7,111.6 17.7,109 Z" fill="#e4321e"/>
<path d="M17.7,109 C17.7,103.8 20.74,101.1 25.3,101.1 C29.86,101.1 32.9,103.8 32.9,109 C32.9,111.6 30.77,113.6 28.3,113.6 L22.3,113.6 C19.83,113.6 17.7,111.6 17.7,109 Z" fill="#8a1616" transform="translate(25.3,108.4) scale(0.85) translate(-25.3,-108.4)"/>
</g>
<g fill="#3050b0" filter="url(#fb05)">
<rect x="22.6" y="113.6" width="5.4" height="7.2" />
<ellipse cx="25.3" cy="125.5" rx="6.6" ry="5.9"/>
</g>
<path d="M24.82,114.2 L24.71,111.27 L24.58,108.34 L24.43,105.4 L24.25,102.47 L24.05,99.54 L23.82,96.6 L23.57,93.67 L23.29,90.74 L22.99,87.8 L22.66,84.87 L22.32,81.94 L21.94,79 L21.54,76.07 L21.12,73.14 L20.67,70.2 L20.2,67.27 L19.71,64.33 L19.19,61.4 L18.64,58.47 L18.08,55.53 L17.48,52.6 L16.87,49.67 L16.22,46.73 L15.56,43.8 L14.87,40.87 L14.15,37.93 L13.41,35 L12.65,32.07 L11.86,29.13 L11.05,26.2 L10.21,23.26 L9.35,20.33 L8.47,17.4 L7.56,14.46 L6.63,11.53 L5.67,8.6 L4.69,5.66 L3.68,2.73 L2.65,-0.2 L1.59,-3.14 L49.01,-3.14 L47.95,-0.2 L46.92,2.73 L45.91,5.66 L44.93,8.6 L43.97,11.53 L43.04,14.46 L42.13,17.4 L41.25,20.33 L40.39,23.26 L39.55,26.2 L38.74,29.13 L37.95,32.07 L37.19,35 L36.45,37.93 L35.73,40.87 L35.04,43.8 L34.38,46.73 L33.73,49.67 L33.12,52.6 L32.52,55.53 L31.96,58.47 L31.41,61.4 L30.89,64.33 L30.4,67.27 L29.93,70.2 L29.48,73.14 L29.06,76.07 L28.66,79 L28.28,81.94 L27.94,84.87 L27.61,87.8 L27.31,90.74 L27.03,93.67 L26.78,96.6 L26.55,99.54 L26.35,102.47 L26.17,105.4 L26.02,108.34 L25.89,111.27 L25.78,114.2Z" fill="#343a6c"/>
</g>
<text x="123.2" y="14.0" text-anchor="end" style="font-size:12px;font-weight:bold;fill:#fff">S1</text>
</g>
<line x1="207.8" y1="399.5" x2="207.8" y2="525" stroke="#1a1a2a" stroke-width="1"/>
<line x1="207.3" y1="525.2" x2="334.3" y2="525.2" stroke="#111" stroke-width="1.3"/>
<line x1="207.4" y1="399.8" x2="334.3" y2="399.8" stroke="#55506a" stroke-width="0.8"/>
<line x1="205.9" y1="525" x2="207.8" y2="525" stroke="#111" stroke-width="1.1"/>
<text x="205.6" y="528.2" text-anchor="end" style="font-size:9.1px;font-weight:bold;fill:#111;">0.0</text>
<line x1="205.9" y1="493.62" x2="207.8" y2="493.62" stroke="#111" stroke-width="1.1"/>
<text x="205.6" y="496.82" text-anchor="end" style="font-size:9.1px;font-weight:bold;fill:#111;">0.5</text>
<line x1="205.9" y1="462.25" x2="207.8" y2="462.25" stroke="#111" stroke-width="1.1"/>
<text x="205.6" y="465.45" text-anchor="end" style="font-size:9.1px;font-weight:bold;fill:#111;">1.0</text>
<line x1="205.9" y1="430.88" x2="207.8" y2="430.88" stroke="#111" stroke-width="1.1"/>
<text x="205.6" y="434.07" text-anchor="end" style="font-size:9.1px;font-weight:bold;fill:#111;">1.5</text>
<line x1="205.9" y1="399.5" x2="207.8" y2="399.5" stroke="#111" stroke-width="1.1"/>
<text x="205.6" y="402.7" text-anchor="end" style="font-size:9.1px;font-weight:bold;fill:#111;">2.0</text>
<line x1="207.8" y1="525" x2="207.8" y2="526.6" stroke="#111" stroke-width="1.1"/>
<text x="208.4" y="535.6" text-anchor="middle" style="font-size:9.1px;font-weight:bold;fill:#111;">−0.5</text>
<line x1="233.1" y1="525" x2="233.1" y2="526.6" stroke="#111" stroke-width="1.1"/>
<text x="233.1" y="535.6" text-anchor="middle" style="font-size:9.1px;font-weight:bold;fill:#111;">0.0</text>
<line x1="258.4" y1="525" x2="258.4" y2="526.6" stroke="#111" stroke-width="1.1"/>
<text x="258.4" y="535.6" text-anchor="middle" style="font-size:9.1px;font-weight:bold;fill:#111;">0.5</text>
<line x1="283.7" y1="525" x2="283.7" y2="526.6" stroke="#111" stroke-width="1.1"/>
<text x="283.7" y="535.6" text-anchor="middle" style="font-size:9.1px;font-weight:bold;fill:#111;">1.0</text>
<line x1="309" y1="525" x2="309" y2="526.6" stroke="#111" stroke-width="1.1"/>
<text x="309" y="535.6" text-anchor="middle" style="font-size:9.1px;font-weight:bold;fill:#111;">1.5</text>
<line x1="334.3" y1="525" x2="334.3" y2="526.6" stroke="#111" stroke-width="1.1"/>
<text x="334.3" y="535.6" text-anchor="middle" style="font-size:9.1px;font-weight:bold;fill:#111;">2.0</text>
<text x="271.1" y="550.6" text-anchor="middle" style="font-size:9.3px;font-weight:bold;fill:#111;"><tspan style="font-style:italic">q</tspan><tspan dy="1.8" style="font-size:6.4px">xy</tspan><tspan dy="-1.8"> (Å</tspan><tspan dy="-3.4" style="font-size:6.4px">−1</tspan><tspan dy="3.4">)</tspan></text>
<text transform="translate(185.5,462.5) rotate(-90)" text-anchor="middle" style="font-size:9.3px;font-weight:bold;fill:#111;"><tspan style="font-style:italic">q</tspan><tspan dy="1.8" style="font-size:6.4px">z</tspan><tspan dy="-1.8"> (Å</tspan><tspan dy="-3.4" style="font-size:6.4px">−1</tspan><tspan dy="3.4">)</tspan></text>
<clipPath id="fc2"><rect x="0" y="0" width="126.5" height="125.5"/></clipPath>
<g transform="translate(378.2,399.5)">
<g clip-path="url(#fc2)">
<rect x="0" y="0" width="126.5" height="125.5" fill="url(#fbg)"/>
<ellipse cx="25.3" cy="40" rx="62" ry="30" fill="url(#fhalo)"/>
<ellipse cx="25.3" cy="39.5" rx="42" ry="27" fill="url(#dome)" mask="url(#vfade2)"/>
<ellipse cx="25.3" cy="26.5" rx="26" ry="6.5" fill="url(#ycore)" opacity="0.8"/>
<ellipse cx="25.3" cy="71.0" rx="10.5" ry="5" fill="url(#fspot)"/>
<g filter="url(#fb1)">
<path d="M4.7,126 C4.7,119.66 14.48,96.3 25.3,96.3 C36.12,96.3 45.9,119.66 45.9,126 Z" fill="#4a9ce0" opacity="0.7"/>
<path d="M6.5,126 C6.5,120.02 15.43,98.1 25.3,98.1 C35.17,98.1 44.1,120.02 44.1,126 Z" fill="#3cc2e6"/>
<path d="M7.9,126 C7.9,120.3 16.16,99.5 25.3,99.5 C34.44,99.5 42.7,120.3 42.7,126 Z" fill="#ece24c"/>
<path d="M9,126 C9,120.52 16.74,100.6 25.3,100.6 C33.86,100.6 41.6,120.52 41.6,126 Z" fill="#f2d040"/>
<path d="M9.2,126 C9.2,120.58 16.85,100.9 25.3,100.9 C33.75,100.9 41.4,120.58 41.4,126 Z" fill="#e2301e" opacity="1"/>
<ellipse cx="11" cy="125.5" rx="2.3" ry="10" fill="#e2301e"/>
<ellipse cx="39.6" cy="125.5" rx="2.3" ry="10" fill="#e2301e"/>
<ellipse cx="25.3" cy="125.5" rx="13.3" ry="17" fill="#f0d448"/>
<ellipse cx="25.3" cy="125.5" rx="12.2" ry="15.6" fill="#44c6e6"/>
<ellipse cx="25.3" cy="125.5" rx="10.2" ry="13.5" fill="#3a84cc"/>
</g>
<g filter="url(#fb05)">
<path d="M16.7,109 C16.7,103.8 20.14,101.1 25.3,101.1 C30.46,101.1 33.9,103.8 33.9,109 C33.9,111.6 31.49,113.6 28.3,113.6 L22.3,113.6 C19.11,113.6 16.7,111.6 16.7,109 Z" fill="none" stroke="#f4b040" stroke-width="2.2"/>
<path d="M16.7,109 C16.7,103.8 20.14,101.1 25.3,101.1 C30.46,101.1 33.9,103.8 33.9,109 C33.9,111.6 31.49,113.6 28.3,113.6 L22.3,113.6 C19.11,113.6 16.7,111.6 16.7,109 Z" fill="#e4321e"/>
<path d="M16.7,109 C16.7,103.8 20.14,101.1 25.3,101.1 C30.46,101.1 33.9,103.8 33.9,109 C33.9,111.6 31.49,113.6 28.3,113.6 L22.3,113.6 C19.11,113.6 16.7,111.6 16.7,109 Z" fill="#8a1616" transform="translate(25.3,108.4) scale(0.85) translate(-25.3,-108.4)"/>
</g>
<g fill="#3050b0" filter="url(#fb05)">
<rect x="22.6" y="113.6" width="5.4" height="7.2" />
<ellipse cx="25.3" cy="125.5" rx="6.6" ry="5.9"/>
</g>
<path d="M24.82,114.2 L24.71,111.27 L24.58,108.34 L24.43,105.4 L24.25,102.47 L24.05,99.54 L23.82,96.6 L23.57,93.67 L23.29,90.74 L22.99,87.8 L22.66,84.87 L22.32,81.94 L21.94,79 L21.54,76.07 L21.12,73.14 L20.67,70.2 L20.2,67.27 L19.71,64.33 L19.19,61.4 L18.64,58.47 L18.08,55.53 L17.48,52.6 L16.87,49.67 L16.22,46.73 L15.56,43.8 L14.87,40.87 L14.15,37.93 L13.41,35 L12.65,32.07 L11.86,29.13 L11.05,26.2 L10.21,23.26 L9.35,20.33 L8.47,17.4 L7.56,14.46 L6.63,11.53 L5.67,8.6 L4.69,5.66 L3.68,2.73 L2.65,-0.2 L1.59,-3.14 L49.01,-3.14 L47.95,-0.2 L46.92,2.73 L45.91,5.66 L44.93,8.6 L43.97,11.53 L43.04,14.46 L42.13,17.4 L41.25,20.33 L40.39,23.26 L39.55,26.2 L38.74,29.13 L37.95,32.07 L37.19,35 L36.45,37.93 L35.73,40.87 L35.04,43.8 L34.38,46.73 L33.73,49.67 L33.12,52.6 L32.52,55.53 L31.96,58.47 L31.41,61.4 L30.89,64.33 L30.4,67.27 L29.93,70.2 L29.48,73.14 L29.06,76.07 L28.66,79 L28.28,81.94 L27.94,84.87 L27.61,87.8 L27.31,90.74 L27.03,93.67 L26.78,96.6 L26.55,99.54 L26.35,102.47 L26.17,105.4 L26.02,108.34 L25.89,111.27 L25.78,114.2Z" fill="#343a6c"/>
</g>
<text x="123.2" y="14.0" text-anchor="end" style="font-size:12px;font-weight:bold;fill:#fff">S2</text>
</g>
<line x1="378.2" y1="399.5" x2="378.2" y2="525" stroke="#1a1a2a" stroke-width="1"/>
<line x1="377.7" y1="525.2" x2="504.7" y2="525.2" stroke="#111" stroke-width="1.3"/>
<line x1="377.8" y1="399.8" x2="504.7" y2="399.8" stroke="#55506a" stroke-width="0.8"/>
<line x1="376.3" y1="525" x2="378.2" y2="525" stroke="#111" stroke-width="1.1"/>
<text x="376" y="528.2" text-anchor="end" style="font-size:9.1px;font-weight:bold;fill:#111;">0.0</text>
<line x1="376.3" y1="493.62" x2="378.2" y2="493.62" stroke="#111" stroke-width="1.1"/>
<text x="376" y="496.82" text-anchor="end" style="font-size:9.1px;font-weight:bold;fill:#111;">0.5</text>
<line x1="376.3" y1="462.25" x2="378.2" y2="462.25" stroke="#111" stroke-width="1.1"/>
<text x="376" y="465.45" text-anchor="end" style="font-size:9.1px;font-weight:bold;fill:#111;">1.0</text>
<line x1="376.3" y1="430.88" x2="378.2" y2="430.88" stroke="#111" stroke-width="1.1"/>
<text x="376" y="434.07" text-anchor="end" style="font-size:9.1px;font-weight:bold;fill:#111;">1.5</text>
<line x1="376.3" y1="399.5" x2="378.2" y2="399.5" stroke="#111" stroke-width="1.1"/>
<text x="376" y="402.7" text-anchor="end" style="font-size:9.1px;font-weight:bold;fill:#111;">2.0</text>
<line x1="378.2" y1="525" x2="378.2" y2="526.6" stroke="#111" stroke-width="1.1"/>
<text x="378.8" y="535.6" text-anchor="middle" style="font-size:9.1px;font-weight:bold;fill:#111;">−0.5</text>
<line x1="403.5" y1="525" x2="403.5" y2="526.6" stroke="#111" stroke-width="1.1"/>
<text x="403.5" y="535.6" text-anchor="middle" style="font-size:9.1px;font-weight:bold;fill:#111;">0.0</text>
<line x1="428.8" y1="525" x2="428.8" y2="526.6" stroke="#111" stroke-width="1.1"/>
<text x="428.8" y="535.6" text-anchor="middle" style="font-size:9.1px;font-weight:bold;fill:#111;">0.5</text>
<line x1="454.1" y1="525" x2="454.1" y2="526.6" stroke="#111" stroke-width="1.1"/>
<text x="454.1" y="535.6" text-anchor="middle" style="font-size:9.1px;font-weight:bold;fill:#111;">1.0</text>
<line x1="479.4" y1="525" x2="479.4" y2="526.6" stroke="#111" stroke-width="1.1"/>
<text x="479.4" y="535.6" text-anchor="middle" style="font-size:9.1px;font-weight:bold;fill:#111;">1.5</text>
<line x1="504.7" y1="525" x2="504.7" y2="526.6" stroke="#111" stroke-width="1.1"/>
<text x="504.7" y="535.6" text-anchor="middle" style="font-size:9.1px;font-weight:bold;fill:#111;">2.0</text>
<text x="441.5" y="550.6" text-anchor="middle" style="font-size:9.3px;font-weight:bold;fill:#111;"><tspan style="font-style:italic">q</tspan><tspan dy="1.8" style="font-size:6.4px">xy</tspan><tspan dy="-1.8"> (Å</tspan><tspan dy="-3.4" style="font-size:6.4px">−1</tspan><tspan dy="3.4">)</tspan></text>
<text transform="translate(355.9,462.5) rotate(-90)" text-anchor="middle" style="font-size:9.3px;font-weight:bold;fill:#111;"><tspan style="font-style:italic">q</tspan><tspan dy="1.8" style="font-size:6.4px">z</tspan><tspan dy="-1.8"> (Å</tspan><tspan dy="-3.4" style="font-size:6.4px">−1</tspan><tspan dy="3.4">)</tspan></text>
<clipPath id="fc3"><rect x="0" y="0" width="126.5" height="125.5"/></clipPath>
<g transform="translate(548.6,399.5)">
<g clip-path="url(#fc3)">
<rect x="0" y="0" width="126.5" height="125.5" fill="url(#fbg)"/>
<ellipse cx="25.3" cy="40" rx="62" ry="30" fill="url(#fhalo)"/>
<ellipse cx="25.3" cy="39.5" rx="47" ry="27" fill="url(#dome)" mask="url(#vfade)"/>
<ellipse cx="25.3" cy="26.5" rx="29" ry="7" fill="url(#ycore)" opacity="1"/>
<g filter="url(#fb1)">
<path d="M4.7,126 C4.7,119.66 14.48,96.3 25.3,96.3 C36.12,96.3 45.9,119.66 45.9,126 Z" fill="#4a9ce0" opacity="0.7"/>
<path d="M6.5,126 C6.5,120.02 15.43,98.1 25.3,98.1 C35.17,98.1 44.1,120.02 44.1,126 Z" fill="#3cc2e6"/>
<path d="M7.9,126 C7.9,120.3 16.16,99.5 25.3,99.5 C34.44,99.5 42.7,120.3 42.7,126 Z" fill="#ece24c"/>
<path d="M9,126 C9,120.52 16.74,100.6 25.3,100.6 C33.86,100.6 41.6,120.52 41.6,126 Z" fill="#f2d040"/>
<path d="M9.2,126 C9.2,120.58 16.85,100.9 25.3,100.9 C33.75,100.9 41.4,120.58 41.4,126 Z" fill="#e2301e" opacity="0.35"/>
<ellipse cx="11" cy="125.5" rx="2.5" ry="10" fill="#e2301e"/>
<ellipse cx="39.6" cy="125.5" rx="2.5" ry="10" fill="#e2301e"/>
<ellipse cx="25.3" cy="125.5" rx="13.3" ry="17" fill="#f0d448"/>
<ellipse cx="25.3" cy="125.5" rx="12.2" ry="15.6" fill="#44c6e6"/>
<ellipse cx="25.3" cy="125.5" rx="10.2" ry="13.5" fill="#3a84cc"/>
</g>
<g filter="url(#fb05)">
<path d="M17.3,109 C17.3,103.8 20.5,101.1 25.3,101.1 C30.1,101.1 33.3,103.8 33.3,109 C33.3,111.6 31.06,113.6 28.3,113.6 L22.3,113.6 C19.54,113.6 17.3,111.6 17.3,109 Z" fill="none" stroke="#f4b040" stroke-width="2.2"/>
<path d="M17.3,109 C17.3,103.8 20.5,101.1 25.3,101.1 C30.1,101.1 33.3,103.8 33.3,109 C33.3,111.6 31.06,113.6 28.3,113.6 L22.3,113.6 C19.54,113.6 17.3,111.6 17.3,109 Z" fill="#e4321e"/>
<path d="M17.3,109 C17.3,103.8 20.5,101.1 25.3,101.1 C30.1,101.1 33.3,103.8 33.3,109 C33.3,111.6 31.06,113.6 28.3,113.6 L22.3,113.6 C19.54,113.6 17.3,111.6 17.3,109 Z" fill="#8a1616" transform="translate(25.3,108.4) scale(0.85) translate(-25.3,-108.4)"/>
</g>
<g fill="#3050b0" filter="url(#fb05)">
<rect x="22.6" y="113.6" width="5.4" height="7.2" />
<ellipse cx="25.3" cy="125.5" rx="6.6" ry="5.9"/>
</g>
<path d="M24.82,114.2 L24.71,111.27 L24.58,108.34 L24.43,105.4 L24.25,102.47 L24.05,99.54 L23.82,96.6 L23.57,93.67 L23.29,90.74 L22.99,87.8 L22.66,84.87 L22.32,81.94 L21.94,79 L21.54,76.07 L21.12,73.14 L20.67,70.2 L20.2,67.27 L19.71,64.33 L19.19,61.4 L18.64,58.47 L18.08,55.53 L17.48,52.6 L16.87,49.67 L16.22,46.73 L15.56,43.8 L14.87,40.87 L14.15,37.93 L13.41,35 L12.65,32.07 L11.86,29.13 L11.05,26.2 L10.21,23.26 L9.35,20.33 L8.47,17.4 L7.56,14.46 L6.63,11.53 L5.67,8.6 L4.69,5.66 L3.68,2.73 L2.65,-0.2 L1.59,-3.14 L49.01,-3.14 L47.95,-0.2 L46.92,2.73 L45.91,5.66 L44.93,8.6 L43.97,11.53 L43.04,14.46 L42.13,17.4 L41.25,20.33 L40.39,23.26 L39.55,26.2 L38.74,29.13 L37.95,32.07 L37.19,35 L36.45,37.93 L35.73,40.87 L35.04,43.8 L34.38,46.73 L33.73,49.67 L33.12,52.6 L32.52,55.53 L31.96,58.47 L31.41,61.4 L30.89,64.33 L30.4,67.27 L29.93,70.2 L29.48,73.14 L29.06,76.07 L28.66,79 L28.28,81.94 L27.94,84.87 L27.61,87.8 L27.31,90.74 L27.03,93.67 L26.78,96.6 L26.55,99.54 L26.35,102.47 L26.17,105.4 L26.02,108.34 L25.89,111.27 L25.78,114.2Z" fill="#343a6c"/>
</g>
<text x="123.2" y="14.0" text-anchor="end" style="font-size:12px;font-weight:bold;fill:#fff">S3</text>
</g>
<line x1="548.6" y1="399.5" x2="548.6" y2="525" stroke="#1a1a2a" stroke-width="1"/>
<line x1="548.1" y1="525.2" x2="675.1" y2="525.2" stroke="#111" stroke-width="1.3"/>
<line x1="548.2" y1="399.8" x2="675.1" y2="399.8" stroke="#55506a" stroke-width="0.8"/>
<line x1="546.7" y1="525" x2="548.6" y2="525" stroke="#111" stroke-width="1.1"/>
<text x="546.4" y="528.2" text-anchor="end" style="font-size:9.1px;font-weight:bold;fill:#111;">0.0</text>
<line x1="546.7" y1="493.62" x2="548.6" y2="493.62" stroke="#111" stroke-width="1.1"/>
<text x="546.4" y="496.82" text-anchor="end" style="font-size:9.1px;font-weight:bold;fill:#111;">0.5</text>
<line x1="546.7" y1="462.25" x2="548.6" y2="462.25" stroke="#111" stroke-width="1.1"/>
<text x="546.4" y="465.45" text-anchor="end" style="font-size:9.1px;font-weight:bold;fill:#111;">1.0</text>
<line x1="546.7" y1="430.88" x2="548.6" y2="430.88" stroke="#111" stroke-width="1.1"/>
<text x="546.4" y="434.07" text-anchor="end" style="font-size:9.1px;font-weight:bold;fill:#111;">1.5</text>
<line x1="546.7" y1="399.5" x2="548.6" y2="399.5" stroke="#111" stroke-width="1.1"/>
<text x="546.4" y="402.7" text-anchor="end" style="font-size:9.1px;font-weight:bold;fill:#111;">2.0</text>
<line x1="548.6" y1="525" x2="548.6" y2="526.6" stroke="#111" stroke-width="1.1"/>
<text x="549.2" y="535.6" text-anchor="middle" style="font-size:9.1px;font-weight:bold;fill:#111;">−0.5</text>
<line x1="573.9" y1="525" x2="573.9" y2="526.6" stroke="#111" stroke-width="1.1"/>
<text x="573.9" y="535.6" text-anchor="middle" style="font-size:9.1px;font-weight:bold;fill:#111;">0.0</text>
<line x1="599.2" y1="525" x2="599.2" y2="526.6" stroke="#111" stroke-width="1.1"/>
<text x="599.2" y="535.6" text-anchor="middle" style="font-size:9.1px;font-weight:bold;fill:#111;">0.5</text>
<line x1="624.5" y1="525" x2="624.5" y2="526.6" stroke="#111" stroke-width="1.1"/>
<text x="624.5" y="535.6" text-anchor="middle" style="font-size:9.1px;font-weight:bold;fill:#111;">1.0</text>
<line x1="649.8" y1="525" x2="649.8" y2="526.6" stroke="#111" stroke-width="1.1"/>
<text x="649.8" y="535.6" text-anchor="middle" style="font-size:9.1px;font-weight:bold;fill:#111;">1.5</text>
<line x1="675.1" y1="525" x2="675.1" y2="526.6" stroke="#111" stroke-width="1.1"/>
<text x="675.1" y="535.6" text-anchor="middle" style="font-size:9.1px;font-weight:bold;fill:#111;">2.0</text>
<text x="611.9" y="550.6" text-anchor="middle" style="font-size:9.3px;font-weight:bold;fill:#111;"><tspan style="font-style:italic">q</tspan><tspan dy="1.8" style="font-size:6.4px">xy</tspan><tspan dy="-1.8"> (Å</tspan><tspan dy="-3.4" style="font-size:6.4px">−1</tspan><tspan dy="3.4">)</tspan></text>
<text transform="translate(526.3,462.5) rotate(-90)" text-anchor="middle" style="font-size:9.3px;font-weight:bold;fill:#111;"><tspan style="font-style:italic">q</tspan><tspan dy="1.8" style="font-size:6.4px">z</tspan><tspan dy="-1.8"> (Å</tspan><tspan dy="-3.4" style="font-size:6.4px">−1</tspan><tspan dy="3.4">)</tspan></text>
</svg></body></html>
